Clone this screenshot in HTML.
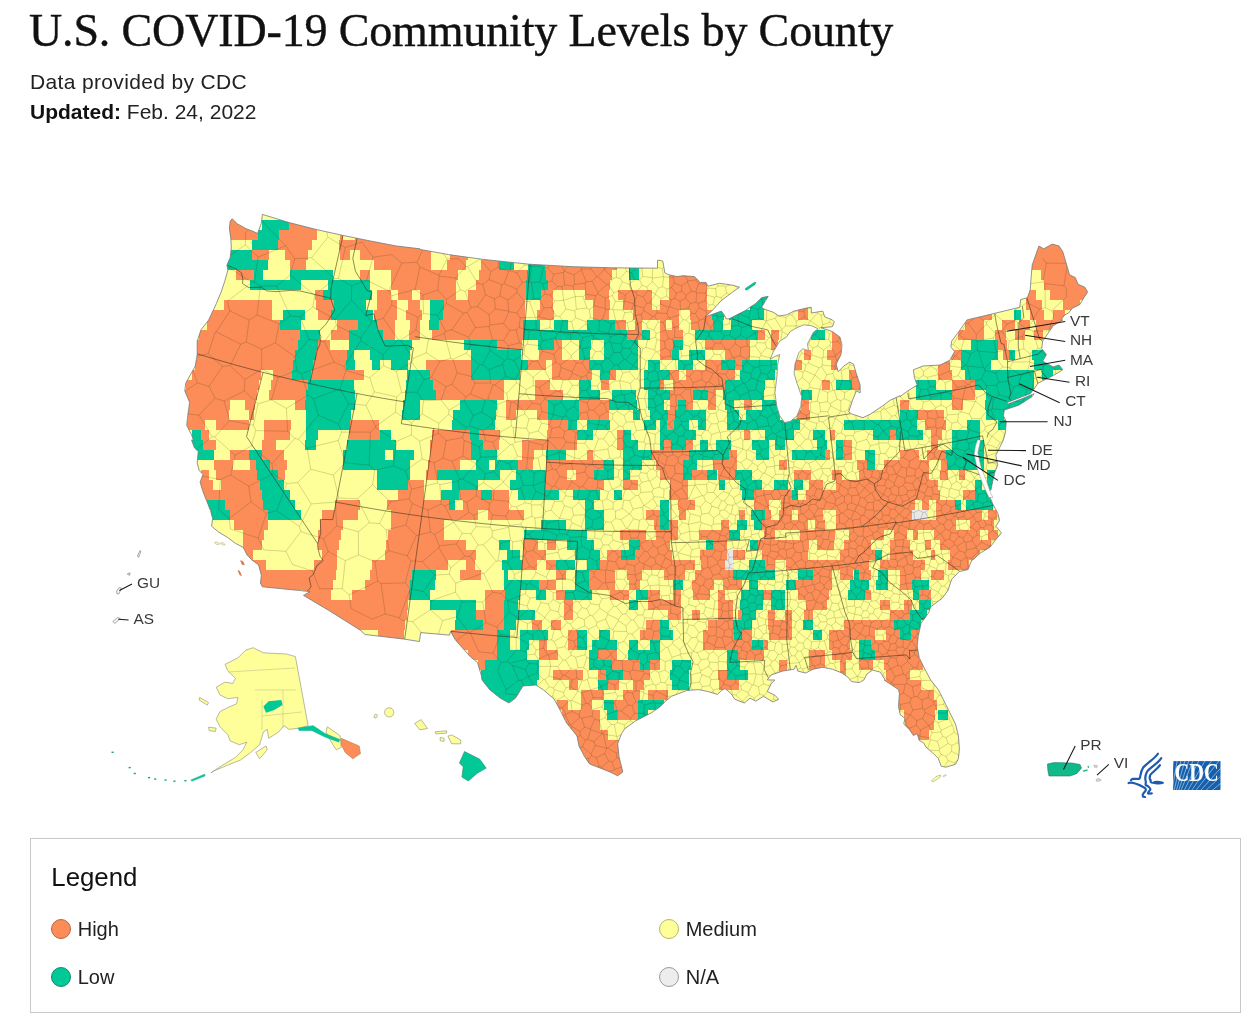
<!DOCTYPE html>
<html><head><meta charset="utf-8">
<style>
html,body{margin:0;padding:0;background:#fff;}
body{width:1253px;height:1022px;position:relative;overflow:hidden;font-family:"Liberation Sans",sans-serif;color:#111;}
#title,#sub1,#sub2,#legend,#map{will-change:transform;}
#title{position:absolute;left:29px;top:4px;font-family:"Liberation Serif",serif;font-size:46px;line-height:54px;white-space:nowrap;color:#111;letter-spacing:-0.15px;-webkit-text-stroke:0.4px #111;}
#sub1{position:absolute;left:30px;top:68px;font-size:21px;letter-spacing:0.35px;line-height:28px;color:#222;white-space:nowrap;}
#sub2{position:absolute;left:30px;top:98px;font-size:21px;line-height:28px;color:#222;white-space:nowrap;}
#sub2 b{color:#111;}
#map{position:absolute;left:0;top:0;width:1253px;height:1022px;}
#legend{position:absolute;left:30px;top:838px;width:1209px;height:173px;border:1px solid #c8c8c8;box-sizing:content-box;}
#legend .t{position:absolute;left:20.3px;top:22.6px;font-size:25.8px;line-height:30px;color:#111;}
.li{position:absolute;font-size:20px;line-height:24px;color:#222;white-space:nowrap;}
.li i{position:absolute;left:0;top:2px;width:18px;height:18px;border-radius:50%;border:1px solid #888;display:block;}
.li span{position:absolute;left:26.7px;top:0;}
</style></head><body>
<div id="title">U.S. COVID-19 Community Levels by County</div>
<div id="sub1">Data provided by CDC</div>
<div id="sub2"><b>Updated:</b> Feb. 24, 2022</div>
<svg id="map" viewBox="0 0 1253 1022">
<!--MAP-->
<defs><clipPath id="us"><polygon points="232.1,218.8 237.5,223.9 246.1,228.7 253.7,231.6 257.6,233.5 261.4,223 262.4,214.4 289.2,222.6 317,229.7 342.8,235.4 371.5,241.2 396.4,246 420,248.8 420,249.4 448.7,254.6 483.2,259.4 529.2,264.2 573.2,266.7 611.5,267.8 657.5,268.2 657.5,260.3 660,260.3 662.9,261.3 664.8,272.8 668.6,274.7 677.2,276.6 683,275.7 694.5,276.6 700.2,282.4 706,282.4 707.9,286.2 719.4,283.3 732.8,285.2 739.5,287.2 732.8,291.9 721.3,300.6 711.7,311.1 705,316.8 707.9,315.9 721.3,311.1 724.2,314.9 726.1,318.8 729,318.8 744.3,311.1 755.8,303.4 761.5,297.7 768.2,296.3 766.3,299.6 761.5,307.3 764.4,309.2 773,312.1 778.8,315.9 786.4,314.9 794.1,311.1 805.6,308.2 811.3,307.3 811.3,313 822.8,311.1 824.7,316.8 832.4,319.9 834.3,321.9 832.4,326.7 820.9,327.7 832.4,331.5 840,337.2 842,344.9 841,354.5 836.2,364.1 838.1,371.7 843.9,366 849.6,362.1 853.5,364.1 856.3,373.6 860.2,385.1 860.2,392.8 856.3,390.9 852.5,400.4 848.7,411.9 851.5,413.9 863,417.7 870.7,413.9 882.2,406.2 889.8,400.4 900,395.7 900,396.6 907.7,390.9 917.2,385.1 914.4,377.5 913.4,369.8 923,366 940.2,365 949.8,360.2 954.6,351.6 950.8,346.8 951.7,341.1 957.5,333.4 967,320 967,319.9 991.9,314 1019.7,307.3 1020.7,299.6 1027.4,297.7 1030.2,290 1031.2,276.6 1032.2,265.1 1038.9,246 1043.7,248.8 1052.3,244.1 1059,246 1062.8,251.7 1069.5,274.7 1075.3,277.6 1078.1,284.3 1084.8,287.2 1087.7,291.9 1083.9,297.7 1080,304.4 1072.4,308.2 1068.6,313 1064.7,314.9 1060.9,319.9 1062.8,320 1053.2,325.7 1042.7,341.1 1041.7,348.7 1046.5,354.5 1042.7,361.2 1053.2,366.9 1059,365 1062.8,369.8 1053.2,375.5 1045.6,379.4 1037.9,383.2 1034.1,389 1030.2,393.7 1022.6,396.6 1007.3,402.4 1007.3,404.3 1022.6,398.5 1034.1,393.7 1032.2,396.6 1018.8,405.2 1004.4,410 1003.4,415.8 1006.3,421.5 1005.3,433 1003.4,439.9 1003.4,440 999.6,447.7 995.8,455.3 997.7,464.9 994.8,472.6 992.9,480.2 991,489.8 988.1,491.7 990,497.5 992.9,504.2 997.7,512.8 999.6,520.4 995.8,526.2 1001.5,532.9 995.8,539.6 990,547.3 980.4,553 972.8,559.9 971.8,560 968,569.6 959.4,571.5 951.7,579.2 947.9,590.6 942.1,598.3 930.6,606.9 928.7,612.7 921.1,623.2 918.2,636.6 917.2,646.2 919.2,657.7 924.9,669.2 930.6,679.9 930.6,680 938.3,689.6 944.1,701.1 949.8,712.6 955.5,724.1 958.4,735.5 959.4,749 958.4,758.5 955.5,764.3 946,767.2 941.2,766.2 938.3,758.5 932.6,752.8 925.9,747 923.9,743.2 919.2,740.3 917.2,733.6 913.4,735.5 909.6,729.8 903.8,724.1 904.8,718.3 900,714.5 900,713.5 898.5,706.8 899.4,693.4 898.5,689.6 889.8,683.8 884.1,680 885.1,679.9 880.3,672.1 872.6,670.1 866.9,674 864,679.9 859.2,682.6 851.5,681.6 848.7,677.8 842,673 832.4,669.2 822.8,667.3 813.2,669.2 805.6,673 797.9,671.1 796,665.3 794.1,669.2 782.6,671.1 771.1,674.9 767.3,679.9 774.9,680 771.1,683.8 767.3,691.5 774.9,695.3 778.8,699.2 773,702 763.4,696.3 755.8,701.1 750,698.2 744.3,703 734.7,699.2 730.9,693.4 725.1,688.6 721.3,690.5 717.5,694.4 707.9,691.5 698.3,689.6 686.8,690.5 679.2,693.4 671.5,696.3 665.7,701.1 660,706.8 651,713 635.6,720.9 625,728.5 621.5,733.6 617.7,743.8 619,756.6 622.8,772 617.7,775.8 610,772 600,768 589.6,764 584.5,756.6 579,746 577,736 566.6,723 559,708 554,699 543.6,690 536,685 523,686 515.6,698 509,703 500,698 490,690 482,680 481.3,675.4 477.5,662.6 469.8,656.2 459.6,644.7 455.1,639.6 450.7,631.3 449.4,635.1 420.7,632.6 419.4,641.5 403.4,639 365.1,634.5 360,630 329.4,610.8 303.5,595.4 310.2,591.6 262.4,586.8 260.4,583 261.4,575.3 258.5,564.8 251.8,560 251.8,559.9 247,554.9 243.2,547.3 235.5,543.4 227.9,537.7 218.3,531.9 211.6,526.2 212.6,518.5 210.6,510.9 206.8,501.3 203,491.7 200.1,482.1 203,474.5 199.2,470.6 197.2,463 198.2,451.5 194.4,447.7 191.5,440 193.4,439.9 191.5,434.9 186.7,425.3 187.7,415.8 189.6,402.4 184.8,390.9 185.7,383.2 195.3,366 197.2,354.5 197.2,341.1 201.1,329.6 208.7,320 208.7,319.9 216.4,303.4 221.2,291.9 225,280.4 227.9,269.9 226.9,265.1 230.2,257.5 231.3,247.9 230.8,238.3 229.4,228.7 230.2,221.1"/></clipPath><clipPath id="cdcb"><rect x="1173.1" y="761.1" width="47.4" height="28.9"/></clipPath></defs>
<g clip-path="url(#us)" shape-rendering="crispEdges">
<polygon points="232.1,218.8 237.5,223.9 246.1,228.7 253.7,231.6 257.6,233.5 261.4,223 262.4,214.4 289.2,222.6 317,229.7 342.8,235.4 371.5,241.2 396.4,246 420,248.8 420,249.4 448.7,254.6 483.2,259.4 529.2,264.2 573.2,266.7 611.5,267.8 657.5,268.2 657.5,260.3 660,260.3 662.9,261.3 664.8,272.8 668.6,274.7 677.2,276.6 683,275.7 694.5,276.6 700.2,282.4 706,282.4 707.9,286.2 719.4,283.3 732.8,285.2 739.5,287.2 732.8,291.9 721.3,300.6 711.7,311.1 705,316.8 707.9,315.9 721.3,311.1 724.2,314.9 726.1,318.8 729,318.8 744.3,311.1 755.8,303.4 761.5,297.7 768.2,296.3 766.3,299.6 761.5,307.3 764.4,309.2 773,312.1 778.8,315.9 786.4,314.9 794.1,311.1 805.6,308.2 811.3,307.3 811.3,313 822.8,311.1 824.7,316.8 832.4,319.9 834.3,321.9 832.4,326.7 820.9,327.7 832.4,331.5 840,337.2 842,344.9 841,354.5 836.2,364.1 838.1,371.7 843.9,366 849.6,362.1 853.5,364.1 856.3,373.6 860.2,385.1 860.2,392.8 856.3,390.9 852.5,400.4 848.7,411.9 851.5,413.9 863,417.7 870.7,413.9 882.2,406.2 889.8,400.4 900,395.7 900,396.6 907.7,390.9 917.2,385.1 914.4,377.5 913.4,369.8 923,366 940.2,365 949.8,360.2 954.6,351.6 950.8,346.8 951.7,341.1 957.5,333.4 967,320 967,319.9 991.9,314 1019.7,307.3 1020.7,299.6 1027.4,297.7 1030.2,290 1031.2,276.6 1032.2,265.1 1038.9,246 1043.7,248.8 1052.3,244.1 1059,246 1062.8,251.7 1069.5,274.7 1075.3,277.6 1078.1,284.3 1084.8,287.2 1087.7,291.9 1083.9,297.7 1080,304.4 1072.4,308.2 1068.6,313 1064.7,314.9 1060.9,319.9 1062.8,320 1053.2,325.7 1042.7,341.1 1041.7,348.7 1046.5,354.5 1042.7,361.2 1053.2,366.9 1059,365 1062.8,369.8 1053.2,375.5 1045.6,379.4 1037.9,383.2 1034.1,389 1030.2,393.7 1022.6,396.6 1007.3,402.4 1007.3,404.3 1022.6,398.5 1034.1,393.7 1032.2,396.6 1018.8,405.2 1004.4,410 1003.4,415.8 1006.3,421.5 1005.3,433 1003.4,439.9 1003.4,440 999.6,447.7 995.8,455.3 997.7,464.9 994.8,472.6 992.9,480.2 991,489.8 988.1,491.7 990,497.5 992.9,504.2 997.7,512.8 999.6,520.4 995.8,526.2 1001.5,532.9 995.8,539.6 990,547.3 980.4,553 972.8,559.9 971.8,560 968,569.6 959.4,571.5 951.7,579.2 947.9,590.6 942.1,598.3 930.6,606.9 928.7,612.7 921.1,623.2 918.2,636.6 917.2,646.2 919.2,657.7 924.9,669.2 930.6,679.9 930.6,680 938.3,689.6 944.1,701.1 949.8,712.6 955.5,724.1 958.4,735.5 959.4,749 958.4,758.5 955.5,764.3 946,767.2 941.2,766.2 938.3,758.5 932.6,752.8 925.9,747 923.9,743.2 919.2,740.3 917.2,733.6 913.4,735.5 909.6,729.8 903.8,724.1 904.8,718.3 900,714.5 900,713.5 898.5,706.8 899.4,693.4 898.5,689.6 889.8,683.8 884.1,680 885.1,679.9 880.3,672.1 872.6,670.1 866.9,674 864,679.9 859.2,682.6 851.5,681.6 848.7,677.8 842,673 832.4,669.2 822.8,667.3 813.2,669.2 805.6,673 797.9,671.1 796,665.3 794.1,669.2 782.6,671.1 771.1,674.9 767.3,679.9 774.9,680 771.1,683.8 767.3,691.5 774.9,695.3 778.8,699.2 773,702 763.4,696.3 755.8,701.1 750,698.2 744.3,703 734.7,699.2 730.9,693.4 725.1,688.6 721.3,690.5 717.5,694.4 707.9,691.5 698.3,689.6 686.8,690.5 679.2,693.4 671.5,696.3 665.7,701.1 660,706.8 651,713 635.6,720.9 625,728.5 621.5,733.6 617.7,743.8 619,756.6 622.8,772 617.7,775.8 610,772 600,768 589.6,764 584.5,756.6 579,746 577,736 566.6,723 559,708 554,699 543.6,690 536,685 523,686 515.6,698 509,703 500,698 490,690 482,680 481.3,675.4 477.5,662.6 469.8,656.2 459.6,644.7 455.1,639.6 450.7,631.3 449.4,635.1 420.7,632.6 419.4,641.5 403.4,639 365.1,634.5 360,630 329.4,610.8 303.5,595.4 310.2,591.6 262.4,586.8 260.4,583 261.4,575.3 258.5,564.8 251.8,560 251.8,559.9 247,554.9 243.2,547.3 235.5,543.4 227.9,537.7 218.3,531.9 211.6,526.2 212.6,518.5 210.6,510.9 206.8,501.3 203,491.7 200.1,482.1 203,474.5 199.2,470.6 197.2,463 198.2,451.5 194.4,447.7 191.5,440 193.4,439.9 191.5,434.9 186.7,425.3 187.7,415.8 189.6,402.4 184.8,390.9 185.7,383.2 195.3,366 197.2,354.5 197.2,341.1 201.1,329.6 208.7,320 208.7,319.9 216.4,303.4 221.2,291.9 225,280.4 227.9,269.9 226.9,265.1 230.2,257.5 231.3,247.9 230.8,238.3 229.4,228.7 230.2,221.1" fill="#ffff99"/>
<path fill="#fc8d59" d="M230.2 210h26.4v10h-26.4zM290.1 210h129.9v10h-129.9zM228.8 220h28.7v10h-28.7zM289.2 220h27.8v10h-27.8zM353.3 220h66.7v10h-66.7zM229.4 230h28.2v10h-28.2zM278.6 230h38.3v10h-38.3zM339.9 230h2.9v10h-2.9zM355.3 230h64.7v10h-64.7zM277.7 240h34.5v10h-34.5zM339 240h81v10h-81zM251.8 250h17.2v10h-17.2zM285.3 250h23v10h-23zM339.9 250h10.5v10h-10.5zM360 250h60v10h-60zM290.1 260h16.3v10h-16.3zM373.5 260h46.5v10h-46.5zM235.5 270h18.2v10h-18.2zM360 270h9.6v10h-9.6zM390.7 270h29.3v10h-29.3zM390.7 280h29.3v10h-29.3zM315 290h7.7v10h-7.7zM377.3 290h13.4v10h-13.4zM398.4 290h13.4v10h-13.4zM224.1 300h47.9v10h-47.9zM316 300h18.2v10h-18.2zM377.3 300h19.2v10h-19.2zM407.9 300h12.1v10h-12.1zM208.7 310h63.2v10h-63.2zM317.9 310h13.4v10h-13.4zM373.5 310h23v10h-23zM406 310h14v10h-14zM206.8 320h72.8v10h-72.8zM337.1 320h21.1v10h-21.1zM377.3 320h17.2v10h-17.2zM409.8 320h10.2v10h-10.2zM199.2 330h100.6v10h-100.6zM331.3 330h17.2v10h-17.2zM383 330h11.5v10h-11.5zM408.9 330h11.1v10h-11.1zM197.2 340h100.6v10h-100.6zM317.9 340h12.5v10h-12.5zM197.2 350h97.7v10h-97.7zM316 350h30.6v10h-30.6zM195.3 360h97.7v10h-97.7zM313.1 360h32.6v10h-32.6zM191.5 370h69.9v10h-69.9zM272.9 370h19.2v10h-19.2zM311.2 370h52.7v10h-52.7zM185.7 380h73.7v10h-73.7zM271 380h37.4v10h-37.4zM184.8 390h71.8v10h-71.8zM269.1 390h37.4v10h-37.4zM188.6 400h41.2v10h-41.2zM245.1 400h9.6v10h-9.6zM294.9 400h9.6v10h-9.6zM187.7 410h41.2v10h-41.2zM249 410h4.8v10h-4.8zM186.7 420h18.2v10h-18.2zM216.4 420h32.6v10h-32.6zM264.3 420h26.8v10h-26.8zM349.5 420h29.7v10h-29.7zM201.1 430h7.7v10h-7.7zM264.3 430h25.9v10h-25.9zM348.6 430h31.6v10h-31.6zM203 440h12.5v10h-12.5zM262.4 440h13.4v10h-13.4zM229.8 450h19.2v10h-19.2zM262.4 450h22v10h-22zM213.5 460h19.2v10h-19.2zM249.9 460h5.7v10h-5.7zM270 460h17.2v10h-17.2zM201.1 470h7.7v10h-7.7zM216.4 470h40.2v10h-40.2zM277.7 470h7.7v10h-7.7zM200.1 480h12.5v10h-12.5zM221.2 480h39.3v10h-39.3zM407.9 480h12.1v10h-12.1zM203 490h59.4v10h-59.4zM398.4 490h21.6v10h-21.6zM225 500h38.3v10h-38.3zM335.1 500h24.9v10h-24.9zM386.9 500h33.1v10h-33.1zM229.8 510h38.3v10h-38.3zM321.7 510h36.4v10h-36.4zM390.7 510h29.3v10h-29.3zM233.6 520h34.5v10h-34.5zM319.8 520h23v10h-23zM390.7 520h29.3v10h-29.3zM243.2 530h21.1v10h-21.1zM317.9 530h23v10h-23zM387.8 530h32.2v10h-32.2zM243.2 540h19.2v10h-19.2zM317.9 540h21.1v10h-21.1zM385.9 540h34.1v10h-34.1zM245.1 550h7.7v10h-7.7zM321.7 550h15.3v10h-15.3zM384.9 550h35.1v10h-35.1zM251.8 560h14.4v10h-14.4zM314.1 560h23v10h-23zM371.5 560h48.5v10h-48.5zM259.5 570h76.6v10h-76.6zM369.6 570h42.1v10h-42.1zM260.4 580h72.8v10h-72.8zM364.8 580h45v10h-45zM302.6 590h28.7v10h-28.7zM352.4 590h56.5v10h-56.5zM312.2 600h95.8v10h-95.8zM329.4 610h77.6v10h-77.6zM344.7 620h60.3v10h-60.3zM378.2 630h25.9v10h-25.9zM420 250h10.5v10h-10.5zM449.7 250h18.2v10h-18.2zM483.2 250h176.8v10h-176.8zM420 260h10.5v10h-10.5zM446.8 260h19.2v10h-19.2zM481.3 260h17.2v10h-17.2zM544.5 260h72.8v10h-72.8zM420 270h38.3v10h-38.3zM479.4 270h47.9v10h-47.9zM545.5 270h66.1v10h-66.1zM420 280h36.4v10h-36.4zM475.5 280h50.8v10h-50.8zM548.3 280h61.3v10h-61.3zM420 290h36.4v10h-36.4zM467.9 290h58.4v10h-58.4zM540.7 290h12.5v10h-12.5zM584.7 290h23.9v10h-23.9zM618.2 290h33.5v10h-33.5zM443.9 300h81.4v10h-81.4zM539.7 300h13.4v10h-13.4zM593.3 300h16.3v10h-16.3zM623 300h28.7v10h-28.7zM420 310h1.9v10h-1.9zM443 310h82.4v10h-82.4zM536.8 310h17.2v10h-17.2zM593.3 310h15.3v10h-15.3zM632.6 310h27.4v10h-27.4zM439.2 320h84.3v10h-84.3zM615.4 320h10.5v10h-10.5zM634.5 320h7.7v10h-7.7zM431.5 330h91.9v10h-91.9zM626.9 330h15.3v10h-15.3zM496.6 340h24.9v10h-24.9zM554.1 340h7.7v10h-7.7zM538.8 350h23v10h-23zM425.7 360h45v10h-45zM528.2 360h18.2v10h-18.2zM552.2 360h36.4v10h-36.4zM429.6 370h41.2v10h-41.2zM552.2 370h40.2v10h-40.2zM609.6 370h6.7v10h-6.7zM433.4 380h70.9v10h-70.9zM534.9 380h15.3v10h-15.3zM601 380h7.7v10h-7.7zM436.3 390h68v10h-68zM534.9 390h27.8v10h-27.8zM506.2 400h42.1v10h-42.1zM579 400h29.7v10h-29.7zM506.2 410h9.6v10h-9.6zM536.8 410h11.5v10h-11.5zM579 410h29.7v10h-29.7zM548.3 420h20.1v10h-20.1zM431.5 430h38.3v10h-38.3zM479.4 430h20.1v10h-20.1zM547.4 430h29.7v10h-29.7zM617.3 430h5.7v10h-5.7zM429.6 440h41.2v10h-41.2zM483.2 440h15.3v10h-15.3zM521.5 440h55.5v10h-55.5zM617.3 440h5.7v10h-5.7zM429.6 450h41.2v10h-41.2zM521.5 450h12.5v10h-12.5zM586.6 450h6.7v10h-6.7zM651.8 450h8.2v10h-8.2zM427.7 460h32.6v10h-32.6zM517.7 460h15.3v10h-15.3zM545.5 460h58.4v10h-58.4zM655.6 460h4.4v10h-4.4zM425.7 470h11.5v10h-11.5zM544.5 470h22v10h-22zM576.1 470h18.2v10h-18.2zM420 480h3.8v10h-3.8zM544.5 480h59.4v10h-59.4zM623 480h15.3v10h-15.3zM420 490h3.8v10h-3.8zM459.3 490h22v10h-22zM491.8 490h17.2v10h-17.2zM420 500h28.7v10h-28.7zM463.1 500h46v10h-46zM420 510h57.5v10h-57.5zM488 510h36.4v10h-36.4zM646 510h14v10h-14zM420 520h23.9v10h-23.9zM653.7 520h6.3v10h-6.3zM420 530h23.9v10h-23.9zM620.2 530h25.9v10h-25.9zM655.6 530h4.4v10h-4.4zM420 540h46v10h-46zM523.4 540h14.4v10h-14.4zM547.4 540h8.6v10h-8.6zM640.3 540h19.7v10h-19.7zM420 550h55.5v10h-55.5zM523.4 550h23v10h-23zM606.8 550h14.4v10h-14.4zM634.5 550h25.5v10h-25.5zM420 560h27.8v10h-27.8zM466 560h8.6v10h-8.6zM521.5 560h15.3v10h-15.3zM546.4 560h9.6v10h-9.6zM600 560h60v10h-60zM460.2 570h21.1v10h-21.1zM556 570h9.6v10h-9.6zM588.6 570h26.8v10h-26.8zM626.9 570h15.3v10h-15.3zM538.8 580h17.2v10h-17.2zM588.6 580h26.8v10h-26.8zM628.8 580h11.5v10h-11.5zM485.1 590h20.1v10h-20.1zM556 590h8.6v10h-8.6zM609.6 590h19.2v10h-19.2zM647.9 590h12.1v10h-12.1zM485.1 600h19.2v10h-19.2zM563.7 600h9.6v10h-9.6zM647.9 600h12.1v10h-12.1zM475.5 610h28.7v10h-28.7zM563.7 610h9.6v10h-9.6zM483.2 620h21.1v10h-21.1zM532.1 620h9.6v10h-9.6zM551.2 620h9.6v10h-9.6zM646 620h14v10h-14zM450.6 630h46v10h-46zM567.5 630h9.6v10h-9.6zM640.3 630h19.7v10h-19.7zM456.4 640h40.2v10h-40.2zM538.8 640h8.6v10h-8.6zM567.5 640h9.6v10h-9.6zM467.9 650h28.7v10h-28.7zM538.8 650h19.2v10h-19.2zM598.1 650h19.2v10h-19.2zM477.5 660h7.7v10h-7.7zM611.5 660h28.7v10h-28.7zM649.8 660h10.2v10h-10.2zM553.1 670h29.7v10h-29.7zM598.1 670h7.7v10h-7.7zM623 670h26.8v10h-26.8zM569.4 680h8.6v10h-8.6zM607.7 680h11.5v10h-11.5zM632.6 680h11.5v10h-11.5zM580.9 690h23v10h-23zM623 690h17.2v10h-17.2zM647.9 690h12.1v10h-12.1zM557 700h10.5v10h-10.5zM580.9 700h11.5v10h-11.5zM613.5 700h24.9v10h-24.9zM561.7 710h38.3v10h-38.3zM617.3 710h21.1v10h-21.1zM565.6 720h34.5v10h-34.5zM573.2 730h34.5v10h-34.5zM573.2 740h53.6v10h-53.6zM577.1 750h49.8v10h-49.8zM582.8 760h44.1v10h-44.1zM592.4 770h34.5v10h-34.5zM602 780h24.9v10h-24.9zM668.6 270h39.3v10h-39.3zM668.6 280h38.3v10h-38.3zM668.6 290h38.3v10h-38.3zM660 300h46.9v10h-46.9zM797.9 300h9.6v10h-9.6zM660 310h19.2v10h-19.2zM689.7 310h22v10h-22zM797.9 310h9.6v10h-9.6zM660 320h5.7v10h-5.7zM671.5 320h7.7v10h-7.7zM690.6 320h22v10h-22zM660 330h23v10h-23zM757.7 330h7.7v10h-7.7zM771.1 330h7.7v10h-7.7zM832.4 330h8.6v10h-8.6zM660 340h12.5v10h-12.5zM705 340h45v10h-45zM771.1 340h6.7v10h-6.7zM832.4 340h8.6v10h-8.6zM660 350h11.5v10h-11.5zM725.1 350h24.9v10h-24.9zM803.7 350h7.7v10h-7.7zM826.6 350h15.3v10h-15.3zM705 360h16.3v10h-16.3zM734.7 360h7.7v10h-7.7zM794.1 360h7.7v10h-7.7zM830.5 360h7.7v10h-7.7zM669.6 370h9.6v10h-9.6zM685.9 370h48.8v10h-48.8zM848.7 370h9.6v10h-9.6zM660 380h3.8v10h-3.8zM673.4 380h51.7v10h-51.7zM821.9 380h7.7v10h-7.7zM851.5 380h8.6v10h-8.6zM669.6 390h23v10h-23zM707.9 390h7.7v10h-7.7zM669.6 400h8.6v10h-8.6zM685.9 400h6.7v10h-6.7zM707.9 400h7.7v10h-7.7zM744.3 400h7.7v10h-7.7zM800.8 400h8.6v10h-8.6zM667.7 410h7.7v10h-7.7zM797 410h12.5v10h-12.5zM666.7 420h7.7v10h-7.7zM744.3 430h5.7v10h-5.7zM829.5 430h5.7v10h-5.7zM889.8 430h5.7v10h-5.7zM663.8 440h6.7v10h-6.7zM685.9 440h6.7v10h-6.7zM842.9 440h8.6v10h-8.6zM660 450h28.7v10h-28.7zM729 450h7.7v10h-7.7zM824.7 450h5.7v10h-5.7zM842.9 450h8.6v10h-8.6zM660 460h23v10h-23zM712.7 460h23.9v10h-23.9zM778.8 460h7.7v10h-7.7zM857.3 460h9.6v10h-9.6zM884.1 460h15.9v10h-15.9zM660 470h23v10h-23zM691.6 470h15.3v10h-15.3zM717.5 470h17.2v10h-17.2zM794.1 470h17.2v10h-17.2zM832.4 470h9.6v10h-9.6zM859.2 470h40.8v10h-40.8zM669.6 480h18.2v10h-18.2zM809.4 480h13.4v10h-13.4zM836.2 480h63.8v10h-63.8zM668.6 490h19.2v10h-19.2zM753.9 490h38.3v10h-38.3zM805.6 490h94.4v10h-94.4zM678.2 500h16.3v10h-16.3zM753.9 500h15.3v10h-15.3zM780.7 500h119.3v10h-119.3zM679.2 510h6.7v10h-6.7zM738.5 510h6.7v10h-6.7zM765.3 510h5.7v10h-5.7zM778.8 510h13.4v10h-13.4zM797.9 510h24.9v10h-24.9zM836.2 510h63.8v10h-63.8zM668.6 520h9.6v10h-9.6zM721.3 520h7.7v10h-7.7zM761.5 520h46v10h-46zM815.1 520h9.6v10h-9.6zM836.2 520h63.8v10h-63.8zM660 530h18.2v10h-18.2zM699.3 530h29.7v10h-29.7zM764.4 530h10.5v10h-10.5zM799.8 530h35.4v10h-35.4zM848.7 530h35.4v10h-35.4zM893.7 530h6.3v10h-6.3zM660 540h9.6v10h-9.6zM712.7 540h14.4v10h-14.4zM757.7 540h51.7v10h-51.7zM817.1 540h17.2v10h-17.2zM843.9 540h26.8v10h-26.8zM889.8 540h10.2v10h-10.2zM660 550h11.5v10h-11.5zM700.2 550h26.8v10h-26.8zM732.8 550h12.5v10h-12.5zM761.5 550h46v10h-46zM840 550h34.5v10h-34.5zM889.8 550h10.2v10h-10.2zM660 560h35.4v10h-35.4zM701.2 560h23.9v10h-23.9zM765.3 560h9.6v10h-9.6zM786.4 560h82.4v10h-82.4zM880.3 560h19.7v10h-19.7zM663.8 570h21.1v10h-21.1zM694.5 570h38.3v10h-38.3zM813.2 570h19.2v10h-19.2zM840 570h13.4v10h-13.4zM859.2 570h11.5v10h-11.5zM691.6 580h22v10h-22zM723.2 580h19.2v10h-19.2zM796 580h36.4v10h-36.4zM673.4 590h7.7v10h-7.7zM692.6 590h17.2v10h-17.2zM717.5 590h7.7v10h-7.7zM764.4 590h6.7v10h-6.7zM797.9 590h30.6v10h-30.6zM864.9 590h5.7v10h-5.7zM660 600h21.1v10h-21.1zM717.5 600h15.3v10h-15.3zM805.6 600h21.1v10h-21.1zM880.3 600h9.6v10h-9.6zM667.7 610h13.4v10h-13.4zM691.6 610h8.6v10h-8.6zM717.5 610h15.3v10h-15.3zM737.6 610h4.8v10h-4.8zM768.2 610h6.7v10h-6.7zM784.5 610h7.7v10h-7.7zM803.7 610h9.6v10h-9.6zM889.8 610h10.2v10h-10.2zM707.9 620h24.9v10h-24.9zM768.2 620h23.9v10h-23.9zM843.9 620h49.8v10h-49.8zM703.1 630h30.6v10h-30.6zM742.4 630h9.6v10h-9.6zM769.2 630h23v10h-23zM828.6 630h46v10h-46zM886 630h14v10h-14zM703.1 640h48.8v10h-48.8zM763.4 640h4.8v10h-4.8zM828.6 640h21.1v10h-21.1zM870.7 640h29.3v10h-29.3zM737.6 650h25.9v10h-25.9zM809.4 650h15.3v10h-15.3zM832.4 650h19.2v10h-19.2zM874.5 650h25.5v10h-25.5zM778.8 660h8.6v10h-8.6zM809.4 660h15.3v10h-15.3zM840 660h5.7v10h-5.7zM859.2 660h13.4v10h-13.4zM884.1 660h15.9v10h-15.9zM717.5 670h9.6v10h-9.6zM778.8 670h8.6v10h-8.6zM840 670h5.7v10h-5.7zM886 670h14v10h-14zM719.4 680h19.2v10h-19.2zM884.1 680h15.9v10h-15.9zM660 690h7.7v10h-7.7zM895.6 690h4.4v10h-4.4zM897.5 700h2.5v10h-2.5zM898.5 710h1.5v10h-1.5zM1034.1 240h30.6v10h-30.6zM1032.2 250h34.5v10h-34.5zM1031.2 260h37.4v10h-37.4zM1040.8 270h35.4v10h-35.4zM1043.7 280h43.1v10h-43.1zM1025.5 290h10.5v10h-10.5zM1050.4 290h36.4v10h-36.4zM1025.5 300h16.3v10h-16.3zM1062.8 300h17.2v10h-17.2zM969 310h23v10h-23zM1030.2 310h13.4v10h-13.4zM1053.2 310h11.5v10h-11.5zM965.1 320h19.2v10h-19.2zM1001.5 320h13.4v10h-13.4zM1018.8 320h11.5v10h-11.5zM1036 320h26.8v10h-26.8zM957.5 330h26.8v10h-26.8zM994.8 330h11.5v10h-11.5zM1014.9 330h9.6v10h-9.6zM1034.1 330h8.6v10h-8.6zM997.7 340h9.6v10h-9.6zM950.8 350h10.5v10h-10.5zM1003.4 350h5.7v10h-5.7zM938.3 360h11.5v10h-11.5zM938.3 370h13.4v10h-13.4zM951.7 380h23v10h-23zM951.7 390h23v10h-23zM900 400h8.6v10h-8.6zM951.7 400h11.5v10h-11.5zM918.2 410h25.9v10h-25.9zM924.9 420h21.1v10h-21.1zM930.6 430h11.5v10h-11.5zM930.6 440h7.7v10h-7.7zM900 450h19.2v10h-19.2zM926.8 450h19.2v10h-19.2zM900 460h28.7v10h-28.7zM941.2 460h5.7v10h-5.7zM900 470h28.7v10h-28.7zM940.2 470h7.7v10h-7.7zM959.4 470h5.7v10h-5.7zM900 480h38.3v10h-38.3zM900 490h40.2v10h-40.2zM963.2 490h11.5v10h-11.5zM900 500h15.3v10h-15.3zM922 500h6.7v10h-6.7zM936.4 500h18.2v10h-18.2zM900 510h11.5v10h-11.5zM936.4 510h46v10h-46zM988.1 510h8.6v10h-8.6zM900 520h55.5v10h-55.5zM969.9 520h23.9v10h-23.9zM900 530h6.7v10h-6.7zM912.5 530h5.7v10h-5.7zM933.5 530h46.9v10h-46.9zM988.1 530h9.6v10h-9.6zM900 540h9.6v10h-9.6zM924.9 540h5.7v10h-5.7zM940.2 540h50.8v10h-50.8zM900 550h13.4v10h-13.4zM930.6 550h4.8v10h-4.8zM949.8 550h30.6v10h-30.6zM900 560h24.9v10h-24.9zM947.9 560h21.1v10h-21.1zM900 570h21.1v10h-21.1zM930.6 570h13.4v10h-13.4zM900 580h11.5v10h-11.5zM919.2 590h11.5v10h-11.5zM903.8 600h7.7v10h-7.7zM900 610h9.6v10h-9.6zM910.5 630h8.6v10h-8.6zM900 640h18.2v10h-18.2zM900 650h19.2v10h-19.2zM900 660h23v10h-23zM900 670h9.6v10h-9.6zM900 680h21.1v10h-21.1zM900 690h33.5v10h-33.5zM900 700h37.4v10h-37.4zM903.8 710h31.6v10h-31.6zM904.8 720h28.7v10h-28.7zM909.6 730h19.2v10h-19.2z"/>
<path fill="#00c896" d="M262.4 220h26.8v10h-26.8zM257.6 230h4.8v10h-4.8zM262.4 230h16.3v10h-16.3zM251.8 240h25.9v10h-25.9zM229.4 250h22.4v10h-22.4zM226.9 260h41.2v10h-41.2zM253.7 270h9.6v10h-9.6zM290.1 270h43.1v10h-43.1zM249.9 280h50.8v10h-50.8zM327.5 280h42.1v10h-42.1zM322.7 290h48.8v10h-48.8zM334.2 300h31.6v10h-31.6zM283.4 310h21.1v10h-21.1zM331.3 310h42.1v10h-42.1zM279.6 320h21.1v10h-21.1zM358.1 320h19.2v10h-19.2zM299.7 330h20.1v10h-20.1zM348.6 330h34.5v10h-34.5zM297.8 340h20.1v10h-20.1zM348.6 340h63.2v10h-63.2zM294.9 350h21.1v10h-21.1zM346.6 350h7.7v10h-7.7zM369.6 350h40.2v10h-40.2zM293 360h20.1v10h-20.1zM345.7 360h9.6v10h-9.6zM371.5 360h8.6v10h-8.6zM390.7 360h17.2v10h-17.2zM292.1 370h19.2v10h-19.2zM407 370h13v10h-13zM308.3 380h46v10h-46zM406 380h14v10h-14zM306.4 390h48.8v10h-48.8zM405.1 390h14.9v10h-14.9zM304.5 400h50.8v10h-50.8zM403.1 400h16.9v10h-16.9zM306.4 410h44.1v10h-44.1zM402.2 410h17.8v10h-17.8zM306.4 420h43.1v10h-43.1zM191.5 430h9.6v10h-9.6zM305.5 430h12.5v10h-12.5zM380.2 430h10.5v10h-10.5zM191.5 440h11.5v10h-11.5zM304.5 440h11.5v10h-11.5zM346.6 440h49.8v10h-49.8zM196.3 450h17.2v10h-17.2zM249 450h13.4v10h-13.4zM342.8 450h42.1v10h-42.1zM392.6 450h21.1v10h-21.1zM255.7 460h14.4v10h-14.4zM342.8 460h67v10h-67zM256.6 470h21.1v10h-21.1zM377.3 470h32.6v10h-32.6zM260.4 480h23.9v10h-23.9zM377.3 480h30.6v10h-30.6zM262.4 490h27.8v10h-27.8zM206.8 500h18.2v10h-18.2zM263.3 500h31.6v10h-31.6zM210.6 510h19.2v10h-19.2zM268.1 510h32.6v10h-32.6zM411.8 570h8.2v10h-8.2zM409.8 580h10.2v10h-10.2zM408.9 590h11.1v10h-11.1zM498.5 260h15.3v10h-15.3zM528.2 260h16.3v10h-16.3zM628.8 260h10.5v10h-10.5zM527.3 270h18.2v10h-18.2zM628.8 270h10.5v10h-10.5zM526.3 280h22v10h-22zM526.3 290h14.4v10h-14.4zM429.6 300h14.4v10h-14.4zM429.6 310h13.4v10h-13.4zM428.6 320h10.5v10h-10.5zM523.4 320h16.3v10h-16.3zM554.1 320h13.4v10h-13.4zM586.6 320h28.7v10h-28.7zM523.4 330h103.4v10h-103.4zM642.2 330h7.7v10h-7.7zM464.1 340h32.6v10h-32.6zM537.8 340h16.3v10h-16.3zM579 340h11.5v10h-11.5zM603.9 340h34.5v10h-34.5zM470.8 350h49.8v10h-49.8zM579 350h10.5v10h-10.5zM603.9 350h34.5v10h-34.5zM470.8 360h57.5v10h-57.5zM588.6 360h49.8v10h-49.8zM647.9 360h12.1v10h-12.1zM420 370h9.6v10h-9.6zM470.8 370h48.8v10h-48.8zM600 370h9.6v10h-9.6zM644.1 370h15.9v10h-15.9zM420 380h13.4v10h-13.4zM579 380h11.5v10h-11.5zM644.1 380h15.9v10h-15.9zM420 390h16.3v10h-16.3zM579 390h21.1v10h-21.1zM611.5 390h24.9v10h-24.9zM647.9 390h12.1v10h-12.1zM460.2 400h36.4v10h-36.4zM548.3 400h30.6v10h-30.6zM608.7 400h27.8v10h-27.8zM647.9 400h12.1v10h-12.1zM452.6 410h43.1v10h-43.1zM548.3 410h30.6v10h-30.6zM632.6 410h7.7v10h-7.7zM649.8 410h10.2v10h-10.2zM451.6 420h43.1v10h-43.1zM568.4 420h8.6v10h-8.6zM586.6 420h23v10h-23zM644.1 420h11.5v10h-11.5zM469.8 430h9.6v10h-9.6zM577.1 430h16.3v10h-16.3zM623 430h7.7v10h-7.7zM470.8 440h12.5v10h-12.5zM623 440h15.3v10h-15.3zM470.8 450h25.9v10h-25.9zM545.5 450h20.1v10h-20.1zM623 450h28.7v10h-28.7zM475.5 460h13.4v10h-13.4zM494.7 460h23v10h-23zM603.9 460h9.6v10h-9.6zM623 460h19.2v10h-19.2zM437.2 470h63.2v10h-63.2zM515.8 470h28.7v10h-28.7zM594.3 470h19.2v10h-19.2zM623 470h6.7v10h-6.7zM451.6 480h25.9v10h-25.9zM510 480h34.5v10h-34.5zM441.1 490h18.2v10h-18.2zM481.3 490h10.5v10h-10.5zM517.7 490h41.2v10h-41.2zM573.2 490h26.8v10h-26.8zM613.5 490h8.6v10h-8.6zM448.7 500h6.7v10h-6.7zM584.7 500h9.6v10h-9.6zM584.7 510h19.2v10h-19.2zM540.7 520h24.9v10h-24.9zM584.7 520h19.2v10h-19.2zM524.4 530h62.3v10h-62.3zM498.5 540h11.5v10h-11.5zM566.5 540h27.8v10h-27.8zM628.8 540h11.5v10h-11.5zM507.2 550h12.5v10h-12.5zM575.1 550h24.9v10h-24.9zM621.1 550h13.4v10h-13.4zM502.4 560h19.2v10h-19.2zM556 560h19.2v10h-19.2zM586.6 560h13.4v10h-13.4zM420 570h16.3v10h-16.3zM504.3 570h3.8v10h-3.8zM575.1 570h13.4v10h-13.4zM420 580h15.3v10h-15.3zM504.3 580h15.3v10h-15.3zM519.6 580h19.2v10h-19.2zM575.1 580h13.4v10h-13.4zM420 590h9.6v10h-9.6zM505.2 590h14.4v10h-14.4zM535.9 590h9.6v10h-9.6zM564.6 590h27.8v10h-27.8zM636.4 590h11.5v10h-11.5zM429.6 600h46v10h-46zM504.3 600h13.4v10h-13.4zM628.8 600h9.6v10h-9.6zM456.4 610h19.2v10h-19.2zM504.3 610h12.5v10h-12.5zM516.7 610h18.2v10h-18.2zM455.4 620h27.8v10h-27.8zM504.3 620h11.5v10h-11.5zM496.6 630h13.4v10h-13.4zM519.6 630h28.7v10h-28.7zM577.1 630h9.6v10h-9.6zM599.1 630h10.5v10h-10.5zM496.6 640h13.4v10h-13.4zM519.6 640h9.6v10h-9.6zM577.1 640h9.6v10h-9.6zM592.4 640h24.9v10h-24.9zM628.8 640h9.6v10h-9.6zM649.8 640h10.2v10h-10.2zM496.6 650h30.6v10h-30.6zM588.6 650h9.6v10h-9.6zM627.8 650h32.2v10h-32.2zM485.1 660h53.6v10h-53.6zM588.6 660h23v10h-23zM640.3 660h9.6v10h-9.6zM481.3 670h57.5v10h-57.5zM605.8 670h17.2v10h-17.2zM420 680h116.8v10h-116.8zM598.1 680h9.6v10h-9.6zM420 690h99.6v10h-99.6zM496.6 700h23v10h-23zM603.9 700h9.6v10h-9.6zM638.4 700h21.6v10h-21.6zM606.8 710h10.5v10h-10.5zM638.4 710h9.6v10h-9.6zM745.2 280h10.5v10h-10.5zM759.6 290h8.6v10h-8.6zM750 300h15.3v10h-15.3zM711.7 310h12.5v10h-12.5zM729 310h35.4v10h-35.4zM712.7 320h10.5v10h-10.5zM730.9 320h21.1v10h-21.1zM694.5 330h63.2v10h-63.2zM811.3 330h13.4v10h-13.4zM672.5 340h10.5v10h-10.5zM671.5 350h7.7v10h-7.7zM688.7 350h16.3v10h-16.3zM678.2 360h14.4v10h-14.4zM721.3 360h13.4v10h-13.4zM742.4 360h34.5v10h-34.5zM660 370h9.6v10h-9.6zM740.4 370h34.5v10h-34.5zM725.1 380h40.2v10h-40.2zM836.2 380h15.3v10h-15.3zM660 390h9.6v10h-9.6zM692.6 390h15.3v10h-15.3zM723.2 390h41.2v10h-41.2zM800.8 390h11.5v10h-11.5zM660 400h3.8v10h-3.8zM678.2 400h7.7v10h-7.7zM725.1 400h8.6v10h-8.6zM761.5 400h15.3v10h-15.3zM660 410h7.7v10h-7.7zM675.3 410h30.6v10h-30.6zM727 410h11.5v10h-11.5zM746.2 410h33.5v10h-33.5zM660 420h6.7v10h-6.7zM674.4 420h14.4v10h-14.4zM698.3 420h7.7v10h-7.7zM727 420h72.8v10h-72.8zM843.9 420h46v10h-46zM889.8 420h10.2v10h-10.2zM660 430h36.4v10h-36.4zM765.3 430h28.7v10h-28.7zM813.2 430h11.5v10h-11.5zM872.6 430h17.2v10h-17.2zM895.6 430h4.4v10h-4.4zM660 440h3.8v10h-3.8zM670.5 440h15.3v10h-15.3zM700.2 440h7.7v10h-7.7zM715.5 440h15.3v10h-15.3zM751.9 440h17.2v10h-17.2zM774.9 440h9.6v10h-9.6zM817.1 440h9.6v10h-9.6zM836.2 440h6.7v10h-6.7zM688.7 450h40.2v10h-40.2zM755.8 450h13.4v10h-13.4zM792.2 450h32.6v10h-32.6zM836.2 450h6.7v10h-6.7zM864.9 450h9.6v10h-9.6zM683 460h14.4v10h-14.4zM866.9 460h7.7v10h-7.7zM683 470h8.6v10h-8.6zM706.9 470h10.5v10h-10.5zM734.7 470h17.2v10h-17.2zM719.4 480h5.7v10h-5.7zM740.4 480h21.1v10h-21.1zM774 480h14.4v10h-14.4zM794.1 480h8.6v10h-8.6zM742.4 490h11.5v10h-11.5zM792.2 490h5.7v10h-5.7zM660 500h8.6v10h-8.6zM660 510h8.6v10h-8.6zM751 510h14.4v10h-14.4zM660 520h8.6v10h-8.6zM736.6 520h10.5v10h-10.5zM753.9 520h7.7v10h-7.7zM729 530h10.5v10h-10.5zM706 540h6.7v10h-6.7zM750 540h7.7v10h-7.7zM874.5 550h7.7v10h-7.7zM749.1 560h16.3v10h-16.3zM732.8 570h11.5v10h-11.5zM744.3 570h30.6v10h-30.6zM797.9 570h15.3v10h-15.3zM853.5 570h5.7v10h-5.7zM878.4 570h9.6v10h-9.6zM673.4 580h9.6v10h-9.6zM749.1 580h8.6v10h-8.6zM786.4 580h9.6v10h-9.6zM849.6 580h19.2v10h-19.2zM876.4 580h11.5v10h-11.5zM741.4 590h23v10h-23zM771.1 590h13.4v10h-13.4zM847.7 590h17.2v10h-17.2zM740.4 600h23v10h-23zM771.1 600h13.4v10h-13.4zM742.4 610h13.4v10h-13.4zM660 620h8.6v10h-8.6zM732.8 620h19.2v10h-19.2zM802.7 620h10.5v10h-10.5zM893.7 620h6.3v10h-6.3zM660 630h12.5v10h-12.5zM733.7 630h8.6v10h-8.6zM813.2 630h8.6v10h-8.6zM751.9 640h11.5v10h-11.5zM859.2 640h11.5v10h-11.5zM727 650h10.5v10h-10.5zM859.2 650h15.3v10h-15.3zM671.5 660h19.2v10h-19.2zM727 660h13.4v10h-13.4zM669.6 670h19.2v10h-19.2zM727 670h21.1v10h-21.1zM671.5 680h17.2v10h-17.2zM660 700h3.8v10h-3.8zM1014 310h6.7v10h-6.7zM970.9 340h26.8v10h-26.8zM961.3 350h36.4v10h-36.4zM1009.2 350h5.7v10h-5.7zM1032.2 350h13.4v10h-13.4zM961.3 360h29.7v10h-29.7zM1034.1 360h28.7v10h-28.7zM965.1 370h69v10h-69zM1041.7 370h11.5v10h-11.5zM916.3 380h20.1v10h-20.1zM974.7 380h59.4v10h-59.4zM916.3 390h35.4v10h-35.4zM986.2 390h46v10h-46zM985.2 400h19.2v10h-19.2zM1004.4 400h22v10h-22zM900 410h18.2v10h-18.2zM986.2 410h18.2v10h-18.2zM900 420h17.2v10h-17.2zM967 420h12.5v10h-12.5zM997.7 420h8.6v10h-8.6zM900 430h23v10h-23zM951.7 430h28.7v10h-28.7zM951.7 440h32.6v10h-32.6zM946 450h38.3v10h-38.3zM946.9 460h37.4v10h-37.4zM987.2 470h7.7v10h-7.7zM974.7 480h7.7v10h-7.7zM987.2 480h5.7v10h-5.7zM974.7 490h17.2v10h-17.2zM954.6 500h6.7v10h-6.7zM966.1 500h26.8v10h-26.8zM911.5 580h17.2v10h-17.2zM913.4 590h5.7v10h-5.7zM919.2 600h11.5v10h-11.5zM909.6 610h17.2v10h-17.2zM900 620h21.1v10h-21.1zM900 630h10.5v10h-10.5zM938.3 710h9.6v10h-9.6z"/>
<path fill="#e8e8e8" d="M727 550h5.7v10h-5.7zM725.1 560h8.6v10h-8.6zM911.5 510h16.3v10h-16.3z"/>
</g>
<g clip-path="url(#us)"><path d="M156.2 410.4l41.2-27.5l-9.3-24.5l20.1-4.7l14.3 12.7l-13.5 20l-11.6-3.5M156.2 410.4l42.9 4.8l15.9-17.1l-6-11.7M171.4 469.6l40.7-32.7l2.6 0.1l15-16.5l-5.6-19.4l-9.1-3M171.4 469.6l48.9 10l-1.7 29.9l10.5 9l21.9-16.6l15.4 11.4l-8.2 24.8l-27.7-9.1l-1.4-10.5M199.1 415.2l13 21.7M208.2 353.7l7-21.6l1-0.3l13.7-20.9l-2.8-9.4l25.1-19.2l-31.6-20l24.7-17.4l12.9 12.2l27.5-11.4l-25.7-27l-14.3 13.8l-0.4 12.4M214.7 437l20.4 18.3l-4.4 19.7l-10.4 4.6M216.2 331.8l24.5 12.4l-10.5 21.5l14.6 13.9l16.8-10.6l0-19.9l-15.4-7.1l-5.5 2.2M222.5 366.4l7.7-0.7M224.1 401.1l20.3-10.1l0.4-11.4M229.7 420.5l23.7 4.8l4.7-21.5l-13.7-12.8M229.9 310.9l19.2 9.1l-2.9 22M230.7 475l18 11.2l2.3 15.7M235.1 455.3l16.3-9.5l4.4-15.2l-2.4-5.3M248.7 486.2l24.4-12.5l13.8 9.8l-10.1 27.2l-10.4 2.6M249.1 320l8-5l3.2-28.9l16.3-0.1l13.5 30l-10.9 7.9l-22.1-8.9M251.4 445.8l20.6 17.8l1.1 10.1M252.2 282.3l2.2-0.1l5.9 3.9M254.4 282.2l3.8-25.1M255.8 430.6l31.9 0.7l7.1 7.2l-22.8 25.1M258.1 403.8l13.4-3.9l14.9 8.5l1.3 22.9M258.2 538.1l5.6 11.9l22.1 1.3l14.9-19.7l22.9 7.2l12.9-12.9l21.8 5.8l0.1 23.2l-13.2 5.8l-17.1-9.2l-4.5-12.7M261.6 349.1l13.8-6.3l3.8-18.9M261.6 369l16.3 8.7l-6.4 22.2M275.4 342.8l19.3 13.8l14.2-17.4l15.5 2.6l9.8 20.4l-32.8 11.5l-4.3-3.1l-2.4-14M276.6 286l13.5-11l4.6-16.3l16.9-0.9l16.3-20.6l-9.3-39.5M276.8 510.7l22.6 15.8l1.4 5.1M277.9 377.7l19.2-7.1M285.7 245.7l0.1 0l8.9 13M285.9 551.3l6.6 13.2l19.8 6.4l15.9-19.4M286.4 408.4l21.6-13.2l5.5 3.5l4.9 16.4l-20 24.2l-3.6-0.8M286.9 483.5l10.8-0.9l13.5 21.3l-11.8 22.6M290.1 275l24.6 20.3l20-16.7l-23.1-20.8M290.1 316l9.9 0.7l12.8-9.7l1.9-11.7M297.7 482.6l13-13.4l-3.5-21l-8.8-8.9M300 316.7l8.9 22.5M301.4 373.7l6.6 21.5M307.2 448.2l31-7.7l3.5-8.4l-3.4-8l-19.9-9M310.7 469.2l22.7 5.9l5.4 22.9l-3.4 4.1l1.2 23.8M311.2 503.9l24.2-1.8M312.3 570.9l7.3 17.8l22.6 0l6.9 6.2l28.6-13.7l3.4 2.4l4.2 30.3l-13 5.2l-21.1-10.4l-2.1-13.8M312.8 307l22.2 12.1l16.5-18.8l0.1-14.5l-13.1-7.4l6.8-30.9l-17.4-10.3M313.5 398.7l26.6-9.8l8.4 14.7l17.5 1.7l8.3-13.5l-4.5-14.2l-23.9-7.2l-5.8 18.5M324.4 341.8l11.9-16.6l-1.3-6.1M333.4 475.1l11.9-12.3l-7.1-22.3M334.2 362.2l9.9 4.3l16.8-25.7l-0.2-2.9l-24.4-12.7M334.7 278.6l3.8-0.2M338.3 424.1l10.2-20.5M338.8 498l18.8 0.6l11.8 24.2l-11 8.9M341.7 432.1l28.7 0l-1.2 33l-23.9-2.3M342.2 588.7l3.1-28M344.1 366.5l1.8 3.9M345.3 247.5l16.6-5.5l11.1 15.2l18.8-2.6l10 8.4l-12.9 28l2.9 4.7l23.3-6.1l4.8-22.6l-3-4.7l-15.1 0.7M351.5 300.3l20.4 21.3l-11.2 16.3M351.6 285.8l15.1-5.5l6.3-23.1M357.6 498.6l15-14l17.6 17.1l19-2.9l3 4.7l-6.4 21.6l10.6 10.3l14.1-3.2l-2.6-22.1l-15.7-6.6M358.5 554.9l16.5 6.8l2.7 19.5M360.9 340.8l21.8 13.7l15.7-14.9l-15.1-21.3l8.4-13.3l0.1-9.3M366 405.3l9.6 21.2l19.9-14.4l15.9 10.7l10.8-8.8l1.2-13.2l-6.2-8.6l7-12.6l7-2.2l8.6-16l-13.7-8.6l2.4-13.6l15.8-5.6l6.6 24.9l-11.1 2.9M366.7 280.3l22.2 10.7M369.2 465.1l5.5 5.2l-2.1 14.3M369.4 522.8l10.2 0.8l6.5 6.3l2.8 20.8l-13.9 11M369.8 377.6l13.9-11.8l12.7 5.5l15.5-9.1l12.3 17.4M370.4 432.1l5-4.6l0.2-1M371.9 321.6l11.4-3.3M374.3 391.8l22.3 5.1l-1.1 15.2M374.7 470.3l18.8-4.4l3-24.5l15-6.5l8.1 6.3l2.6 17.8l-16.9 11.7l-11.8-4.8M375.4 427.5l21.1 13.9M379.6 523.6l10.6-21.9M381.1 583.6l24.2-0.8l4.8 6.1l-10.6 29l-14.2-4M382.7 354.5l1 11.3M386.1 529.9l19.7-4.8M388.9 550.7l18.4 5.2l3.6 5l-5.6 21.9M391.7 305l26.2 12.3l5.7-3.8l-0.8-18.4l-7.7-5.5M396.4 371.3l5.2 21.1l15.6-0.2M396.6 396.9l5-4.5M398.4 339.6l2.4 0.4l15.1-9.9l2-12.8M399.5 617.9l2.1 2.4l10.8 1.3l21.8 26.2l8.5-27.2l-12.2-10.8l-18.1 11.8M400.8 340l12.2 18.5l13.1-5.7M405.3 470.7l6.2 18.4l26.2-6.1l-3.6-20.2l9-4.8l8.9 3.4l7.7 18l-1.5 1.6l-18.3 3.7l1.3 19.5l3.5 1.6l16-6.3l-2.5-18.5M407.3 555.9l9.1-20.5M409.2 498.8l2.3-9.7M410.1 588.9l13.5 2.6l7.4 9.3l24.5-8.6l0.2-8.9l-6.3-9l-14.6 0.8l-11.2 16.4M410.9 560.9l11.4 0.7l12.5 13.5M411.4 422.8l0.1 12.1M411.9 362.2l1.1-3.7M415.9 330.1l12.6 9.1M416.9 262.3l12.6-27l17.7 23.5l-8.3 16.5l0.4 0.7l16.4 2.1l10-11.7l-6.7-7.6l-11.8 0M419.6 441.2l18.8-7.9l7.7 7.3l16.3-2.9l3.8-10.4l-17.7-12.7l-9.7 8.7l-0.4 10M419.9 267l19 8.3M422.2 414l16.6 9.3M422.2 459l11.9 3.8M422.3 561.6l16.6-14l0.4-1.8l17.3-1.8l8.1 12.1l-14 11.9l-11.8-20.4M422.8 295.1l14.8-5.1l8.8 9.4l0.1 4.1l-9.2 11.7l-13.7-1.7M423.4 400.8l17.8-0.8l4.8-13.4l6-2.2l13.7 12.3l-1.4 4.2l-15.3 9.3l-7.8-10.2M427.9 510.1l13.3-5.9M430.5 532.2l4.1 2.4l18.5-12.2l0.8 0.2l8.3 10.7l-5.6 10.7M430.5 609.8l0.5-9M431.2 377.4l14.8 9.2M434.6 534.6l4.7 11.2M435.6 655.9l32.7-24l-11.2-15.1l-14.4 3.8M437.3 315.2l8.2 16.2l6.2-1.5l11.7-16.7l-16.9-9.7M437.6 290l1.7-14M437.7 483l2.2 1.7M443.1 458l3-17.4M444.3 333.6l1.2-2.2M444.7 505.8l8.4 16.6M446.4 299.4l13.9-9.4l-4.6-11.9M448.5 414.6l0.5-4.4M449.4 574.3l1.3-6.3M450.9 358.5l2 0.8l13.4-6.1l4.1-8.2l-1.8-7.8l-16.9-7.3M452 384.4l5.2-11.5l-4.3-13.6M452 461.4l11-5.4l12.8 7.7l4.7-6.5l-1.1-10.5l-15.3-6.3l-1.1 15.6M453.9 522.6l14.9-10.3l-2.2-9.8l9.7-6.6l13.3 7.5l-0.7 5.9l-15.2 5.7l-4.9-2.7M455.5 592.2l6.5 9.7l-4.9 14.9M455.7 583.3l26.9-10l-12.5-16.9l8-11.3l5.2-0.3l12.9 16.5l-12.2 12.4l-1.4-0.4M457.2 372.9l14.4 3.6l7.9-11.7l-13.2-11.6M459.7 479.4l2.9-0.5l13.2-14.7l9.6 9.5l-1.8 9l-7 4.3l-14-8.1M460.3 290l4.8 1.4l12.6-8.1l-10.2-16.6l12.6-7.6l10.7 12.6l-1.7 7.9l-6.4 4.7l-5-1M460.7 499.5l5.9 3M462 601.9l20.7 0l3.3 20.9l10.7 4.3l12.5-14.6l-1.6-11.9l-0.1-0.3l-6.5-6.8l-8.4-1.3l-9.9 9.7M462.2 533.3l8.6 0.4l7.3 11.4M462.4 437.7l1.7 2.7M463.4 313.2l3.6-0.8l8.4 15.1l13.5-1l1-1.5l-0.8-10.4l-11.7-8.1l-6.4 1.2l-4 4.7M464.3 400.9l9 14.5l-4.3 10.3l-2.8 1.6M464.7 556.1l5.4 0.3M465.1 291.4l5.9 16.3M465.7 266.4l1.8 0.3M465.7 396.7l4.8-2.7l4.3-10.8l-3.2-6.7M468.3 631.9l1.8 0.5l8.7 19.4l14.4 1.4l7.5 9.1l-3 8.6l8.4 18.8l-0.5 4.1l22.4 1.7l-6.7-15.1l-2.6-0.1l-12.6 9.4M468.6 337.2l6.8-9.7M469 425.7l14.1 5.1l2.5 10l7.2 1.5l7-5.8l0.5-4.5l-8.1-8.1l-9.1 6.9M470.1 632.4l15.9-9.6M470.4 345l18.6 0.6l3.5-5.5l-3.6-13.6M470.5 394l14.8 6.1l-3.5 12.1l-8.5 3.2M470.8 533.7l5.4-7.1l13.9 0.7l2.2 3.6l-0.2 5.9l8.8 6.3l9.6-2.7l-1.8-13.1l-16.4 3.6M473.7 515l2.5 11.6M474.8 383.2l15.9-0.3l-1.5-13.3l13.3-5.4l3.1 12.1l-10.6 8.6l-2.2 0l-2.1-2M475.8 463.7l0 0.5M476.3 495.9l0.3-8.9M477.4 306.5l8.1-11.7l-2.8-10.5M479.4 446.7l6.2-5.9M479.5 364.8l2.9-0.2l7.7-14.1l-1.1-4.9M480.5 457.2l17.2-0.5l1.8 3.5l-5.7 11.5l-8.4 2M481.8 412.2l10.8 6.7l3.9-2.9l1.3-11.6l-9.8-5.6l-2.7 1.3M482.4 364.6l6.8 5M483.3 544.8l8.8-8M483.6 482.7l10.4 7l-0.6 10.1l-3.8 3.6M484 573.7l8.6 18.5M485.5 294.8l9 4l5.3-2.8l8.2 3.8l0.6 11.4l-13.3-2.3l-0.8-10.1M488 398.8l4.8-13.9M488.9 509.3l3.5 5.7l13.4 1.1l4 9.3l-1.1 1.9M489.1 279.6l12.7 5l2.4-0.9l4.4-12.5l-10.7-3.8l5.7-55.8M489.1 314.6l6.2-5.7M489.9 325l13.6-1.7l6.1 7l-6 10.2l-11.1-0.4M490.1 350.5l14.3 10l3.2-1.7l6 1.4l10.2-6.1l8.2 7.3l5.2-0.2l5.4 7.7l1.9 0.7l11.4-7.5l-2-8l-11.4-2.8l-5.3 9.9M490.1 527.3l2.3-12.3M490.8 271.7l7.1-4.3M492.2 423.9l0.4-5M492.8 442.3l5.1 13.5l-0.2 0.9M493.2 653.2l7.1-18.9l13.4 1.8l2.4 1.8l0.2 11.6l-9.3 12.2l-6.3 0.6M493.4 499.8l15.2 1.6l3.4-11.3l9-2.2l4.3 14.9l-9.1 4.1l-4.7-0.8l-2.9-4.7M493.8 471.7l9.6 10.2l0 0.3l-9.4 7.5M495 384.9l11.7 8.7l9.8-11l9.8 6.9l7-3.9l-0.1-8.2l9.4-8.5M496.2 561.3l1.7-0.6l3-17.6M496.5 416l12.3 1.7l2.2-15.4l-3.1-2.1l-1.2-6.6M496.7 627.1l3.6 7.2M497.8 404.4l10.1-4.2M497.9 455.8l12.6-11.2l-10.7-8.1M497.9 560.7l9.7 1.7l6.8 12.1l-0.1 3.7l-13.3 15.3M499.5 460.2l9.8 3.6l2.9 7.4l-8.8 10.7M499.8 296l2-11.4M500.3 432l11.1-6l-0.4-5.7l13.8-6.6l4.1 5.2l9.6-0.7l3.5-6.7l-1.7-7.4l4.5-5.1l0.1-0.4l-5.5-11.2l9.6-6.7l7.2 10.5l-11.3 7.4M502.5 364.2l1.9-3.7M503.4 482.2l8.6 7.9M503.5 323.3l5.5-11.6l-0.4-0.5M503.6 340.5l4.7 5.2l-0.7 13.1M504.2 283.7l12.7 5.6l5.5-6.8l-5.5-9.7l-7-2.2l3.1-19.3l11.2 13.9l-7.3 7.6M505.6 376.3l9.9 3.2l1 3.1M505.8 516.1l5.7-10M507 661.7l3 1.5l2.4 2.3l6.3 14.8M507.5 600.3l17.9-6.4l1.3-9.5l-12.4-6.2M507.6 562.4l4.8-4.8l12.1-1.7l2.2-3.9l-5.4-11.2l-8.7 0.9l-0.2 15.9M507.6 600.6l19.6 5.4l2.7-8l-4.5-4.1M508 299.8l9-7.3l7.8 8.9l4.7 0.1l4.2-2.8l-2.1-15.9l-2.1-1.1l2.2-15.3l8.6-0.3l3 2l-3.4 13.8l-8.3 0.9M508.3 345.7l11.4-2.9l5.4 2.8l-1.3 8.5M508.6 271.2l1.3-0.6M508.8 417.7l2.2 2.6M509 311.7l7.8 1.3l8-11.6M509.2 612.5l9.2 5.5l0.9 1.7l8.3 3.8l3.2-1.1l3.8-10.5l-6.2-2.8l-10 8.9M509.3 463.8l8.2-7.7l10.2 1.9l1.3-16.5l-1-1.4l-13.1 2.2l-2.1 2.2l4.7 11.6M509.6 330.3l6.5-0.4l3.6 12.9M509.8 525.4l10.9-1.3l6.2 10.3l-5.6 6.4M510 663.2l16.1-3.8l2.7 3.8l8.3 1l1.1-5l-3.3-5.1l-7.6 0.8l-1.2 4.5M510.5 444.6l2.3-0.1M510.5 540.4l2.1 1.3M511 402.3l3.1 0l11.7-9.5l0.5-3.3M511.4 426l1.6 1.4l13.6 1l2.3-9.5M512.2 471.2l7.4 2.4l3.7 11.9l9.8-0.2l1.1-12.1l-7.7-5.1l-6.9 5.5M512.4 665.5l13.1 4.1l2.9 6.8l8.4-3.6l7 6.7l-8.8 8.6l-6.7-11.6l0.1-0.1M513 427.4l1.9 14.9M513.6 360.2l6.5 11.2l5.2-0.7l7.9 6.7M513.7 636.1l5.6-16.4M514.1 402.3l10.7 9.4l7.3-8.3l8.2 0.7M514.4 574.5l15.5-8l4 1.4l8.5-9.1l9.2 7.1l-5.4 11.3l-10.2-4.6l-6.2 10.7l11.1 7.3l5.7-3.1l1.5-7.1l-1.9-3.2M515.5 379.5l4.6-8.1M516.1 329.9l3-2.5l1.2-9.6l15-0.5l0.6 0.4l0.2 10.2l-6.6 3.3l-10.4-3.8M516.1 637.9l1.7-0.1l11.8 6.7l-4.2 7.2l-9.1-2.2M516.2 506.9l6.8 13.2l-2.3 4M516.8 313l3.5 4.8M516.9 289.3l0.1 3.2M517.8 637.8l9.3-5.4l5.2 2.5l1.4 6l11.1-0.3l-1.3 7.5l-7.3 1.9l-4.4-6.1l-2.2 0.6M521 487.9l2.3-2.4M521.3 680.4l7-3.9M522.4 282.5l7.1-0.8M523 520.1l8.9-3.8l2.9 1.7l1.2 10.9l8.1 1.8l-1.9 11l-5.6 0.8l-8.3-8.1l7.7-5.5M524.2 265.2l5.9 0l1.6 1.2M524.5 555.9l5.4 10.6M524.8 411.7l0 2M525.1 345.6l2.2-1.2l12.8 1.2l2.4 5.7M525.3 370.7l6.7-9.3M525.3 502.8l5.3 1.1l5.3-12.7l-2.6-5.8l11.3-4l7.6 5.4l2.2-1l10.6 7.2l6.8-11.2l-1.2-3l-10.8-2.2l-5.4 9.2M525.4 651.7l1.9 3.2M525.5 669.6l3.3-6.4M525.8 392.8l6.3 10.6M526.5 468.1l1.2-10.1l10.3 0.1l4.6-3.2l4.3 1.8l12.1-4.3l0.9 12.7l-3.7 4.7l3.6 6.8M526.6 428.4l2.6 4.9l9-2.3l3.4-7.9l-3.1-4.9M526.7 552l6.2-1.7l9.6 7.6l-0.1 0.9M526.7 584.4l3.1-1.1M526.9 534.4l1.4 0M527.1 632.4l0.5-8.9M527.2 606l1.2 3.1M527.3 344.4l2.2-13.2M528 440.1l1.2-6.8M529 441.5l13.7 3.7l5.3-5.3l11.4 11.9l-0.4 0.6M529.5 301.5l5.8 15.8M529.9 598l8.4-0.8l2.6-6.6M530.6 503.9l0.9 1.1l9.4-0.2l6.2-8.8l-11.2-4.8M530.8 622.4l6.7 3.2l7.3-7.8l6.5 5.3l0.1 2.2l-8.7 6.7l2.6 8.1l6.4-0.1l2.7-11l-3-3.7M531.5 505l0.4 11.3M531.8 643.9l1.9-3M532 732.3l37.8-8.1l-4.5-9.1l-31.3 12.6M532.3 634.9l6.7-4.9l3.7 2M532.9 550.3l3.7-7.8M533.1 485.3l0.2 0.1M533.3 385.6l6.1 1.8M533.7 298.7l5.2 0.1l6.3-4.8l5.3 1.2l4.1 5.7l-3.2 6.6l-7.3 0.4l-5.2-9.1M533.9 567.9l2.1 4.7M534.2 473.2l6.5-3.1l-2.7-12M534.6 611.9l2.2-0.6l7.9 6l0.1 0.5M534.8 518l7.8-1.1l4.7 6.1l-2.2 7.1l12.2 5.1l-2.3 6.8l3.7 7.8l-0.7 2.5l2.3 6.8l4.7 1.3l3.9 7.5l-6.3 8.1l-7-10.9l4.7-6M534.9 654.1l1.3-4.1M535.5 702.1l13.6-15.4l-4.3-7.1l-1-0.1M535.6 702.3l17.1-6l4.2 3.8l-0.9 6.6l6.3 1l7.2-7.2l-5.2-4.5l-7.4 4.1M535.9 317.7l2.6-1.1l5.6-8.7M536.1 327.9l3.4 2.7l2.8 10.4l-2.2 4.6M536.8 611.3l4.1-8.7l-2.6-5.4M536.8 672.8l1.5-6.3l12.3-0.2l-1.8 9.8l-4 3.5M537.1 664.2l1.2 2.3M537.5 625.6l1.5 4.4M538.2 431l10 8.2l-0.2 0.7M538.2 659.2l9.5-4.5l-4.2-6.6M538.5 316.6l11.8 3.3l5.5-4.1l-4.4-8.3M539.5 330.6l10.4-3.1l7.1 6.4l-1.5 3.8l3.8 10.2l4.6 0.3l6.9-7l-0.2-6.6l-10.4-2.6l-3.2 1.9M539.9 281.9l2.9 1.9l2.4 10.2M540.7 470.1l4.7 1.8l7.3-2.9l3.5 0.8M540.9 504.8l4.6 6.7l-2.9 5.4M540.9 602.6l7.5 1.3l2 5.8l7.7 2.2l2.1-8.5l-7-3.8l-4.8 4.3M541.6 423.1l7.8 1.5l3.9-10.1l1.5-9.3l-10-6.2M542 411.5l11.3 3l9.4 2.6l-3.1 9.7l-7.7 1.5l-2.5-3.7M542.2 541.7l2.5 1.8l10.3-1.5M542.3 341l13.2-3.3M542.5 557.9l2.7-3.4l12.8-2.2M542.6 454.9l0.1-9.7M542.8 283.8l9.1-2.8l5.4 5.5l-6.8 8.7M543.3 268.1l4.4-0.1l5.8 6.3l-1.6 6.7M544.1 530.7l1-0.6M544.5 369.6l5 9.4l-0.5 1.7M544.6 481.4l0.8-9.5M544.7 543.5l0.5 11M544.7 617.3l5.7-7.6M544.8 640.6l0.5-0.5M545.5 511.5l5.6-1.2l3.4-8.9l-6.1-5.7l3.8-8.9M546.6 587.5l6.6 5.5l9.3-2.6l3.3 2.6l7.4-0.7l2-2.2l13.2 3.2l2.4-2.4l-3.2-8.7l-2.5-1.2l-2.8-8.4l-4.8-1l-4.8 8.7l3 4.2l9.4-3.5M546.9 456.7l5.8 12.3M547.1 496l1.3-0.3M547.3 523l10.9-2.7l1.5 13.2l-2.4 1.7M547.7 268l8.5-10.5l8.2 13l13.1-13.4l4 12l-0.2 0.6l-7.2 5.2l-9.8-3.7l0.1-0.7M547.7 654.7l1.1 0.4l1.9 11.1l-0.1 0.1M548.1 580.4l14.3-2l0.1-0.2l0.1-2.2M548.2 439.2l1.5-1.6l13.8 0.4l2.7 4l-6.5 9.7l15 6.2l0.1 0.1l-3.3 5.4l2.1 10.9l11.2-2.3l3.8 5.6l-6.1 8.8l-3 0.7l-7.7-5.3M548.8 655.1l7-3.3l7.4 8.4l-5.4 6.3l-7.1-0.3M548.8 676.1l11.3 2.9l2.5-3.6l-4.8-8.9M549.1 686.7l4.3 1.4l6.7-8.9l5.9 8.6l-2.4 4.7l-9.3-2.9l-0.9-1.5M549.5 379l9.4-2.7l2.3-8.8l-1-2.6l11-7.4l5.4 5.4l-4.5 8.7l-10.9-4.1M549.7 437.6l2.2-9.3M549.9 327.5l0.4-7.6M551.1 510.3l8.2 8.2l-1.1 1.8M551.3 623.1l9.3-6.8l2.6 0.7l6.9-7.7l-0.1-3.1l6-5l-2.8-8.9M551.6 565.9l4-0.8M551.7 640l2.4 1.5l8.9-5.3l-2.7-6.1l-5.9-1.1M552.7 696.3l1.6-6.7M553.2 593l0 6.6M553.5 274.3l9.9-2l1.2 12.6l-2.6 1.8l-4.7-0.2M553.9 354.1l5.4-6.2M554.1 641.5l3 6.7l-1.3 3.6M554.5 501.4l7.6 0l3.4-5.6l-0.5-2.8M554.6 300.9l8.9-0.5l2.3 8.6l-6 7.5l-4-0.7M554.8 405.2l6.4-2.7l5.8 7.8l7.2-3.7l2.1-7l-0.1-0.5l5.5-8.6l5 0l4.2 6.7l-3.7 5.8l-10.9-3.4M555.9 362.1l4.3 2.8M556.2 391.2l3.8 0.6l3-11.6l5.5-0.3l4 5.5l-5.3 8.7l-4 0.5l-3.2-2.8M557.1 648.2l7.6-1.4l6.2 6.1l4.6-6.4l10.8 1.5l-1.3 6.7l-9.4 2.6l-4.5-2.1l-0.2-2.3M558.1 611.9l2.5 4.4M558.7 549.8l10.3-3.2l5.4 5.4l0.3 3l-9.7 5.4M558.9 376.3l4.1 3.9M559.3 518.5l0.2-0.1l4.9-12.7l7.8 2.6l1.4 6.9l-2.9 4.7l-11.2-1.5M559.4 451.8l0.3-0.1M559.6 426.8l4.9 4.7l-1 6.5M559.7 533.5l7.3 1l3.4 3l10.6-0.9l0.7 9.3l-7.3 6.1M559.8 316.5l2.8 4.1l9.1 1l2.3 10.4l2.1 0.1l9.9-8.5l0.2-1.9l-10.6-3.9l-3.9 3.8M559.9 465.1l11.6-1.7M560.1 679l0 0.2M560.2 332l2.4-11.4M560.2 603.4l3.6-1.4l2-9M560.3 630.1l6.9-7.5l-4-5.6M561.2 402.5l2-7.9M562 286.7l1.6 13.6l-0.1 0.1M562.1 501.4l2.3 4.3M562.3 707.7l3.4 6.5l-0.4 0.9M562.4 578.4l0.1 12M562.5 578.2l10.2 2.1M562.6 675.4l2-0.3l6.3-6.1l5.2 0.3l0.7 8.9l-4.6 1.8l-7.6-4.9M562.7 417.1l2.8-1.2l1.5-5.6M563 636.2l3.7 1.4l0.9 1.7l6.4 2l5.2-4.5l-3.1-7.2l-3.2-1.4l-6.2 9.4M563.2 660.2l2.3-0.3l5.4 9.1M563.4 272.3l0.9-1.1M563.6 300.3l11.7-3.7l1 12.6l10.5-1.1l-3.8-11.5l-7.7-0.1l0 0.1M563.6 692.5l0.7 3.5M563.8 602l6.2 4.2M563.9 348.2l7.3 7.4l0 1.9M564.5 431.5l5.5-2.7l1.5-8.2l-6-4.7M564.6 284.9l8.3 1.1l1.5-1.5l-0.3-9.6M564.7 646.8l2.9-7.5M565.5 495.8l11.9 1.6l2.1-10.3M565.5 659.9l5.6-4.7M565.7 714.2l6.4-2.7l-1.3-10.8l0.9-0.3l10.7 4.8l-3.5 9.8l-6.8-3.5M565.8 309l8.9 1.9l0.9 6.9M566 687.8l4.5-1.2l1.7-6.6M566.2 442l8.2 1l0.2 0.2l0.1 14.7M567 534.5l5.1-11.6l9.1 3.9l1.6 2.8l8.9-2.3l1.4-7.1l7.9-3.5l4.8 5.2l-3.4 6.2l-7.4 1.8l-3.3-2.6M567.2 394.1l9 5M567.2 622.6l3.3 1.3l7.5-6.8l-0.8-3.5l-7.1-4.3M567.2 740.5l4.5-14.1l8.3 5.1l0.3 4.2l5 4.4l2.3-0.7l6.3 2.2l1.5 3.8l-4.3 8.5l0.4 1.8l-2.7 2.5l-0.8 16.1l11.2-8.1l-2.9-8.5l-4.8-2M567.6 740.5l12.7-4.8M567.6 740.5l13.2 7l1.6-0.7l8.7 7.1M568.5 379.9l4.1-6.7l-0.5-1.6M568.9 567.9l6.3 0.5l3.6-9.3l-4.1-4.1M569 546.6l1.4-9.1M569.5 700.5l1.3 0.2M569.8 724.2l1.5 0.7l0.4 1.5M570 428.8l6.1 4.1l-1.7 10.1M570.5 623.9l2.4 4.3M570.5 686.6l7.3 4.7l0.1-0.1l3.9-10.2l-5-2.8M570.6 334.6l3.4-2.6M570.6 478.8l3-4.5M570.7 519.9l1.4 3M570.8 341.2l9.3 6l0.1 0.3l2.1 1.2l9.2-1.4l2-10.5l-0.4-1l5.7-4.8l0.9-10.6l2.6-1.1l3.6-9.9l6.6-0.2l2.9-7.8l-3.1-5.8l-7.2 2.4l0.1 10.5l0.7 0.9M571.2 355.6l9-8.1M571.3 724.9l8.5-7.6l1.8 0.9l3 9l5.8 1.7l0.4 0.8l11.3 3.8l0.2-0.1l-3-13.1l-4.5-1l-4.4 9.6M571.5 420.6l5.4-0.6l4-6.9l-6.7-6.5M571.7 700.4l6.1-9.1M572.2 508.3l6.7-6l6.9 9.1l6.1-3.6l9 6l0.1 2.9M572.5 385.4l5.4-0.2l3.8 5.3M572.6 373.2l9.1 4l-3.8 8M572.9 286l2.4 10.5M573.6 515.2l11.3-0.4l0.2 0.6l8 4.8M573.7 759.9l7.1-12.4M573.7 759.9l15.1-1.7M574 641.3l1.5 5.2M574.4 284.5l10.8-1.5l1.1-1.1l-5-12.2M574.6 443.2l10.3 0.2l5.6 7.2l3.1 0.8l1 3.1l-2.5 10.1l-6 2.7l-7-8.7l11.4-8M574.7 310.9l1.6-1.7M574.8 458l4.3 0.6M575.2 568.4l2.3 3.2M575.2 590.1l0.5-5.6M575.6 657.3l2.5 10.4l5.4 0l3.3-10.2l6.9 2.3l0.4 6.6l-6.5 4.6l-4.1-3.3M576 601.2l3.2 1.1l8.5-6.2l0.7-2.8M576.1 332.1l6.8 5.5l9-2.3l1.2 0.5M576.1 432.9l6.7-3.8l5.1 7l-3 7.3M576.1 629.6l8.6-3.7l-0.5-6.4l5.7-4.2l2.6 0.5l4.4 6.6l-0.6 3l-7.6 3.8l-4-3.3M576.1 669.3l2-1.6M576.6 362.9l5.5 0.1l2.7-4l-2.5-10.3M576.9 420l6.4 6.9l-0.5 2.2M577.2 613.6l4.8-6l-2.8-5.3M577.4 497.4l1.7 3l8.6-1.9l2.4-7.1l5.8-1.4l3 9.7l3.6 1.2l4.3-2.3l1.7-6.8l-10.9-4.2l-1.7 2.4M577.9 691.2l4.2 1.8l8.4-3.1l0.1-0.2l10.5-2.9l-4.7-8.6l-7.7-0.4l-1.3 1.7l3.2 10.2M578 617.1l6.2 2.4M578.8 559.1l7.8 0.3l0.5 9.8l-4.8 3.4M578.9 502.3l0.2-1.9M578.9 715l0.9 2.3M579.2 636.8l3.4 1l4.4 9.4l7.5-2.1l1.4-5.6l4.1-3.3l9 4.2l4-1.9l5.7 4.6l-0.9 5.3l-6.9 5l-5.4-5.1l3.5-7.9M580 731.5l4.6-4.3M580.1 347.2l2.8-9.6M580.9 413.1l6.2-1.2l1.8-2.1l-1.7-6.8M581 536.6l0.4-0.4l1.4-6.6M581.2 526.8l3.9-11.4M581.4 536.2l10.8 3.1l-0.6 10.1l9-0.5l2.6-4l-2.5-5.3l-6-1.8l-2.5 1.5M581.5 269.1l9.5-0.2l6.4-11.6l6.8 11.9l11.7-6.2l0.7 14.4l-3.2 0.9l-5 6.1l5.1 8.2l4.6-1.3l4.3-9.6l-2.4-3.2l-3.4-1.1M581.6 718.2l10.5-2.1l2.7 3.2M581.7 377.2l4.4-1.7l4 10.3l7.2 0.1l3.5-4.6l-1.1-4.9l-11.2-4l-0.2 0l-2.2 3.1M581.7 545.9l8.3 4.9l-1 6.9l-2.4 1.7M581.8 681l5.6-1.5M582 607.6l4.8 1.1l3.9-5.1l8.4 1.5l2.8-6.3l-6-7.8l-5.1-0.1M582.1 363l6.2 9.4M582.1 693l3.9 10.4l2.4 0.2l4.9-6l8.6 0.2l1.5-3.6l-2.1-7.3l-0.2-0.1M582.4 705.2l3.6-1.8M582.4 746.8l2.9-6.7M582.5 486.4l7.6 5M582.6 637.8l6-5.4l7.3 7.1M583 296.6l2.8-2.2l-0.6-11.4M583.3 426.9l6.3-4l-2.5-11M584.8 359l7.5-1.4l3.2-6l-4-4.3M584.8 472l1.3-4.7M584.9 514.8l0.9-3.4M585 654.7l1.8 2.8M585.8 294.4l9.8 1.2l2.2-1.6l7.3 4M586 323.6l5.9 11.7M586.2 321.7l4.2-4.1l9.3 2.8M586.3 281.9l5.8-0.6l4.6-4.7l0.6-0.1l6.8-7l0.1-0.3M586.3 648l0.7-0.8M586.7 390.5l3.4-4.7M586.8 308.1l2.7 1.5l0.9 8M586.8 608.7l3.1 6.6M587.1 569.2l6.9 3.1l0 4.1l-6.4 5.8M587.6 671l1.1 6.8M587.6 739.4l3.2-9.7M587.7 498.5l5.1 4.5l-0.9 4.8M587.7 596.1l3 7.5M587.9 436.1l7.5-1.4l3.2 4.1l-4.9 12.5l14.2-2.4l1.8 9.1l-5.3 3.1l-1.4 5.9l-4.7 1.6l-2.7 10.3l2.2 2.2l-0.2 6.5M588.4 703.6l4.7 5.9l9-2.8l4.2 7.7l-1.2 3.2l6.1 6.8l-8.6 9.1l0.8 0.7l13.2 2.1l0.5 0.5l7.8-4.2l-0.7-7.8l-6.7-2.2l-3.1 2l2.2 11.7M588.5 372.4l7.2-8.5l5.2 0.1l2.5 8.2l6.2-0.3l4.9-7l3.5 0.2l6-5.7l-3.4-7l-6.9 0.1l-4.9 6l5.7 6.4M588.6 477.6l7 1.3M588.6 632.4l0.1-3.2M588.9 409.8l4.6 0.3l6.1 6.2l-0.8 8.2l-0.5 0.3l-2.9 9.9M589 557.7l7.5 3.1l7-3.7l2.9 1l1.8 2.7l-1.9 9.2l-0.8 0.6l-7.6-1.5l-1.4-8.3M589.5 309.6l4.7-3.8l11 2.7M589.6 422.9l8.7 1.9M590 550.8l1.6-1.4M590.5 689.9l2.8 7.7M590.9 397.2l7.4-0.4l1.3-2.7l-2.3-8.2M591 268.9l5.7 7.7M592.1 281.3l5.9 11.3l8.9-8.2l1.5 0M592.1 464.6l6.2 4M592.1 716.1l1-6.6M592.3 357.6l3.4 6.3M592.5 615.8l7.5-7.3l-0.9-3.4M592.8 503l6.1-3.3M593.5 336.8l11.7 6.8l4.3-2l0.8-4.7l10.2-3.5l-3.1-10.9l-1.2-0.3l-3-12.5l9.5 0.4l2 2.5l6.2-0.7l2.9-6.9l-0.6-1.2l4.1-8.8l-1.2-2.1l6-7.7l-2.5-5.3l-5.2-0.1l-5.1 4.6l1.4 6l5.4 2.5M593.5 410.1l7.9-7.5l-3.1-5.8M593.6 451.4l0.1-0.1M593.7 659.8l4.3-2.6l5.3 3.1l7.6-5.4l0-1.5M593.9 741.6l8.2-8.1M594 572.3l3.9-3.2M594 576.4l9 6.9l-7.1 7.7M594.1 666.4l6.1 2.9l3.9-4.5l6.9 2.1l1.7 4l-5.3 4.9l-6.4-2.3l-0.8-4.2M594.2 305.8l1.4-10.2M594.5 645.1l4.1 3.7l6.9-0.5M594.6 454.5l9.8 6.6M594.7 537.8l0.3-7.9M595.4 745.4l11.3 2.8l0 0.1l-2 5.2l-8.4 4.2M595.5 351.6l5.5 0l4.2-8M596.3 625.4l4.7 6l-1 4.8M596.4 678.2l4.6-4.7M596.9 622.4l8.7-3.2l4 9.1l-8.6 3.1M597.3 276.5l9.6 7.9M597.8 294l0.2-1.4M597.8 481.1l10-2.5l0.4 0.3l4.1 10.1l0.9 0.1l6.4 9.4l3 0.4l1.2 1.1l-1.4 8.4l-7 2.9l0.2 7.2l-4.4 3.7l-5.4-0.3M598 657.2l0.6-8.4M598.6 438.8l5 0.2l5.9 7.2l-1.6 2.7M598.8 331l9.7 2.2l2.8-9.4l-9-4.5M598.8 424.5l6 1.4l7.7-7l0.4-5l4.1-2.6l7.2 4.3l5.2-4.4l-1.2-5.8l7.8-3.1l2.2 7.4l-2.3 3.6l-6.5-2.1M599.2 766.2l2.6 0.7l3.3 5l9.2-1.7l0.3-0.8l7.3-2.4l1.8-6l-6.8-3.1l-0.4-4.7l7.9-6.1l-7.1-7.3l-9.6 8.4l8.8 5M599.3 720.3l5.8-2.7M599.6 394.1l9.8-3l0.3-6.6l-8.9-3.2M599.6 416.3l7.5-4.8l-3.1-7.8l-2.6-1.1M599.7 376.4l3.7-4.2M600 608.5l7.6 4.7l6-6.9l-4-8.6l-7.7 1.1M600.6 548.9l2.9 8.2M600.7 539.6l3.9-5.2l-2.2-6.3M600.9 364l5.4-5.8l2.5 0.3M600.9 513.8l2.5-3.8l9.7-1.3l2.3 2.6M601 351.6l5.3 6.6M601.3 686.9l7.5-4.4l-1.4-6.7M601.8 766.9l6.9-5.9l-4-7.5M601.9 697.8l1.9 4.7l11 0.6l2.7 7.7l-11.2 3.6M602.1 706.7l1.7-4.2M602.3 733.4l0.3 0.1M602.5 500.9l0.9 9.1M603 467l4.8 4.1l0 7.5M603 583.3l2.6-0.7l-0.1-12M603.2 544.9l5.6 0l4.2-4.8l-1.2-4.6l2.9-5.1l-3.5-8.2M603.3 660.3l0.8 4.5M603.4 694.2l11.8-1.6l-0.4-7.6l4.2-3.2l6.9 2.2l1.8 8.4l-4.2 3.4l-5.8 0.2l-2.5-3.4M603.4 734.2l3.3 14M603.6 439l5.1-7.7l-3.9-5.4M604 403.7l9.7-5.3l3.9 10.5l8.2-4.8l-1.7-9.1l-2.3-0.8l-7.5 2.8l-0.6 1.4M604.1 269.5l9.3 8.8M604.6 534.4l7.2 1.1M605.6 582.6l0.4 0.2l4.6 13.4l9.9-4l-5.7-10.4l-8.8 1M605.6 619.2l2.3-4.8l-0.3-1.2M606.3 570l10.1 1.5l2.7-3.1l-3.5-6.6l-7.4-1M606.4 558.1l6-6.9l-3.6-6.3M606.7 748.3l1-0.1M606.8 498.6l6.4 4l6.4-4.1M607.1 411.5l5.8 2.4M607.8 471.1l6.4-3.3l-1.6-8.6l7.7-2.4l5.1 4.3l-3.6 7.5l-2.7 1.4l-4.9-2.2M607.9 614.4l10.4 5l4-5.1l3.2-0.6l5.6 6.3l-5.1 5.8l-7.6-5l-0.1-1.4M608.2 478.9l9.8-2l3.3 3.8l-0.7 4.7l-7.4 3.7M608.5 333.2l1.8 3.7M608.5 491.8l3.8-2.8M608.7 431.3l2.5 0.6l8.1-5.9l3.5 0.5l2.5 7.1l-3.1 4.4l-6.2 1.1l-4.8-7.2M608.7 761l3.4 0.9l2.5 7.5M608.8 682.5l6 2.5M609.4 391.1l4.9 5.9M609.5 341.6l1.3 1.1l10.2 1.2l4.2-8l0.4-0.1l8.3 6.7l-3.7 5.7l-7.5-0.1l-1.7-4.2M609.5 446.2l2.5-0.9l8.6 5.7l-0.3 5.8M609.6 371.9l4.9 9l-4.8 3.6M609.6 597.7l1-1.5M609.6 628.3l3.2 1.3l0.8 1.6l-0.6 7.3M609.7 458l2.9 1.2M610.8 342.7l2.9 9.8M610.9 654.9l3.6 4.9l-3.5 7.1M611.2 724.4l3.2 0.2M611.3 323.8l4.9-1.6M612 445.3l4-6.2M612.1 761.9l4.8-4M612.3 295.6l1.2-3M612.4 551.2l2.8 0.3l8-7.6l0.2 0.1l2.3 12.7l-6.9 0.3l-3.6-5.5M612.5 309.2l0.7 0.5M612.5 418.9l6.8 7.1M612.7 670.9l6.5 1.8l3.6-2.5l-0.6-9.3l-7.7-1.1M612.8 629.6l5.6-8.8M613 540.1l9.4 2.9l-0.5-11.6l-7.2-1M613.1 508.7l0.1-6.1M613.6 606.3l2.7 0.2l6.8-4.8l1-6.4l3.8 0l9.1 6.9l-3.8 5.1l-4.2 1l-5.9-6.6M613.6 631.2l13 0.3l1.8 2.2l-4.6 7.7l7.3 7.4l6.2-6.9l-5.3-7.9l-3.6-0.3M614.5 380.9l5.1 0l0.3-0.3l10.5 2.7l4.6-4.5l-5.5-7.2l-6.7 1.4l-2.9 7.6M614.8 581.8l2-2.6l-0.4-7.7M614.8 703.1l2.9-7.1M615.4 301.4l9.1 0.1l-1.8 8.6M615.6 518.5l5.2 1.1l8.7-5.7l-7.1-5.5M615.6 561.8l3.2-4.8M616.3 606.5l6 7.8M616.8 579.2l7.6 0.1l3.1-5.1l-3.8-6.1l3.4-4l7.6 1.7l4.9-3.9l-1-3.4l-5.2-3.9l0.9-6.3l6.4-2.7l0.6-2.3l-3.6-5.5l2.1-6.1l5.5 0.1l3.8-6.9l6.7 1.2l-0.8 10.2l-3.7 2.5l-0.3-0.1l-5.7-6.9M617 411.3l0.6-2.4M617.1 736.8l0.2 3M617.4 322.5l5-1.8l2.3-8.1M617.5 710.8l0.3 0.2l-0.3 11.6M617.8 648.4l7.9 7.5l5.4-6.4l7.9 4.8l-2.1 6.5l-3 1.3l-8.3-4.8l0.1-1.4M617.8 711l3.4-0.1l9.3 7.5l0 2.2l-6.3 4.2M618 365.1l4.8 7.9M618 476.9l1.1-6.9M618.1 291.3l7.1 3.9l5.5-4.8M618.7 643.1l5.1-1.7M619 681.8l0.2-9.1M619.1 568.4l4.6-0.3M619.6 380.9l2.2 13.3M620 278.5l6.4-7.1l-5-17.6M620.5 333.4l4.7 2.5M620.5 592.2l0.9 0.3l2.7 2.8M620.6 352.4l2.1-4.3M620.6 451l5.6-4.4l5.8 1.1l2.5 7.3l-6 5.7l4.8 6.7l-3.5 7.3l0.4 1.7l8.5-0.5l2.8 6.6l-1.7 2.8l1.1 7.2l-2.2 2.9l5 10.2l-1 1.5l-9.7 2l-3.4-8.5l6.2-4.9l2.9-0.3M620.6 485.4l4.8 3.7l-2.8 9.8M620.8 519.6l5.6 8.8l-4.5 3M621.2 710.9l6.9-5.8l-4.6-9.3M621.3 480.7l8.5-3.3l2.2 6.1l7.8 1.8M621.4 592.5l5.7-8.6l-2.7-4.6M621.8 468.6l8 6.1M622.2 438l4 8.6M622.2 660.9l3.4-3.6M622.4 281.7l6.9 2.7M622.4 320.7l4.6 2.1l5.8-2.2l3.8 3.4l6.1-2.3l-1.3-7.4l-7.4 1.5l-1.2 4.8M622.4 543l0.8 0.9M622.8 426.5l3.4-4.4l-2-6.5M622.8 670.2l7 1.8l1.9 7.4l4.4 1.9l4.5-1.3l3.8-6.7l-1.1-1.9l-11-1.4l-2.5 2M623.4 544l4-0.8l6.9 5.1M623.8 500l5.8 0.6M624 359.4l1.4 0.1l6.4-6.3l8.5 3.1l0.1 0.2l5.8 4.4l-1.8 7.7l-3.6 1.3l-8-4.3l0-0.2l7.6-8.9M624.1 241.5l12.9 25.7l-5.5 5.5l-5.1-1.3M624.1 395l7.7-2.4l2.1 0.9l3.7 5l6.9 0l2.6-8.9l2.2-1.2l6.7 3.4l0.9 2.2l-3.7 4.7l-8.4 0l-0.3-0.2M624.5 301.5l0.5-0.5l8.2 2.8M625 301l0.2-5.8M625.3 433.6l8.1 1.1l3.2 6.9l7.2 0.5l2.9-10.1l-1.2-2.3l-9.1 0.8l-3 4.2M625.4 359.5l7.4 5.9M625.4 461.1l3.1-0.4M625.4 489.1l3.4-0.5l7 7.1M625.5 613.7l3.5-5.4M625.6 335.8l3.4-4.7l-2-8.3M625.7 556.7l0.7 0.4l0.7 7M625.8 404.1l2.4 1.3M625.9 684l5.8-4.6M626 625.8l0.6 5.7M626.2 422.1l7.7-0.3l3-3l-1-5.5M626.4 528.4l1 0l6.1-9.7l5.9 1.6l-1 9.6l1.4 1.8M626.4 557.1l7-2.5M627.1 583.9l8 0.3l1.2 3.6l-8.4 7.5M627.4 528.4l1.3 1.1l9.7 0.4M627.4 543.2l3.6-4.6l6.7-0.8M627.5 574.2l7.7 0.7l-0.5-9.1M627.7 692.4l4.6 0.6l3.6-2.4l0.2-9.3M628.1 705.1l3.9 0.3l3.8-3.2l-3.5-9.2M628.7 529.5l2.3 9.1M628.8 488.6l3.2-5.1M629 331.1l7.1-1.1l0.5-6M629.5 371.6l3.3-6M629.5 513.9l0.5 0l3-4.8M629.8 477.4l0.4-1M630 513.9l3.5 4.8M630.2 348.2l1.6 5M630.4 383.3l1.4 9.3M630.5 718.4l4.1-5.1l-2.6-7.9M630.5 720.6l9.8 8.2l4.2-14.8l10 2.2l0.7-12.8l-1.4-1l-9.4 2.6l-0.4 8.3l0.5 0.7M630.9 311.9l3.1 3.9M631.1 620l2.5 0l4-4.9l-4.4-7.8M631.1 648.8l0 0.7M631.5 272.7l2.9 7.1M632 447.7l4.6-6.1M632 634l7.2-5.9l3.5 0l1.2 0.7l6.9 0l3.3 2.5l-2.5 10.3l0.1 0.1l1.7 1.1l6.9-1.3l1.9-5.2l-3.6-5.3l-4.5 0.3M632.3 670l1.6-7.9M633.3 467.4l5.8 0.2l1.6 5l6.1 0.8l3.4-4.1l-7.1-7.5l-4 5.8M633.6 620l5.6 8.1M633.8 305l9.9 3l3.1-4.6l-3.8-6.6l-5.7-1.8M633.9 342.5l1.7-0.3l7.2 6.5l3-1.3l8.9 2.6l2.3-10.5l-1.3-2.3l0.3-3.7l9.4-3.1l3.3 8.3l3.8 0.5l2.1-1.9l0.3-10l-9 2.3l-2.5-7.1l5-5.1l1.1 0.5l5.4 9.4l3.1-0.7l4.9-6.9l-3-4.8l-10.4 3M633.9 393.5l6.9-6.7l6.3 2.8M633.9 421.8l2.5 8.7M634.5 455l8.8 2.4l-0.2 4.4M634.6 713.3l9.4 0M635 378.8l2.5 0l2.2 1.4l1.1 6.6M635.1 584.2l1.6-4.1l-1.3-4.9l7.8-3.7l6.1 4.8l-1.9 3.9l-10.7-0.1M635.2 574.9l0.2 0.3M635.6 342.2l5.3-7.7l6.7 5.3l8.1-2.6M635.8 702.2l5.9 0.1l2.2-9l-0.6-1.1l2.5-6.1l7.5-2l2.6 1.2l0.3 5.7l-3.3 4.4l-9-2.1M635.9 690.6l7.4 1.6M636 402.3l1.6-3.8M636.1 330l4.8 4l6.8-6.2l6.1 2.2l4.4-8.1l-3.6-5.9l-1.9 0.2l-6.2 7.9l1.2 3.7M636.3 587.8l3.8 2.8l2.4 7.6l-2.5 3l4.8 8.7l-2.2 5.1l-5 0.1M636.9 418.8l6 1.1l3.2 7.3l7.8-3.9l0.3-1.4l8.1-3.9l3.2 5.6l-5.4 7.5l-0.9 0l-5.3-7.8M636.9 660.8l6.6 4.1l-0.2 6.5M637 267.2l4.9 1.7l0.7 7.4l-3 3.6M637 602.2l3-1M637.3 641.9l1 0.1l6 7.1l7.4-7.4M637.5 378.8l3.3-8.9M638.2 409.7l6.7-0.2l1.9-2.5l-2-8.3M638.3 642l5.9-4l-0.3-9.2M638.6 558.5l6.1-7.4l-4-5.5M638.7 475.9l2-3.3M639 654.3l5.2-2.2l0.1-3M639.4 520.3l4.1-1.7l1.8 0.7l3.8 5.6M639.6 561.9l4.1 1.9l6.8-7l-3.1-5.1l6-5.8l-2.1-7.1M639.7 380.2l7.8-1.4l1-6.3l-4.1-3.9M640.1 590.6l8.5-5.7l-1.2-4.7M640.3 356.3l2.5-7.6M640.6 680l5.2 6.1M640.9 334l0 0.5M640.9 492.5l11-0.8l1.9 5l-0.5 1.9l-9.3 7l9 4.5l0.8 4.4l3.7 2.1l6.2-1.9l4.5 5.8l-5.2 6.1l-6.6-0.8l1.1-9.2M641.3 543.3l9.7-4.6M641.4 314.3l2.5-3.7l-0.2-2.6M641.5 482.5l7.2-1.9l1.2 0.6l3.4 7.7l5.8-1.8l2-8l-4.2-3l-7 5.1M641.7 702.3l2.7 2.7M641.9 268.9l8.6-5.6M642.1 285.2l4.7 1.8l5.6-5.4l6.2 6.4l-3.3 5.8l-7.3-3.2l-1.2-3.6M642.5 598.2l6.7-0.3l6.1 9.4l-1.3 1.2l-9.2 1.4M642.6 276.3l9.6 1.5l0.7-11.6l9.2 2.3l1.4 8.2l0.2 0.2l9.5 0.4l1.9-2.3l10.4 1.2l20.2-47.8M642.6 615l2.2 2.8l-2.1 10.3M642.7 321.7l3.8 2.4M642.7 507.1l0.8 11.5M642.9 419.9l4-3.7l3.7 0.3l5.4-6.3l-0.6-2.3l-8.6-0.9M643 296.8l5-6.2M643.2 571.5l0.7-7.4l-0.2-0.3M643.3 457.4l0.3-0.2l4-0.2l6.4-4.7l5.2 2.6l3.1-1.6l5.1 3.5l5.5-2.1l-1.7-7.7l1.4-2.2l-6-8.4l-0.2 0l-5.9 7.9l2.9 3.5l7.8-0.8M643.5 664.9l4.1-3.4l-0.5-7.2l-2.9-2.2M643.6 457.2l1.9-13.5l8.4 0.4l0.1 8.2M643.7 505.6l0.3 0M643.8 442.1l1.7 1.6M643.9 310.6l8.8 5.6M643.9 564.1l7.3 2.9l0.8 7.8l-2.7 1.5M644.2 638l7.4 3.6M644.4 673.3l4.9 0.7l5.6-3.5l-0.2-6.3l-7.1-2.7M644.7 551.1l2.7 0.6M644.8 617.8l7.2 0.3l2-9.6M644.9 409.5l2 6.7M645.3 519.3l8.5-4.8M645.5 429.7l0.6-2.5M645.8 347.4l1.8-7.6M646.2 360.9l4.5-0.8l5-8.5l1.4 0.3l8.2-3.8l-0.7-6.6l4.1-2.8M646.7 432l8.6 2.1l-0.4 9.4l5.6 0.8M646.8 303.4l2.8-0.6l5.9-8.2l5.3 3.7l-0.2 5.9l-4 2.9l-7-4.3M646.8 473.4l1.9 7.2M647.1 654.3l9.2-1.7l-2.9-9.8M647.5 378.8l3 2.9l-1.2 6.7M647.6 457l7.2 5l3.4-1.3l1-5.8M648.5 372.5l6.5-1.7l-0.1-6.8l6.4-1.5l4.4 4.7l0 1.2l-8.3 4.2l-2.4-1.8M648.6 584.9l1.1 0.8l1.9 9.5l-2.4 2.7M649.3 674l4 10.1M649.7 585.7l9.6-0.8l-0.4-7.3l-1.6-1.9l-5.3-0.9M650.2 469.3l2.9-0.2l1.7-7.1M650.5 381.7l8.4-1.6l1.7 1.1l0.5 1.3l-5.1 9.3M650.5 556.8l4 1.1l1.5 5.5l-4.8 3.6M650.6 416.5l3.6 5.4M650.7 360.1l4.2 3.9M650.8 628.8l2.7-8.9l7.5 0.3l0.9 7l-3.3 3.8M651.6 595.2l7.2-1.8l2.9 2.5l-1.6 8.9l-2.8 2.4l6.8 9.1l3-0.2l3.5-2.9l0.2-8.3l-10.7-0.1M651.9 491.7l1.4-2.8M652 618.1l1.5 1.8M652.2 277.8l0.3 0.3l-0.1 3.5M652.5 278.1l11-1.4M652.9 695.4l0.9 7M653 510.1l4.2-4.3l-3.9-7.2M653.1 469.1l3.3 2.4l7.6-3.8l1-2.6l-6.8-4.4M653.2 398.7l2.9 7.7l-0.7 1.5M653.4 545.9l4 2.1l7.8-4.5l0.2-1l-2.7-5.1l3-5l4.7-0.4l5.6 6.9l-0.8 1.1l-9.8 2.5M653.8 330l2.2 3.5M653.8 496.7l9.8 0.7l2.5 2.9l2 0.4l6.6-8l0.1-0.8l-5-4.8l-5.7 2.2l-0.5 8.1M653.9 444.1l1-0.6M654.5 557.9l4.2-4l-1.3-5.9M654.6 316l2.4-3.1l9.8 0.6l1.6 3.9M654.7 350l1 1.6M654.7 664.2l5.2-5.2l-1.5-5.2l7.5-6.3l-5.6-6M654.9 670.5l3.9 1.8l2.1 10.1l-5 2.9M655 536.3l7.7 1.1M655.2 703.4l9.1-0.3l25.5 47.7M655.3 293.8l0.2 0.8M655.3 434.1l3.9-3M655.3 607.3l2-0.1M655.8 526.1l0.6-0.3M656 410.2l6.6 5.3l-0.3 2.5M656 563.4l5.2 2.6l4.1-7.9l-0.9-2.7l4.1-4.8l-3.3-7.1M656.1 406.4l7.9-3.8l-3.9-7.5l6-3.4l6 3l-6.5 8.3l-1.6-0.4M656.2 691l10.6 5.5l0.1 0l0.1-11.7l10.4 0.8l1.3 4.4l-3.4 5.8l-8.4 0.7M656.3 652.6l2.1 1.2M656.4 471.5l0.5 4.6M656.6 307.1l0.4 5.8M656.9 394l3.2 1.1M657 339.5l7.6 2M657.1 351.9l5.3 5.8l8.2-1.8l-0.4-5.1l4.6-4.4l-2.3-7.2M657.2 505.8l3.1 0.3l3.7 7.5l-0.3 1.1M657.3 575.7l4.4-8.9l-0.5-0.8M657.4 372.6l1.5 7.5M658.2 321.9l5.2 0.6M658.6 288l3.9-1.3l4.4 2.4l-0.3 7.2l4.6 3.6l3.5-1.5l1.5-5.2l-4.7-5.7l-4.6 1.6M658.7 553.9l5.7 1.5M658.8 593.4l1-7.9l-0.5-0.6M658.8 672.3l6.1-2.2l0.5-8.6l5-1.5l4.8 6.3l-3.6 7.4l-1.1 0.2l-5.6-3.8M658.9 577.6l9.1-1.2l1.1 9.4l-9.3-0.3M659.1 487.1l5 2.2M659.9 659l5.5 2.5M660.1 431.1l6.3 5.3M660.3 506.1l5.8-5.8M660.6 304.2l8.2 3.2l-2 6.1M660.6 381.2l9.4-7.4l-4.3-5.4M660.8 298.3l5.8-2M660.9 682.4l4.1 0.3l2 2.1M661 620.2l3.1-3.9M661.1 382.5l3.7 2.6l1.3 6.6M661.1 479.1l7.3-1.5l-4.4-9.9M661.3 362.5l1.1-4.8M661.7 566.8l4.6 1.6l5.4-3.6l4.3 2l-0.6 7.7l-6.4 0.6l-2.7-6.7M661.7 595.9l7.4-0.8l1.8 9.6l-0.1 0.2M661.9 627.2l8.6 1.3l-1.3 7.9l-7-0.1M662.1 268.5l4.1-3.6M662.3 453.3l1.1-5.5M662.5 286.7l1.2-9.8M662.6 415.5l2.8-1.9l1.8-8.4l-1.6-2.2M663 526.6l2.7 5.8M664 513.6l7.1-5.6l5.8 8.2l-7 4.5l-1.7-0.2M664.3 703.1l2.5-6.6M664.8 385.1l10-1.9l-0.5 11.1l1.5 0.8l4.4-0.3l5.5-5.4l-6.6-7.3l-3.9 0.6l-0.4 0.5M665 465.1l0.3-0.1l2.1-8.2M665 682.7l5.5-8.8M665.3 348.1l4.9 2.7M665.3 465l9.2 0.9l3.6-3.5l9.5 6.2l4.7-6l10.1 4.2l0.7-10.8l9.3 2.1l1.4 5.8l-0.1 0.2l-11.2 2.9l-0.1-0.2M665.3 558.1l5.6 2.5l7-6.7l0.3-1.1l0.3-0.1l11.7 3.4l1.8-6.4l7.4-1.9l3.6 2.5l7.5-6.7l-3.3-6.9l-5.4-0.4l-3.1-4.5l2.6-9.2l-0.7-1l-0.2-5.2l1.5-2.2l7-1.1l4.8 4.6l-0.5 6.4l-1.5 1.9l-10.4-3.4M665.4 330.4l0.5-0.8M665.4 413.6l10.1 1.6l-0.1-8.5l-8.2-1.5M665.5 423.6l3.5 0.6l7.4-7.7l-0.9-1.3M665.7 367.2l8-7.8l-3.1-3.5M665.9 647.5l1.8-0.1l4.3 9.9l8.3-2.7l0.3-0.6l-0.7-4.1l-7.5-6.6l-4.7 4.1M666.6 436.4l7-4.8l0.1-1l7.7-6.4l4.3 6.1l-2.7 5.4l-4.2 0.8l-5.2-4.9M667.1 616.1l6 10.5l-2.6 1.9M668 576.4l1-1.3M668.1 500.7l3.5 4.5l-0.5 2.8M668.4 477.6l2.4 1l0.7-0.3l3.5-4.7l-0.5-7.7M668.5 550.6l8.4 1l-1.7-11.6M668.8 307.4l0.8-0.6l10.5 3.5l-0.2 4.6M669 424.2l4.7 6.4M669.1 585.8l1.3 1.1l0.2 6.3l9.8 2.4l-2 8.1l-7.5 1M669.1 595.1l1.5-1.9M669.2 636.4l3.6 5.1l6.5-3.8l1.5-3.4l-5.4-7.8l-2.3 0.1M669.6 306.8l1.6-6.9M669.8 487.1l1-8.5M669.9 520.7l3.7 6.4l4.5 0.6l4.3-4.9l5.9 1.4l0.2 0.2l1.1 7l-0.1 0.1l-8.9 2.6l-2.5-6.4M670 373.8l0.9 0.2l5.3-3.7l-0.7-10.4l-1.8-0.5M670.4 532l3.2-4.9M670.4 586.9l8.8-3.9l4.3 7.9l-0.6 3.2l-2.5 1.5M670.4 660l1.6-2.7M670.6 613.2l6.8 1.7l6.3-4.7l4.6 5.4l-1 7.3l-8.4 0.1l-1.5-8.1M670.9 374l4.3 8.7M670.9 560.6l0.8 4.2M671.5 287.5l2.6-4.6l7.7 2.9l-0.3 5.4l4.6 3.8l5.4-3.7l-4.1-9.3l-5.6 3.8M671.5 478.3l10.3 4.9l4.2-9.3l-11-0.3M671.6 505.2l5.5-0.9l7 6.2l3.3-0.8l2.9 4l10.1 2.7M671.6 673.7l7.9 5.1l5.6-6.8l1.9-0.2l4.4 2.9l0.3 8.6l-0.7 0.8l-11.4-4.1l-0.1-1.2M672.1 394.7l2.2-0.4M672.4 643.3l0.4-1.8M672.6 444.8l4.1-1.3l5.8 4.1l0.1 6.7l9.4 2.2l3.6-3.4l6.6 1.7l0.9 1.2M672.9 454.7l5.3 3l4.4-3.4M673.2 277.3l0.9 5.6M674.6 337.3l8.3 0.4l0.9 7.1l-3.4 2.6l-5.6-1M674.7 298.4l5.3 2.7l5.7-3l4.7 5.3l-2.1 4.4l-7.8 2l-0.5-8.7M674.7 492.7l5.3 6.4l-2.9 5.2M674.8 491.9l7.1-3.9l6.7 10.4l-8.6 0.7M675.2 666.3l4.7-0.3l5.2 6M675.3 695.8l18.1 29.3l-8-33.8l5.3-3.3l7.8 7.1l4-8.7l7.4-0.8l3.4 4.6l-0.2 1.1l-13.7 8.1M675.4 406.7l1.1-1.1l-0.7-10.5M675.4 574.5l3 2.4l6.8-6.2l-1.2-5.2l6-3.9l3.6 3.4l-0.2 6.8l-4.1 1.3l-4.1-2.4M675.4 626.5l3.5-3.5M675.5 359.9l3.7-0.9l2.4-2.9l-1.2-8.7M676 538.9l2.6-1.1l2-3.7M676 566.8l4.7-2.4l3.3 1.1M676.2 293.2l5.3-2M676.2 370.3l6.8 1.7l2.3 3.7l4.2 0.8l6.1-7.1l-0.9-4l-2.1-1.9l-7.6 1.7l-2 6.8M676.4 416.5l2.7 1.1l7.8-7.4l-0.2-4.8l1.4-2.1l3.7-1.8l5.1 0.8l3.4 7.3l-2.7 5.7l-3.9 1.2l-6.8-6.3M676.5 405.6l10.2-0.2M676.7 443.5l2.1-7M676.9 516.2l1.7 0.1l3.8 6.5M676.9 551.6l1.3 1.2M677.4 685.6l2.2-5.6M677.9 553.9l2.8 10.5M678 326.6l7.6 7.3l-2.7 3.8M678.1 462.4l0.1-4.7M678.4 576.9l1.4 4.5l8.6-1.4l3.7 2.9l-1.5 4.8l-7.1 3.2M678.4 603.7l5.3 5.1l5.1-4.2l0.4-6.2l-6.3-4.3M678.5 552.7l8.3-9.2l1 0l2.6-3.2l7.9 0.3l1.1 7.2M678.6 516.3l5.5-5.8M678.6 537.8l8.2 5.7M678.7 690l6.7 1.3M679.1 382.1l6.2-6.4M679.1 417.6l2.6 4.1l9.8-1.2l2.2-4M679.2 359l5.8 6.2M679.2 583l0.6-1.6M679.3 637.7l6.3 6.1l1.5 0l4.5-6.2l4.9-0.2l1.9 3.6l5.9 2.3l2.7-1.2l1.8-6.2l7.2-0.2l1.3 1.5l-2.9 8.6l-7.4-3.7M679.9 649.9l5.7-6.1M679.9 666l2.7-5.5l8 1.8l1.4-9.6l1.2-1.4l0.2 0l5-10.3M680.1 310.3l0.4-0.5M680.2 394.8l7.9 8.5M680.3 654.6l2.3 5.9M680.6 654l11.4-1.3M680.8 634.3l5.6-1.6l5.2 4.9M681.4 424.2l0.3-2.5M681.6 356.1l9.8-1l0.4-0.6l-2.3-8.3l-5.7-1.4M681.8 483.2l1 2.8l-0.9 2M682.5 447.6l7.6-5.4l0.2 0l4.6 4.2l8.8-4.5l-2.5-6.3l-6.8-0.9l-4.1 7.5M682.8 486l12-0.9l0.1 0l7.4 10.4l-12.3 4.7l-1.2-1.7l6-13.4M682.9 319.7l3.1 0.4l3.6 3.3l8.5-1l1.4-2.3l-4.3-6.5l-3.4-0.4l-5.8 6.9M683 435.7l7.1 6.5M683.7 608.8l0 1.4M685.5 276.2l2.3 4.7l7.9-0.9l16-33.5M685.6 333.9l3.3-0.8l5 2.2l5.7-5.1l9.5 2.3l0 3l-8.4 8l-5.1-2.8l-1.7-5.4M685.7 298.1l0.4-3.1M685.7 389.4l4.5-0.3l2.5-2.3l0.5-3.9l8.7-3.2l0.1-7.5l4.1-1.8l6.9 2.8l-4.1 8.7l-2.8 0.8l-4.2-3M685.7 430.3l6.8-0.5l1.9 4.9M686 473.9l1.9-1.3l-0.3-4M686.4 632.7l2.6-7.7l4.8 0.5l5.2 6.9l-2.5 5M687 671.8l4.3-8.4l6.7 1.3l2.9-5l6.8-0.9l1.6-5l-5.2-3.9l-7 2.8l3.8 7M687.1 643.8l6.1 7.5M687.3 622.9l1.7 2.1M687.4 282l0.4-1.1M687.4 509.7l3.1-5.9l9.8 3.2l1.6 7.2M687.8 543.5l4.2 6.2M687.9 472.6l6.8 4.5l7.3-4.3l0.5-5.8M688.3 307.8l3.5 5.4M688.3 524.2l2-10.5M688.3 615.6l7.9-1.8l-0.4-6.9l-7-2.3M688.4 580l0.9-6.9M688.5 524.4l12.1-2.8M688.6 498.4l0.2 0.1M688.9 333.1l0.7-9.7M689.2 598.4l6.9-3.2l3.8 8.4l3.9 0.5l6.4-8.3l0-0.2l-0.6-0.8l-11.8-1.2l-1.4 1l-0.3 0.6M689.5 346.2l6.1-5.5M689.5 376.5l3.7 6.4M689.5 531.5l0.9 8.8M689.6 531.4l9.1 0.4M690 500.2l0.5 3.6M690 561.6l0.6-4.8l-0.4-0.7M690.2 389.1l1.6 12.4M690.4 303.4l5.7-1.2l1.9 1.3l6.9-2.6l4.2 4.1l-3.2 6.2l-6.7-3.3l-1.2-4.4M690.6 556.8l10.6 0.1l2.5-1.9l-0.7-4.7M690.6 587.7l5.8 6.9M690.6 662.3l0.7 1.1M690.7 688l0.3-3.9M691.4 355.1l1.2 8.4M691.4 674.7l9.2-2.3l1.3 2.3l7.7 2.7l3.5-6.2l5.2-1l0.6 0.6l0.6 8.2l-8.6 0.7l-1.3-2.3M691.5 291.3l4.3 0.7l2.8-8.3l7.3 0.3l1.5 4.1l-2 5.1l-8.9-0.3l-0.7-0.9M691.5 420.5l2.2 6.9l7.2-1.3l1.7-5.6l4.9-0.6l3.9 4l-3.7 6.6l-3.2 0.2l-3.6-4.6M691.7 683.3l7.9-1.2l2.3-7.4M691.8 354.5l8.9-2l1.8-4.5l-1.8-4.5M692 456.5l0.3 6.1M692.1 582.9l2.7-0.7l5.5 3.8l2.9-0.9l2.6-5.8l-5.5-5l-1.5 0.4l-4 7.5M692.5 429.8l1.2-2.4M692.7 386.8l9.3 5.1l-0.8 6.3l8.9 3.1l0.5 1.6l7.5 4.3l0.4 2.2l-2.5 3.6l2.6 9l5.3-1.1l4.4-8l-9.8-3.5M693.4 571.8l5.4 2.9M693.4 651.3l3.7 1.4M693.6 565l5.9-0.7l3.9 4.4l4.6-1.3l1.4 0.5l3.6 7.5l6.3-1.7l1.9-5l-3.5-5l0.3-2.2l2.1-1.7l8.1 0.5l1.7 4.6l-0.5 2.6l-0.5 0.4l-7.7 0.8M693.8 625.5l4.1-4.3l-1.1-7l6.8-0.7l4.1 4.7l-2 4.6l-7.8-1.6M694.7 365.4l10-6.1l-4-6.8M694.7 477.1l0.3 7.7l11.6-0.5l0.7 8.2l6.4 0l3.1-7.8l-8-3.2l-2.2 2.8M694.9 446.4l0.7 6.7M694.9 485.1l0.1-0.3M695.2 313.6l4-5.7M695.6 369.4l6.4 2.8M695.7 280l2.9 3.7M695.8 606.9l4.1-3.3M696.1 302.2l0.4-9.3M696.2 613.8l0.6 0.4M696.9 402.3l4.3-4.1M697.6 415.3l5 5.2M697.8 593.6l2.5-7.6M698 664.7l2.9 6l-0.3 1.7M698.1 322.4l1.5 7.8M698.3 540.6l3.5-4.3M699 632.4l6-1.9l3.8 5.4M699.5 320.1l4.2-1.2l3.3-4.3l9.7 1.1l1.5-6.9l-5.2-4.5l1.8-7.1l1.3-0.9l4.9 1.2l2.4 8.2M699.5 564.3l1.7-7.4M699.6 682.1l2.9 4.3M700.3 409.6l5.5 0.1l4.8-6.8M700.3 507l5.1-5.7l5.3 2.5l1.2 2.4l-3 6.9M700.3 574.3l3.1-5.6M700.9 670.7l7.9-4.3l4.3 4.8M701.2 435.6l3.3-4.9M702 391.9l2-1.3l9.5 2.3l0.6 1.4l10 3.6l1.2-0.3l3.8 3.5l10.3-1l0.7-4.2l8.4-4l3.1 12.4l-2.7 1.4l-1.6 7.2l-4.9 2.3l-6.9-3.8l5.9-7.8l7.5 2.1M702 472.8l6.1 4l6.2-3.9l-0.6-8.8M702.2 454.8l7.6-10.5l-6.1-2.4M702.3 495.5l1.4 0.4l3.6-3.4M702.5 348l9.6 0l2.9-4.6l-5.9-7.9M703.2 585.1l5.8 5.3l4.7-7.4l5.4 2l1.6-0.8l7 3.7l2.2-2.8l6.5-0.4l2.8 3.8l-3.2 3.6l-7.9 1.3l-0.4-5.5M703.6 613.5l2-6.3l8.1 1.9l0.1-0.1l7.7 0.5l1.3 1.5l5.5 0.2l0.7-0.6l-0.5-8.2l-5.9 1.2l-1.1 5.9M703.7 318.9l7 8.6l6.8-9l5.3 6.7l-1.9 6.4l-10.3-0.9l0.1-3.2M703.7 495.9l1.7 5.4M703.7 555l3.7 1.9l4.3-0.6l3.4-5.7l-2.6-6.3l5.5-2.3l6.3 4l3.1-6.8l4.2 0.5l1.5-1.3l6.5 1.1l2.8-2.2l-5.7-5.8l1.8-5.9l3.7-0.9l3.2 1.2l-1.8 11.3l-1.2 0.1M703.8 604.1l1.8 3.1M704 390.6l2.1-7.9M704.1 649.9l0.2-6.6M704.7 359.3l2 1l3.9-0.9l3.4-5.1l6.3 0.4l3.1 7.5l-5.9 4l-6.9-6.8M704.9 300.9l1.4-5.8l8.5 2.1M705 630.5l1.8-3.5l9.9 0.2l-0.7 8.5M705.4 293.2l0.9 1.9M705.7 622.8l1.1 4.2M705.8 409.7l4.1 4.2l6.1-0.9M705.8 579.3l5.6-0.7l1.6-3.2M705.9 284l5-10.6l7.2 12.6l6-0.2l1.1 0.9l7.3-2.3l5.7 4l0 2.2l-8.2 4.3l-3.3-1.8l-1.5-6.4M705.9 311.2l1.1 3.4M706.1 370.4l0.6-10.1M707.2 536.7l4.9-6.4l-0.4-4.3M707.4 288.1l8.4 0.5l2.3-2.6M707.4 556.9l0.6 10.5M707.5 419.9l2.4-6M707.7 430.5l4 3.9l7.9-2.5l0.6 0.5l9-1.7l1 0.8l0.7 10.4l-9.8-1.9l-0.9-7.6M707.7 618.2l5-1.8l3.2 2.1l1 8.5l2.2 0l7-5.9l-5.2-4.1l-5 1.5M707.7 658.8l2.1 3.4l-1 4.2M708.1 476.8l0.7 4.7M708.9 381.9l6.7 4.3l-2.1 6.7M709 590.4l0.6 4.4M709.1 305l3.9-0.7M709.1 332.5l1.5-1.8M709.3 653.8l3.9-2l1.9-4.5l9.5 0.2l1.7 3.8l-7.8 5.7l-5.3-5.2M709.4 567.9l8.3-4.2M709.8 444.3l0.1-0.1l0.4 0.3l3.8 10.3l-1.7 3.3M709.8 662.2l8.3 0.2l0.2 7.8M709.9 444.2l1.8-9.8M709.9 685.6l1-5.9M710.1 401.3l4-7M710.2 595.6l8.4-4.1l0.5-6.5M710.2 595.8l4.7 5.1l-1.1 8.1M710.3 444.5l7.6-0.9l4.5 6.4l-1.3 3.4l-7 1.4M710.5 543.6l2 0.7M710.7 503.8l6.5-7.1l0-0.1l-3.5-4.1M711.4 423.9l6-0.2l1.2-1.7M711.4 578.6l2.3 4.4M711.7 556.3l6.3 5.2M711.9 506.2l6.3 1.8l1.9 2.7l4.3-1l2.9-4.9l-2.8-3.9l-3-0.1l-3.3 7.2M712.1 348l1.9 6.3M712.1 530.3l7.7 3.9l4.2-7.4l4.6 1.3l0.9 3.1l-4.3 4.9l-4.9-1.1l-0.5-0.8M712.7 616.4l1-7.3M713 373.2l3.6-0.9l1.4 1.2l7.4 0.6l3.5 5.7l-6.4 5.6l-3.3-1l-1.2-10.9M713.1 691.3l8.1 22.5M713.2 524.1l8.9-0.4l1.9 3.1M713.3 690.2l7.7-2.4l2.8-3.8l6.5 2.3l2.6 8.6l-6.1 5.6l-5.8-12.7M713.7 517.7l5.7-3.7l5.1 5.2l-2.4 4.5M713.8 463.9l8.3-0.2l2.5 3.3l5.7 1.1l2-0.8l3.7-6.3l-1-2.3l-2.8-2l-7.9 1.8l-2.2 5.2M714.3 472.9l5.8 2.7l0.5-0.2l4-8.4M714.4 645.8l0.7 1.5M714.9 600.9l4.8-0.2l2.9 2.9M715 343.4l5.7-0.7l3.4-6.9l5.4-0.5l2.3-9.3l7-0.4l-0.9-11.1l2-0.4l9 3.8l1.6 2.7l-1.5 4.4l-7.2 2.6l-3-2M715.1 550.6l6.6 1.2l3.9-2.3l-1.3-3.5M715.6 386.2l3.6-1.8M715.8 288.6l0.3 7.7M716.6 372.3l0.9-6.1M716.7 315.7l0.7 1.1l12.5-1l-0.5 7.9l2.4 2.3M716.7 627.2l0.2-0.2M716.8 484.7l1.3-0.5l3.6 1.8l7.4-3.6l3 6l5.9-0.5l0.8-6l-4.5-3.2l-4.4 0.7l-0.8 3M717.2 496.6l6.5-5.3l5.4 2.3l3-5.2M717.2 496.7l4.3 4.1M717.3 637.2l4.6 0.4l3 9.2l-0.3 0.7M717.4 316.8l0.1 1.7M717.4 423.7l2.2 8.2M717.9 443.6l3.2-3.6M718 542l2.3-7M718.1 407.2l6-9.3M718.1 484.2l2-8.6M718.1 662.4l0.8-0.9l-0.4-4.5M718.6 591.5l4.9 3l4.1-0.4l0.5-0.7M718.9 661.5l7.6 0.6l2.9-4.2l6.8 2.8l0.7 4.9l-5.8 6.3l-0.2 0l-2-1.6l-2.4-8.2M718.9 670.8l10-0.5M719.1 627l5.4 3.7l4.7-2.1l-1.4-7.4l1.7-1.3l5.9 0l1.3 5.6l7.2 4.1l0.7-0.8l-0.2-7.3l-3.3-3.2l-4.7 0.7l-1 0.9M719.3 573.7l4.2 4.7l4.2-0.5l1.3-1.1l7.2 0.8l0.6 0.7l-0.4 6.4M719.4 514l0.7-3.3M719.5 679l4 3.3l7.4-10.4M719.6 726.2l22.5-25.3l0.6 0l6.2-6l5.3 3l0.3 2.7l-5.6 7.4l-6.2-7.1M719.7 600.7l3.8-6.2M720.1 559.8l1.6-8M720.3 354.7l5.2-5.7l3.6 0.6l6.1-5.8l-0.1-5.1l5.3-3.4l6 3l1.1 7.6l-6.7 1.5l-0.7 8.3l6.6 3.2l2.6-2.5l0.5-9.1l-2.3-1.4M720.6 475.4l8.5 2.9l1.2-10.2M720.7 342.7l4.8 6.3M720.7 584.2l2.8-5.8M720.9 331.6l3.2 4.2M720.9 617l1.9-6M721 297.5l5.7-4.4M721.1 453.4l3.2 5.1M721.7 486l2 5.3M721.9 637.6l1.9-1.4l0.7-5.5M722.4 450l7.8-2.2l2 8.9M722.5 385.4l4.5 8l-1.7 4.2M722.8 325.2l6.6-1.5M723.4 362.2l2.3 0.3l7-5.3l1.1 0.4l6.3-1.9M723.5 682.3l0.3 1.7M723.8 636.2l7.9 1.4l1.2-4.2l9.2-1l-0.6 6.5l-7.7 2.3l-0.9-0.4l-1.2-3.2M723.9 420.9l5.1 4.3l5.3-3.9l-2.2-9.1l3.4-0.8M724.4 509.7l5.8 4.4l-3.2 4.5l5.1 5.4l2.9-0.3l3.5 1.9M724.5 500.9l4.9-6.4l4.2 3.1l6.1-3.8l0.7-3.7l-2.4-2.2M724.5 519.2l2.5-0.6M724.9 646.8l8-6M725.2 536.1l2.2 3.1M725.4 374.1l3.8-4.9l3.9 0.2l3.3-4.3l6.6 1.1l0.3 5.1l-4.2 4.2l-2.1-0.4l-3.9-5.7M725.6 549.5l1.3 0.5l2.4 7.5l8.1-1.1l-0.4-7.8l-3.5-0.8l-6.6 2.2M725.7 362.5l3.5 6.7M726.1 621.1l1.7 0.1M726.3 651.3l2.5 2l4.4-1.8l5.6 2l3.3-3.1l5.3 1.6l3.1-1.7l4.6 5.2l5.7-2.3l0.7-4.9l-3.2-2.6l-7 2.6l-0.8 2M727 393.4l7.4-3.7l5.7 6.2M727.3 504.8l5.7 0.4l2.3-1.4l-1.7-6.2M727.6 594.1l2.2 6.6l2.9 0.6l4.7-3l4.7 1.6l-2.9 8l-1.8 0.2l-4.7-6.8M727.7 577.9l2.2 7.2M728.2 560.3l1.1-2.8M728.3 412.9l2.9-1l0.9 0.3M728.3 611.2l1.2 8.7M728.5 602.4l1.3-1.7M728.6 528.1l3.5-4.1M728.8 653.3l0.6 4.6M728.9 379.8l1.5 0.3l6.6-5M728.9 567.9l0.1 8.9M729 425.2l0.2 5.5M729 610.6l6.1-0.4l2.3-2.1M729.1 349.6l3.6 7.6M729.1 401.1l2.1 10.8M729.1 478.3l0.8 1.1M729.1 493.6l0.3 0.9M729.2 628.6l2.3 1.3l5.2-4.4M729.4 567.5l7.3 3l-0.5 7.1M729.5 335.3l5.6 3.4M729.5 531.2l3.9 1.8l3.3-1.5M729.9 564.9l10.3-3.8l0.2 0.4l7.8 5.4l-1.7 5.4l4.4 3.4l5.7-3.4l4.3 5.4l-1.4 4.2l-8-1.8l-0.6-4.4M730 294.9l2.8 8.6M730.2 431.5l8.5-0.9l-0.2-7.5l-4.2-1.8M730.2 447.8l1.2-2.2l11.5 3.4l0.1 0.2l-8 9.5M730.2 514.1l0.9-0.3l4.2 1.6l2.6-0.9l4 1.9l0.3 8.3M730.3 686.3l5.5-3.7l0-6.6l-4.7-4.1M730.4 380.1l4.7 7.5l8-4.4l1.8 0.5l6.6-5.8l5.6 2.1l0.3 0.5l-1.5 9.3l-7 1.2l-4-7.3M730.9 441.9l0.1 0.1l0.4 3.6M731 442l9.7-4l-0.2-6l6-1.9l3.6 2l0.6 6.6l-7.9 1.3l-2.1-2M731.1 513.8l1.9-8.6M731.5 629.9l1.4 3.5M731.6 539.7l1.9 8.1M732.3 467.3l5.4 5.6l-3.4 5.8M732.6 312.5l5.3 2M732.9 694.9l3-0.1l6.2 6.1M733.1 538.4l0.3-5.4M733.2 651.5l2.4-6l5.5 1.9l1 3M733.8 357.6l2.6 7.5M733.8 641.2l1.8 4.3M734.4 389.7l0.7-2.1M735 523.7l0.3-8.3M735.1 610.2l1.3 8.8M735.2 343.8l5.6 3.6M735.3 503.8l0.5 0.1l8.1-4.6l-4.2-5.5M735.8 503.9l3.5 3.9l-1.4 6.7M735.8 676l9.3-1.5l0.3-0.4l-0.8-6.9l3.2-4.4l-1.8-3.2l1.4-7.6M735.8 682.6l5 3.3l5.4-4.5l6.2 3.6l-4.3 7.6l-6.8-3.1l-0.5-3.6M735.9 694.8l5.4-5.3M736 461l4.8 1.5l4.1 6.5l-3.7 3.7l-3.5 0.2M736 592.1l1.4 6.2M736.2 660.7l3-2.7l-0.4-4.5M736.7 570.5l2.1-1.2l7 3.2l0.7-0.2M736.8 578.3l5-0.6l3.5 4.6l-3 6.5l0.1 0.1l6.7 1.4l2.4-2.2l-0.5-7.3l-5.7 1.5M736.9 665.6l7.7 1.6M737 548.6l0.5-0.2l2.1-8.9M737.4 556.4l2.9 3.6l-0.1 1.1M737.5 548.4l3.3 0.1l5.7-4.2l-1.9-6.5l-1-0.6M738.2 288.4l18.9-19.7M738.5 423.1l3.4-2l0.5-5.9M738.7 430.6l1.8 1.4M738.8 481.9l4.8-2l-2.4-7.2M738.8 569.3l1.6-7.8M739.1 375.5l4 7.7M739.2 588.5l3.1 0.3M739.2 607.9l2.2 1.3l1.8 4.9l-2.1 4.2M739.2 658l6.8 1.6M739.3 507.8l7.1 0.4l0.7 5.4l3 2.1l-0.8 9.6l-3.9 0.6M739.4 400.1l2 3.5M739.9 314.1l4.9-7.9l6.2 1.1l0.3-0.1l2.8-10.2l7.8 2.4l3.9-3.4l14.7 4M740.3 560l3.7-2.3l7.5 1.2l-2.5 7.5l8.7 1.7l1.9-1.7l-0.2-1.1l-6.1-6.5l-1.2-0.2l-0.6 0.3M740.4 335.3l1.4-7.7M740.4 490.1l6.6-1.3l0.6-3l-3.3-5.7l-0.7-0.2M740.8 462.5l5.7-4.1l-0.2-8l-3.3-1.2M740.8 548.5l4.6 3.8l5.5-1.8l1.5-2.4l8 3.4l1 2.3l-8.1 5M741.1 647.4l3.3-5.6l3.6 0.3l3.3 6.2M741.4 609.2l6.6-2.2l1.3-3.8l5.2-0.6l2.5 2.5l-0.8 5.4l-5.5 0.9l-2.7-4.4M741.5 638.9l2.9 2.9M741.8 577.7l4-5.2M741.9 421.1l5.4 2.4l6.3-3.5l-6.3-7.1M741.9 516.4l5.2-2.8M742.1 599.9l1.4-0.6l-1.1-10.4M742.1 632.4l1.6-2.3l7.9 7.5l-3.6 4.5M742.8 440l0.1 9M743 366.2l3.8-4.4l-0.1-2.9M743.2 614.1l6 0.3l1.5 4.1l-6.3 3M743.3 371.3l7.2 2.7l3.7-6.3l4.6-1l0.9-1.2l-0.1-8.2l-10.3-0.9M743.5 599.3l2.9 0.6l4-5.8l-1.3-3.8M743.7 630.1l0.2-0.5M743.9 499.3l0.9 0.2l2.2 7.7l6.8-1.8l1.9-4.2l-0.2-2.4l-7.7-1.3l-3 2M744 557.7l1.4-5.4M744.3 480.1l7.1-4.8l-0.2-1.7l-4.1-4.3l-2.2-0.3M744.6 537.8l6.3-1.4l0.9-1.5l6.6-1.4l2.4 7l-6 1.9l-3.9-6M744.6 628.8l6.9-1.6l0.5-7.8l-1.3-0.9M745.1 674.5l1.1 6.9M745.4 674.1l10.4-0.4l-2.1-10.8l0.7-0.6l6.2 0.2l3.5-5.4l-3.3-3.9M746.3 450.4l1.9-0.5l5.6-8.5l3.4 0l4.3 8.6l-1.6 3.9l-2.7 0.5l-9-4.5M746.4 338.3l8.8-5.1l2 9.5l-2 3.1l-5.4 1.5M746.4 508.2l0.6-1M746.4 599.9l2.9 3.3M746.5 430.1l0.8-6.6M746.5 458.4l5.5 2.9l0.3 1.6l-5.2 6.4M746.5 544.3l5.7 3l0.2 0.8M746.8 361.8l7.4 5.9M747 488.8l0.1 0.1l0.7 8.6M747.1 488.9l7.8 2.4l1.7 5.8l-1.1 1.7M747.6 485.8l7.7-4.3l0.4-1.2l-4.3-5M747.8 662.8l5.9 0.1M748.1 692.6l0.8 2.3M748.2 566.9l0.8-0.5M748.5 391.9l0.4-0.9M748.9 317.9l2.1-10.6M749 325l6.3 8.1l-0.1 0.1M749.2 614.4l1.5-3M749.3 525.3l0.6 0.3l2.8-0.1l7.2 4.9l0.8-0.3l3.5-6l-0.7-3.8l7.9-3l3.9 5.6l-1.6 5.5l-1.1 0.5l-8.4-4.8M749.9 525.6l1.9 9.3M750.1 432.1l7.6-3.7l3.5 8.8l5.4 0.1l5.8-4.7l-1.4-5.1l-2.1-1.6l-10.8 1.4l-0.4 1.1M750.1 515.7l3.9-0.9l5.4 4.9l3.3 0l-0.2-9.1l-6.3-0.3l-2.2 4.5M750.4 594.1l5.9 2.2l2.8-1.6l-2.3-6.4l-5.3-0.2M750.5 320.6l8.4-2.5l7.3 2.9l0.2-0.2l0.5-13.1l-3.7-2l-5.4 3.8l1.1 8.6M750.5 374l1 3.9M750.7 438.7l3.1 2.7M750.9 550.5l1.2 8.1M751 580.8l0.5-0.7M751.2 473.6l6.6-4.2l5.2 4l1.5-0.4l2.4-5.9l-3.6-5.5l-5.7 4.4l0.2 3.4M751.3 307.2l6.5 2.3M751.5 627.2l3.4 1.7l-0.8 8l-2.5 0.7M751.6 404.3l0.8 0l9.7-6.2l0.3-1.3l11.5-2.1l1.1-1.4l0.1-5.5l-0.3-0.2l-8.7-0.4l-4.8 6.2l1.1 3.4M752 461.3l5.2-6.9M752 619.4l5.1-0.8l1.7 8l6.6-2.3l0.3-4.5l-6.7-3.1l-1.9 1.9M752.2 547.3l2.6-4.9M752.3 462.9l5.3 3.1M752.4 404.3l7.9 9.1l6.8-8.1l2.6 0.6l4.4 7.6l-7 4.3l-6.7-2.9l-0.1-1.5M752.4 685l1.1-0.3l4.9 2.1l5.2-2.9l-1.7-9.7l0.5-0.4l2.2-6.7l-4-4.6M752.7 525.5l6.7-5.8M753.5 684.7l2.7-10.6l5.7 0.1M753.6 420l1.7 0.2l5.1-5.3M753.8 505.4l2.4 4.9M754.1 636.9l4.5 2.4l-0.3 6.4M754.2 697.9l5.4-3.8l4.4 1.4l5.8-6.2l-0.8-3.6l2.2-2.3l13.4-0.3M754.4 662.3l0.7-6.8M754.5 602.6l1.8-6.3M754.5 700.6l11.2 9M754.9 491.3l2.1-3.4l-1.7-6.4M754.9 628.9l3.1-1.1l5.6 6.2l2.6-1.1l3.8 1.1l0.5 7.5l-2.4 1l-6.7-4.6l2.2-3.9M755.2 345.8l5.8 8.3l5.6-6.5l-1.5-4.6l-7.9-0.3M755.3 333.1l5.7-1.9l5.1-9.9l8.3 10.6l-4.3 5.6l-1.3 0.2l-7.8-6.5M755.3 420.2l2.8 7.1M755.7 480.3l3.9-1l3.4-5.9M755.7 501.2l10.7 5.5l-3.9 3.9M755.8 673.7l0.4 0.4M755.9 389.8l5.4 3.6M756.2 610.5l2.8 3.2l7.1-4.3l0.2-4l1.1-0.5l7.6 1.2l1.8-5.9l-5-3.6l-4.4 8.3M756.6 497.1l7.4-2l4 10.7l-0.4 0.6l-1.2 0.3M756.6 572.3l1.1-4.2M756.8 588.3l3.3-5l-0.6-1.4M757 487.9l6.7 0.5l2.3-3.5l2.6-0.6l5.2 5.5l-2.8 4.2l-6.9 1l-0.4-6.6M757 605.1l7-1.2l2.3 1.5M757.1 380l4.3-7.1l-2.6-6.2M757.2 441.4l4-4.2M757.4 380.5l7 1.8l1.7 4.9M758 627.8l0.8-1.2M758.4 533.5l1.5-3.1M758.4 686.8l1.2 7.3M758.6 639.3l2.8-1.4M759 613.7l0 3M759.1 594.7l2.9 0.4l3.7-2.2l5.4 1.3l4.1-4.3l-1.1-4.2l-6.6-1.9l1-5.4l5.7-1.6l1.6 5.3l-1.7 3.6M759.4 565.3l4.1-10l-2.1-1.5M759.6 357.3l1.4-1.7l0-1.5M759.6 479.3l6.4 5.6M759.6 566.4l5.3 1.5l1.2 2.5l-1.2 5.2l3.6 2.8M759.7 365.5l11.1 0.1l0.4 3.1l-3.9 5.9l-5.9-1.7M759.9 453.9l3.8 5l-0.4 2.7M760.1 583.3l4.6 2l2.8-1.5M760.4 551.5l3.5-7.7l5.6 1l2.1-7.3l-2-3.5l-1.6 0.2l-6.3 6.7l2.2 2.9M760.7 530.1l7.3 4.1M760.8 540.5l0.9 0.4M760.9 577.7l4-2.1M761 355.6l9.5 2.3l2.7-3.2l-0.2-4.7l5-5.1l1.1-0.1l1.2-1.1l1.9-12.1l-0.7-1.1l-7.1 1.4M761.5 450l7.8-2.8l0.3-0.5l-3-9.4M761.5 648.3l4.4-0.8l3.6 3.2l4.8-0.4l3.8 4.3l-3 5.4l-3 1.2l-5-4.3l2.4-6.2M761.9 299.4l1.3 6.3M762 595.1l2 8.8M762.1 398.1l5 7.2M762.4 673.8l8.8 1.8l3.9-2.8l-4.8-7.8l1.8-3.8M762.7 519.7l0.8 0.6M763.5 555.3l3.6 0.4l0.7 9.2l-2.9 3M763.6 683.9l5.4 1.8M763.7 254l2.1 42M763.7 458.9l9.7-1.5l0.8-1.1l-4.9-9.1M764 495.1l0.1-0.1M764 695.5l3.8 7.2l5.9-3.5l0.3-7M764.1 657.1l3-0.2M764.4 382.3l4-4.5l5.1 2l1.3 7.8M764.5 473l7.9 4.5l-3.8 6.8M764.6 667.1l5.7-2.1M764.7 585.3l1 7.6M765.1 343l3.7-5.3M765.4 624.3l1.1 1.3l-0.3 7.3M765.7 619.8l0.9-0.6l6.6 0.9l3-3.4l5.8 3.8l0.4 1.1l-2.4 4.5l-6.1-0.4l-0.7-5.6M765.9 647.5l2.2-5M766.1 321.3l0.1-0.3M766.1 570.4l6.6 1.8l1.8 4l-0.3 0.6M766.1 609.4l2.4 3.3l7.2 0.6l2-3.2l4.3-0.9l3.7 4.7l4.3 0.5l3.9-3.4l-5-5.4l-5.8 1.9l-1.1 1.7M766.4 320.8l8.7-2.5l6.7 11.2l3.7-3.5l0.4-8.4l4-2.7l-9.7-13.9M766.5 625.6l6.7 0.6l-0.7 6.6l-2.5 1.2M766.6 347.6l6.4 2.4M766.6 619.2l1.9-6.5M766.9 467.1l7.5-0.8l1.1 8.1l8-0.2l1.1-6l-1.6-3.1l-8.2 0.5l-0.4 0.7M767.1 417.8l1.8 8.1M767.1 555.7l0.5-0.2l7.2 4l0.9 3.3l-0.8 1.8l-7.1 0.3M767.3 374.6l1.1 3.2M767.6 506.4l4 10.2l-0.2 0.7M767.6 555.5l3.1-4.4l7.3 1l1.9-2.8l-2.7-4.9l-7.1 1l0.6 5.7M768 505.8l0.8-0.2l8.6 2.5l-0.5 5.5l-5.3 3M768.8 505.6l4.8-6.1l5.3-0.3l1.8 3.9l-1.4 3.9l-1.9 1.1M769.5 544.8l0.6 0.6M769.6 446.7l6.6-2.5l0.4-8.5l10.2 3.8l0.4-0.2l5.6 0l4-6.6l-4.7-4.7l-4.8 2.7l-0.1 8.6M769.6 534l3-5.1M769.7 405.9l4.4-3.5l6.6 1.6l1.5 5.8l-6.8 4l2.9 7.3l3.6 1.1l1 6.9l4.4 1.6M770.1 337.5l7.9 7.4M770.5 357.9l0.9 6.7l-0.6 1M770.5 641.5l5.2 1.6l-1.4 7.2M771 427.5l7.3-6.4M771 494l2.6 5.5M771.1 594.2l0.7 2.4M771.2 368.7l7.9 5.9l-5.6 5.2M771.2 675.6l0 7.8M771.4 364.6l9.8-1.1l-1.2-6.6l-6.8-2.2M771.6 537.5l6.5 1.2l0.7 2.3l-1.6 3.4M772.4 432.6l3.1 1.4l7.4-4.9M772.4 477.5l0.7-0.3l2.4-2.8M772.5 632.8l6.2 2.2l1.1 2.9l8.7-1.1l-0.8-6.5l-6.5-0.9l-2.5 5.6M772.7 572.2l2.9-5.4l6.6 3.6l0.2 3.3l1.1 1.2l-1.1 7l-6.6 0.2M773.1 477.2l8.1 8.4l-3 4l-4.4 0.2M773.2 626.2l0.7-0.5M773.4 457.4l1.4 8.2M773.7 528.4l6.2 3.3l4.6-4.1l5.6 3.4l0.8 3l-4.4 2.4l-6-2.3l-0.6-2.4M773.7 699.2l5 1.6M773.9 394.7l0.2 7.7M774.1 413.5l1.3 0.3M774.2 456.3l5.3-1.7l5.1 3.1l6.8-6.9l-6.3-5.6l-4.2 2.1l-1.4 7.3M774.5 576.2l7.9-2.5M774.8 559.5l3.8-4.8l6.8 4.1l-1.2 2.8l1 4.7l5.3 1.4l4.5-4.7l0-0.3l-3.6-4.8l-4.3-0.2l-1.7 1.1M774.9 564.6l0.7 2.2M775 393.3l9.2 4.3l0.1 0.7l-3.6 5.7M775 606.1l2.7 4M775.1 318.3l2-2.4l8.8 1.7M775.1 387.8l8.6-2.2l3.1 7.7l-2.6 4.3M775.1 660l6.1 5.7l-4.2 7.2l6.1 5.6l5.6-9.2l-2-4.6l-5.5 1M775.1 672.8l1.9 0.1M775.2 589.9l4.1 0.8l4.9-6.4l-1.8-2.4M775.3 522.9l6.3-1.9l3 3.3l-0.1 3.3M775.5 434l1.1 1.7M775.7 562.8l8.5-1.2M775.7 613.3l0.5 3.4M775.7 643.1l3.1-1.7l3.2 3l0.5 7.8l6.5-2.1l1.7-3.3l-1.3-2.5l-7.4 0.1M776.2 444.2l4.7 3.1M776.8 600.2l4.2-0.8l0.5-6.4l8.1-0.5l0.9 6.7l-9 0.6l-0.5-0.4M776.9 513.6l5.7 3.1l-1 4.3M777.1 315.9l0.2-10.8M778 552.1l0.6 2.6M778.1 538.7l2.4-4.6M778.1 654.6l3-0.6l1.4-1.8M778.2 489.6l2.6 5.8l-1.9 3.8M778.8 541l6.5 1.4l-1.3 6.4l2 1.4l7.2-2.7l2.6 4.5l5.3 0.8l0.4 6.8l4.2 2.8l-0.2 5.4l0.9 1.3l6.6-1.4l2.3-4.9l-6.3-2.7l-3.3 2.3M778.8 641.4l1-3.5M779.1 344.8l5.1 8l-4.2 4.1M779.1 374.6l1-0.1l3.4-9.2l-2.3-1.8M779.3 507l5.4 3.6l0.6 4l-2.7 2.1M779.3 590.7l2.2 2.3M779.9 549.3l4.1-0.5M780 626.1l1.2 3.3M780.1 374.5l3.2 2.5l7.7-2l4.7 7.9l-0.2 0.7l-11.3 1.2l-0.9-7.8M780.3 343.7l8.7-0.9l2.6-6.1l-9.4-5.1M780.7 503.1l8.4-0.2l0-5.3l7.5-3.1l2.1 9.1l-6.1 1.9l-2.4-1.1l-1.1-1.5M780.8 495.4l6.3 0.1l2 2.1M781.1 654l6.1 6l4.4-4.2l-2.6-5.7M781.2 485.6l2.1-0.7l0.8-10l-0.6-0.7M781.5 330.5l0.3-1M781.5 599.8l1.6 7.7M781.9 422.2l4.9-2.6l5.7 4.1l-0.4 4.3M782 620.5l3.7-6.6M782.2 409.8l5.2 2l-0.6 7.8M782.2 570.4l3-4.1M782.4 621.6l4.8 1l2.7 5.3l4.7-0.2l1.6-6l-5.5-2.4l-3.5 3.3M783 465.1l2.2-5.7l-0.6-1.7M783.3 484.9l0.3 0.1l8.4-3.5l2.7 6.8l-6.5 1.4l-4.6-4.7M783.5 365.3l1.1-0.2l6.3-6.7l4.9 2.4l-1.1 9l-2 1l-8.1-5.7M783.5 574.9l5.3 0.6l2.3 3.9l-5 5.3l4.7 5.7l5-1.9l-2.3-8.3l-2.4-0.8M783.7 385.6l0.5-0.8M784.1 474.9l5.5 0.8l3.4-3.4l5.4 3l3.7-4.5l-0.3-1.6l-7.9-2.7l-0.9 1.2l0 4.6M784.2 352.8l5.2 0.7l3.1-4.2l7-1l2.3 4.5l8.3 3.4l1.6-1.1l1.1-7.1l-4-4l-7.1 0.3l-2.2 4M784.2 584.3l1.9 0.4M784.3 398.3l8.4 5.3l-4.9 8l-0.4 0.2M784.6 468.2l8.4-0.5M784.6 524.3l6.2-2.3l3.4 2.7l-4.1 6.3M784.7 510.6l5.5-6.2M785.1 445.2l1.7-5.7M785.2 459.4l8.7 2.9l3.3-3.4l-2.7-8.1l4.3-4.7l-6-6.8M785.3 514.6l5.2 1.2l0.3 6.2M785.3 542.4l0.5-0.3l7.8 2l-0.4 3.4M785.5 326l10.5-0.2l0.1-0.2l0.3-4.3l-4.5-6.4l3-3.8l-2.4-25.7M785.8 542.1l0.7-5.7M786 550.2l1.1 7.5M786.7 664.7l0.6-1.2l12.1-0.8l0.1-0.2l-4.5-6.6l2.8-4.8l-3-3.8l-4.1-0.5M786.8 393.3l6-0.7l3.2 5.8l-2.8 5.1l7 4.5l5.4-5.2l4.9 0.1l0.3 9.3l-4.4 3.3l-5.8-2.8l-0.4-4.7M787.1 495.5l1.1-5.8M787.2 660l0.1 3.5M787.7 630.3l2.2-2.4M787.8 411.6l9.5 3.1l-1.5 7.1l-3.3 1.9M788.5 636.8l1.9 1.4l4.7-1.1l3.4 5.5l-3.7 4.7M788.7 669.3l6 2.4l6-3.8l1.8 1.1l1.8 4.6l-8.3 17.2M788.8 575.5l3-3.8l5 0.7l2 4.6l-5.3 3.2M788.9 605.6l1.7-6.2l4.9 0.8l2.9 3.1l6.6-2.6l-0.6-3.9l-5-2.9l-3.9 6.3M789 342.8l3.5 6.5M789.4 353.5l1.5 4.9M789.4 644.3l1-6.1M789.6 475.7l2.6 5.3l6.7-2.3l-0.5-3.4M789.6 592.5l1.2-2.1M789.9 314.9l2 0M790 614.4l0.7 4.9M790.5 515.8l3.1-2l5.1 1.4l0 6.4l5.1 1.8l4.1-4.5l2.5 0.1l1.5 9l2.6 0.7l2.1 7.5l3.8 0l4.6-6.8l-8.5-1.9l-2 1.2M790.5 567.7l1.3 4M790.5 599.2l0.1 0.2M790.9 534l0.6 0.4l2.4 9.3l-0.3 0.4M791 375l1.7-4.2M791.4 450.8l3.1 0M791.4 557.9l4.4-5.9M791.5 534.4l6.4-0.7l3.3 7.6l0.9 0.2l1.7 9.5l-2.7 1.8M791.6 336.7l3.7-1.4l0.7-9.5M791.6 655.8l3.4 0.1M792 481.5l0.2-0.5M792.6 505.5l1 8.3M792.7 403.6l0.5-0.1M792.8 392.6l3.7-6.1l7.5 3.9l-3 7.1l4.6 5.3M793.2 284.1l12.2 24.7l10.3-1.7l1.7 6l-6.8 7.8l9.3 6.7l1.7-0.6l1.3-2.2l-2-9.8l-3.5-1.9M793.9 462.3l0 4.2M793.9 543.7l7.3-2.4M793.9 611l0.1 0l4.1-4.3l6.9 3.6l-5 7.1l0.2 1.7l5.1 2.9l3.1-1.8l0.8-9.8l-1.7-0.7l-2.5 0.6M794 611l6 6.4M794.2 524.7l1.1 0l3.4-3.1M794.6 627.7l4 4.5l-3.5 4.9M794.7 369.8l8.5 2.1l1.4-1.2l1.5-5.7l-8.4-4.8l4.1-7.4M794.7 488.3l0.9 0.5l1 5.7l9.4-0.2l-3.7 9.2l6.8 2.2l1.4-1.1l-0.7-8.2l-3.7-2.2l-0.1 0.1M794.9 311.1l9 0.1l0.8 5.7l-8.3 4.4M795 562.7l6.5-3.1M795 563l4.1 5.3l-2.3 4.1M795.3 335.3l4 2.3l8.6-5.3l-1.2-4.8l-10.6-1.9M795.3 524.7l4.5 6.1l5.5-1.2l1.1 0.5l1.4 9l4.6 1.7l4.2-4.6M795.5 383.6l1 2.9M795.6 488.8l5.7-3.3l5 6.7l6.8-6.8l3.5 3.3l5.3 0.6l1.7-1.3l6.7 2.1l3.8-6.6l-6.5-2.8l-3.2 2.1l-0.8 5.2M795.7 382.9l6.7-5.3l7 5.9l0.6 4.1l9.7 1.5l2.6-7.8l2.1-1l2.3-5.6l6-1.3l2.3 5.6l-3.9 3.9l-6.7-2.6M795.8 360.8l1.9-0.6M795.8 421.8l8.1 2.7l0.2 1.5l-4.5 6.6l-2.8 0.1M795.8 588.5l2.1 0.5l1.5 4.9M796 398.4l5-0.9M796.2 621.7l4-2.6M797.2 458.9l6.9 1l2.8-7.4l3.8-1l5.6 6l4.5-2.6l0.8-7.2l2.9-2.6l8.2 9l-0.2 3.6l-5.1 1l-6.6-3.8M797.3 414.7l3.3-2M797.8 651.1l3.2 0l3.2 7.1l-4.7 4.3M797.9 533.7l1.9-2.9M797.9 589l4.9-2.8l0.2-7.8l3.9-2.5l3.9 1.5l2.4 6.9l-8.8 2.6l-1.6-0.7M798.1 606.7l0.3-3.4M798.5 642.6l4.6 0.5l1.2 5l-3.3 3M798.6 632.2l0.1 0l7.8 6.6l1-0.2l3.6-5.8l-0.5-1.9l-5.3-4l-6.6 5.3M798.7 503.6l1.5 0.5l1.1 9.7l1.6 0.2l6.1-4.9l5.1 5.8l0.1 1.6l-3.8 2.5M798.7 515.2l2.6-1.4M798.8 446.1l1.1-0.2l5.7-6.6l-6-6.7M798.8 577l4.2 1.4M798.9 478.7l3.7 3l3.2-1.1l7.2 4.8l0.1 0M799.1 568.3l6.4-0.5M799.3 337.6l2.4 6.7M799.4 662.7l1.3 5.2M799.9 445.9l7 6.6M800.2 504.1l2.1-0.6M801.3 485.5l1.3-3.8M801.8 469.2l4-6.8l2.8 0.9l7-2.9l0.7-2.9M802.1 470.8l6.1 3.8l3.9-2.1l4.6 6.9l2.7-0.3l5 3.7M802.1 541.5l5.7-2.4M802.4 377.6l0.8-5.7M802.5 669l10.6-3.7l1.7 1l1.4 11.9l-11.9-4.6M802.9 514l5 4.9M803.1 643.1l3.4-4.3M803.8 523.4l1.5 6.2M803.8 551l5 0.7l1.3 1.4l5 0.7l4.8-7l-6.9-4.3l-4.2 9.2M803.9 311.2l1.5-2.4M803.9 424.5l2.9-4.2l10.1 3.2l2.3-2.2l3.8 0.7l5.1 6.5l3.6-0.2l3.6-9.8l-5-1.7l-7.3 5.2M804 390.4l4-0.9l3.5 12.6l5.5-0.9l2.8-11.9l-0.1-0.2M804.1 426l6.2 4.7l5.5-2.4l6.2 8.1l-11.2 3.9l-2.7-1.4l2.2-8.2M804.1 459.9l1.7 2.5M804.2 658.2l4.4-0.5l0.5-8.1l1.7-0.9l3.8 1l1.5 5.4l-5.7 3.8l-1.8-1.2M804.3 648.1l4.8 1.5M804.4 586.9l3.7 5.8l-3.7 4.1M804.6 370.7l10.3 4.3l4.2-7.2l2.4-1.2l5.2 8.1M804.7 316.9l5.4 4.1l-3.4 6.5M805 600.7l0.5 0.3l8.8-1l-2.7-6.9l-3.5-0.4M805.3 622l0 4.9M805.5 601l2 8.7M805.6 439.3l2.5-0.4M805.8 480.6l2.4-6M806.1 365l2.2-1.9l1.8-6.9M806.1 494.2l0.2-2M806.4 415.5l0.4 4.8M806.4 530.1l5.5-2.1M806.4 569.1l0.5 6.8M807.5 638.6l4 3.2l7.8-0.9l-2.4-6.1l-5.8-2M807.9 332.3l4.5 2.7l-3.6 9M808 389.5l2-1.9M808.3 363.1l10.8 4.7M808.4 620.2l3.3 0.4l5.9-4.6l0.4-1.7l-5.2-4.7l-3.6 0.8M808.6 463.3l3.7 8.9l9-4.2l-0.1-1l6.2-8.3M809 509.1l0.1-3.4M809 560.1l1.1-7M809.4 383.5l5.6-8.3l7.3 6.1M809.8 496.4l4.5-0.8l4.3 3.8l4.3-1l-1-9.1M810.1 321l0.5-0.1M810.4 658.9l2.7 6.4M810.5 402.9l1-0.8M810.5 504.6l5.1-0.3l3-4.9M810.6 630.9l5-5.1l-3.9-5.2M810.7 451.5l2.6-4.2l8.3 0.4M810.8 412.2l7.3 2.3l1.1 6.8M810.8 440.3l2.5 7M810.8 577.4l7.4-3.7l-5.2-6M810.8 648.7l0.7-6.9M811.6 593.1l3.4-4.1l-0.8-3.9l-1-0.8M811.7 355.1l10.5 3.1l0.2 6.9l-0.9 1.5M812.1 472.5l0.2-0.3M812.4 335l3.1-0.3l4.1 4.5l9.1 0.1l1.9 2.9l-0.8 3.1l-6.1 4.7l-6-4l1.9-6.8M812.4 540.8l0.6 1.7M812.8 348l4.9-2M812.8 609.6l3.4-7.7l5.7 1.5l6-5.4l-7.2-4.8l-5 7.8l0.5 0.9M813 485.4l3.7-6M814.1 514.9l4.2-6.7l-2.7-3.9M814.2 516.5l0.1 0l8.9-1.2l1.5 6.3l-6.5 0.7l-3.9-5.8M814.2 585.1l5.6-2.8l0.3-6.5l-1.6-2.1l-0.3 0M814.3 495.6l2.3-6.9M814.3 600l1.4 1M814.6 649.7l3.8-2.3l6.1 6.2l2-0.4l1.2-1l-3.3-11.4l-4.5 0.5l-1.5 6.1M814.8 666.3l5.5-2.6l5.7 2.3l1.1 15.6l10-9.7l-3.1-8.4l-3.8-0.2l-4.2 2.7M814.9 375l0.1 0.2M815 589l5.4 2.4l3.9-3.6l5.9 2.9l2.9-4.8l-3.2-6.5l-5.9 5.5l0.3 2.9M815.1 553.8l2.9 3.3l-0.6 4.8l-2.1 0.9M815.5 334.7l4.4-7.1M815.6 460.4l5.6 6.6M815.6 625.8l2.2 0.1l2.6-4l-2.8-5.9M815.8 428.3l1.1-4.8M816.1 655.1l4.9 1.5l-0.7 7.1M816.5 527.5l1.7-5.2M816.9 634.8l4.1-5l-3.2-3.9M817 401.2l2.5 1.6l8-1.2l0.3-9.1l5.2-2.3l1.3 0.3l2.8 8.9l-7 4.2l-2.6-2M817.4 561.9l4.7 3.1l0.4 2.7l-4 6M818 557.1l8.7-3.3l0.1-2.9l-6.6-4.1l3.6-7.3l4.3 0l2.2 2.3l-2.8 8.5l-0.7 0.6M818 614.3l1.5-0.5l6.2 2.1l1.5 3.6l7.2-2.3l0.9 0.9l0.4 3.9l-4.1 3.6l2.4 5.7l-6.1 4l-4-5.2l3.6-6.1l4.1 1.6M818.1 414.5l2.5-2.9l7 0.1l3-5.8l-0.5-2.3M818.3 508.2l5.3 0.7l2.6-7.2l8.6 2.3l1-4.6l-3.6-6.3l-0.5-0.2l-6.7 6.7l1.2 2.1M819.3 640.9l0.6 0.4M819.4 479.1l3.5-6.1l-1-4.4l8.2-0.1l1.8 5.6l-3.8 2.5l-5.2-3.6M819.5 402.8l1.1 8.8M819.5 613.8l4.2-6.8l6.2 2.5l0 0.1l-4.2 6.3M819.8 389.3l8 3.2M819.8 582.3l4.2 2.6M819.9 546.8l0.3 0M820.1 575.8l9 1.6l0.9 1.6l6.5-1.2l2.3-5.2l-0.6-1.7l-7.1-1.2l-1.1 0.9l-0.9 6.8M820.4 536.2l3.4 3.3M820.4 591.4l0.3 1.8M820.4 621.9l6.1-0.2l1 2.3M820.9 315l10.7-1.9l-1.8 9.3l6.6 5.9l-7 5.6l-0.7 5.4M821 629.8l2.9 0.3M821 656.6l3.5-3M821.3 468l0.6 0.6M821.6 327l7.8 6.9M821.9 603.4l1.8 3.6M822 436.4l3.4 5.1l-0.9 3.6M822 436.4l6.1-7.9M822.1 565l4.9-4.3l4.8 4l5.1-2.9l-1.3-4.3l-7.9-1.9l-0.7 5.1M822.2 358.2l0.8-0.9l12.3-0.9l0.4-1.3l5.8-4.6l-0.2-5.5l45.6-16.9M822.4 365.1l12.6 1.2l0.6 1.7l-2.9 5.4M822.5 567.7l7.5 2.9M822.9 324.8l6.9-2.4M822.9 498.4l2.1 1.2M823 357.3l0.7-7.3M823.2 515.3l2-3.5l3.5 0.5l6.7-7.2l1.3 0.7l7.8-3.8l0-5.7l3.6-2.4l3.6 2l0.1 6.9l-4.3 1.8l-3-2.6M823.6 508.9l1.6 2.9M824.4 640.8l2.9-2.1l0.6-3.4M824.7 521.6l1.6 1.3l-0.3 6l3.8 2.5l5.2-0.6l1-1l0.8-4.8l-6.2-4.2l-4.3 2.1M825 529.4l1-0.5M825.4 441.5l8.1-1.3l5.1 7.2l-5.9 6.7M826.5 621.7l0.7-2.2M826.5 653.2l3.7 10.1M826.7 553.8l1 1.8M827.3 638.7l5.7 3.3l5.4-2.1l-2.2-8.2l-2.2-0.4M827.5 550.3l11.3-0.9l0.4 0.2l0.1 3l5.6 4.7l4-1.2l-0.5-6.8l-9.1 0.3l3.4-7.3l6.2 1.1l0.5 4.6l-1 1.3M827.6 411.7l2.7 5.1M827.6 480.7l0.5-4.1M827.7 652.2l2.3-0.5l3.5-4.4l5.5 1l2.9-3.6l4.7 0.9l3.3-7.3l-1.2-1.9l-3.6-0.3l-5.7 4.2l2.5 4.4M827.9 598l1.7-0.4l2.6 5.3l6.1 0.9l4.3-5.8l-2.5-3.2l-8.8 0.4l-1.7 2.4M828.1 539.5l1.7-8.1M828.7 512.3l3.4 4l7.3-1.5l1.4-1.7l-4.1-7.3M829.8 345.3l5.9 9.8M829.9 579.4l0.1-0.4M829.9 609.5l2.3-6.6M829.9 609.6l3.9 2.2l0.6 5.4M830 651.7l5.2 3.4l5.1-1.8l2.6 1.3l-1.6 6.9l-6.2 0.9l0.1-7.3M830.1 468.5l4.5-5.3l-0.8-3.9l-1.3-1.6M830.2 590.7l1.1 4.5M830.3 490.1l1.4 2.8M830.3 541.8l3.4-0.3l5.1 7.9M830.6 342.2l7-0.5l3.7 3.3M830.6 405.9l10 5.3l0.2-0.1l4 0.6l3.4-2l2.5-8.2l-6.3-2.8l0.3-6.1l-6-3.6l3.6-8.6l-7.3-1.4M830.6 520.8l1.5-4.5M831.1 382.9l1.9 7.3M831.1 569.7l0.7-5M831.7 428.3l6.1 5.2l3.4-0.6l2.4-8.1l-8-6.4l5-7.2M831.9 474.1l3.8 1l0.7 7.7l-2.3 0.7M832.2 493.1l6.3-2l3.3 4.6l2.7 0.6M833 642l0.5 5.3M833.1 585.9l3.7 0.2l3.8 6.3l5.6-5.7l-0.1-1.2l-4.2-3.7l-1.3 0l-3.8 4.3M833.5 440.2l4.3-6.7M833.7 541.5l3.4-3l4 0.7l1.6 3.1M833.8 459.3l10.1-1.9l1-2.3l9.9-2.9l1.2-3.1l-0.3-1l-11.9-2.4l-2.5 1.8l3.6 7.6M833.8 611.8l5.6-2.5l0.1-0.1l7.3-1.6l1.5 4.9l-4 4.9l-1.3-0.6l-3.6-7.5M834 663.5l1.1-1.1M834.3 390.5l4.4-1.5M834.6 463.2l3.8 3.6l-0.5 6.6l8.1 2.4l1.8-2.8l-4.1-6.6l-5.3 0.4M834.8 504l0.6 1.1M835 366.3l1.8-6.2l-1.5-3.7M835 530.8l2.1 7.7M835.3 418.5l0.3-0.1M835.3 618.1l7.7-1.3M835.6 368l5.5 2.6l1.4 9.7l7.7 0.8l2.5-3.4l-4.2-10l-7.4 2.9M835.6 557.5l3.7-4.9M835.7 475.1l2.2-1.7M835.7 622l6.4 4.1l-2.1 3.7l-3.8 1.9M835.8 499.4l6-3.7M836 529.8l7.5 1.8l1.2 3.4l-3.6 4.2M836.4 482.8l3.8 1.6l0.2 0.5l7.7 4.8l1.9-1.8l0.3-6.7l-4.2-3.2l-5.9 6.4M836.5 577.8l4.1 4M836.8 360.1l12.1 0.9l0.8 3.8l11 2.4l-4.1 9.5l-3.9 1M836.8 525l2.7-2.2l-0.1-8M836.9 561.8l0.7 0.4l5.9-1.6l1.4-3.3M837.1 399.4l3.7 1.2l3.6-1.9M837.1 671.9l5.9 0l4 8.8l10.1-4.3l0.5 0.1l3.6 42M837.6 341.7l7.1-14.1M837.6 562.2l2 5.8l7.4-1.3l1.6-0.6l6.6 2.6l2.6-3.2l-3.7-7.3l-1.2 0.1l-4.3 7.8M838.2 570.9l1.4-2.9M838.3 603.8l1.2 5.4M838.4 639.9l1 0.4M838.5 491.1l1.9-6.2M838.6 447.4l2.7 0.1M838.8 572.6l6.8 2.5l1.5-0.6l-0.1-7.8l-3.5-6.1M839 648.3l1.3 5M839.2 549.6l0.1 0M839.5 522.8l5.1 1.2l1.7 3.8l7.1 0.9l0.5-0.8l-1.6-7.7l-1.6-1.4l-1.7-0.1l-4.4 5.3M840 629.8l5.1 6.3M840.1 594.8l0.5-2.4M840.8 400.6l0 10.5M840.8 513.1l1.9-0.1l4.6-3.9l0.2-4.5M841.2 432.9l4.4 2.9l-1.8 9.9M841.3 661.5l2.7 2.3l5.6-3.4l4.3 4l-2 4.3l-7 0.8l-0.9-5.7M841.5 350.5l10.3 4.2M841.9 581.8l3.7-6.7M842.1 626.1l0.8-0.4l2.3-5.8l7.6 0.9l2.1 3.5l-1.4 3.9l-2.8 1.5l-7.8-4M842.3 380.4l0.2-0.1M842.6 598l2.8 0.8l6-7.5l-0.1-0.7l4.6-3.7l4.5 1l1.7 2.4l-5.9 5.7l-4.8-4.7M842.7 513l6.3 5.7M842.9 654.6l1.3-0.4l4-5.9l5.8 1.4l2.4-7.5l7.9 1.9l0.6 1.2l-2 5.7l-7.8 0.2l-1.1-1.5M843 671.9l1.9-2.4M843.5 531.6l2.8-3.8M843.6 424.8l5.7-3l-4.5-10.1M843.7 466.4l2.9-4.2l-2.7-4.8M844.2 654.2l5.3 3.8l5-3.9l0.6-2.9M844.3 617.4l0.9 2.5M844.7 392.6l7.5-4.5l-2-7M844.7 535l3.9 1.2l1.8 5.1l-1.5 2.1M845.4 598.8l0 0.1l9.3 1.3l-0.3 5.7l1.4 1.7l4.6-0.5l3.3-6l-7.4-2.4l-1.6 1.5M845.4 598.9l1.8 7.9l7.2-0.9M845.6 435.8l7.4-0.2l3.7 7l-1 5.5M846 475.8l0.1 2.2M846.1 585.5l6.8-6.2l3 7.6M846.2 586.7l5.1 3.9M846.6 462.2l6.6 0.7l2.9-2.3l-1.3-8.4M846.6 645.6l1.6 2.7M846.8 607.6l0.4-0.8M847.1 574.5l6 2.8l2.5-3.9l8.6-0.5l-1.2 7.7l-0.5 0.3l-9.3-3l-0.1-0.6M847.3 509.1l7 2.1l0.5-0.2l2.2-5.5l-5.2-2.7M847.8 473l4.4-1.7l1-8.4M848.1 489.7l0 4.2M848.2 409.7l7.6 2.6l0.3 7.1l-4.3 2.9l-2.5-0.5M848.3 612.5l6.3 1.4l0.2 0.4l6.4 1.2l2.2-4.5l3.3-0.7l3.3 3.7l-1.7 3.4l-5.8 0.6l-1.3-2.5M848.5 367.7l1.2-2.9M848.6 536.2l5-4.8l4.4 4.8l-3.2 4.7l-4.4 0.4M848.7 636.4l2-6.7M848.9 556.1l4 2.2M849.4 548l6.6 1.1l1.7 6.3l2.1 0.2l4.2-2.6l1-4.6l-4-3l-2.8 0.5l-2.2 3.2M849.5 658l0.1 2.4M849.9 638.3l5.3 1.3l1.2 2.6M850 487.9l5.8-0.3l3 7.2l-0.1 0.2l1.7 2.4l4 0.6l3.2 4.7l5.8-0.5l1.8-2.1l3.9 0.4l4.6 5.5l2.8-0.4l2.7-3.9l-1.2-4.7l-4.7-2.3l-4.2 5.8M850.3 481.2l6.8-1.2l-1.7-7.1l7.9-3.4l1.5 7.9l-6.1 3.8l-1.6-1.2M850.7 401.5l4.1-1.4l0.7-9.5l-3.3-2.5M850.7 518.8l3.6-7.6M851.7 495.9l7-0.9M851.8 422.3l3.1 10l-1.9 3.3M851.9 668.7l5.2 7.7M852.2 471.3l3.2 1.6M852.3 520.2l7.5-1.4l1.5 7.1l2.5 1.2l3.6-1.1l2.1-3.2l8.1 2.5l1 2.7l-1.1 3l-4.3 2.1l-5.8-7.1M852.8 620.8l2-6.5M852.9 579.3l0.3-1.4M853.4 528.7l0.2 2.7M853.5 628.2l6.5 5.6l4.4-8.1l5.2 0.8l-0.5 8.7l-3.6 1.4l-5.4-2.6l-0.1-0.2M853.9 527.9l7.4-2M853.9 664.4l4.2-1.6l4.3 5.6l6.3-0.7l-0.8-6.1l-5.5-2.4l-3.6 2l-0.7 1.6M854.1 558.2l3.6-2.8M854.5 654.1l4.3 7.1M854.6 613.9l1.2-6.3M854.8 511l6.7 4.9l2.1-0.7l5.9 4.5l0 3.1M854.8 540.9l3.4 5M854.9 432.3l9.2-2.5l0.2-8.6l3.6-2.8l9.3 6.1l-8.5 9.3l-4.6-4M854.9 624.3l6.6-1.4l1-4.9M855.2 568.7l0.4 4.7M855.2 639.6l4.9-5.6M855.5 390.6l2.6-0.5l7.9-9.3l-9.4-4.1M855.8 487.6l3.2-4.7l5.7 4.8l0 0.3l-5.9 6.8M856 449.1l12.3 2.6l0.9 2l-1.7 6.8l9.8 4.7l1.6-1.1l0.3-9.5l-10-0.9M856.1 419.4l8.2 1.8M856.1 460.6l7.5 3.1l3.9-3.2M856.2 596l0.1 2.7M856.7 442.6l10.1-3.3l3.6 6.4l-2.1 6M857 505.5l1.1-0.6l2.3-7.5M857.6 676.5l0.1-0.1l7.2 1.9l6.2-5.5l-0.1-3.5l-2.3-1.6M857.7 676.4l4.7-8M857.8 565.5l2.6 0l3.3-4.2l-3.9-5.7M858 536.2l4.9 0l1.4 1.3l-3.3 7.9M858.1 390.1l13.1 6.7M858.1 504.9l6.8 3l2.7-5.2M858.7 481.2l0.3 1.7M859.8 518.8l1.7-2.9M860.4 565.5l4.7 5.1l-0.2 1.7l-0.7 0.6M860.4 587.9l2.1-7M860.4 607.1l3 3.9M861.5 622.9l2.9 2.8M862.1 590.3l2.5 0.9l4.2-5.4l4.4 0.3l0.6 5.9l-2.9 1.6l-6-2l-0.3-0.4M862.4 659.2l1.5-6.6l-1-1.6M862.9 536.2l0.9-9.1M863 580.6l4 1l5.6-4.5l2.8 7l-2.2 2M863.3 469.5l0.7-1.3l-0.4-4.5M863.6 515.2l2.1-5.4l7.9 0.5l-0.2-8.1M863.7 561.3l5.2 0.3l0.2-5.8l-5.1-2.8M863.7 601.1l0.1-0.1l1.1-9.4M863.8 601l5.5 2l2.2-1.9l-0.6-7.5M863.9 652.6l7.5 2.1l0.5 2.3l7.1 4.5l3.3-6.7l-4-3.7l-5.9 1.9l-1 1.7M864 468.2l8.4 3.2l4-2.4l0.9-3.8M864.3 537.5l0.5 0.1l4.4 6.2l-1 3.3l-3.2 1.3M864.3 644.1l1.2-7.5M864.4 498l6.2-4.7l1.5 0.1l3.1 6.7M864.7 487.7l4.5-4.7l7 3.7l1-1l0.7-6.5l-6.4-2.4l-3 2.2l0.7 4M864.7 488l5.9 5.3M864.8 477.4l3.7 1.6M864.8 537.6l7.7-3l0.7-1.5M864.9 507.9l0.8 1.9M864.9 572.3l7.8 4.2l0 0.1l-0.1 0.5M864.9 645.3l6.1 0.2l4.2-3.2l-1.1-4.7l-5-2.4M864.9 678.3l8.6 17.8M865.1 570.6l4.7-4.7l4.7 4.3l-1.8 6.3M866.7 610.3l2.8-5.8l5 4.7l-1.4 4.2l-3.1 0.6M866.8 439.3l1.9-5.5l9.3 3.3l1.2 5.9l9-0.1l2.1 3.1l-5.1 7.6l-4.6-0.1l-1.4 1.1M867 581.6l1.8 4.2M867.9 418.4l0.9-5.2l12-1.8l0.6 8.9l7.5 0.3l3-4.5l-6.9-6.9l-1.2-0.3l-1.7 0.7l-1.3 1.8M867.9 661.6l4-4.6M868.2 547.1l4.5 3.6l3.9-2.8l-1.9-5.8l-5.5 1.7M868.3 617.4l3.2 5.3l7-4l0-0.3l-5.4-5M868.9 561.6l1.2 1.3l-0.3 3M869.1 555.8l3.5-2.6l0.1-2.5M869.3 603l0.2 1.5M869.3 707.8l28.8-5.6l0.8-7.2l-3.7-2.4l-1.7-8.2l-1.7-1.5l-17.8 12.4M869.5 519.7l4.1-3.2l5.8 3.5l-1.8 5.3M869.6 626.5l0.4-0.3l1.5-3.5M870 626.2l7.1 2.9l4.7-2.9l-0.9-5l-2.4-2.5M870.1 562.9l5.3-1.4l4.8 5.7l0.9-0.4l3.1-6.6l-6.5-2.6l-2.3 3.9M870.4 445.7l8.3-2l1.9 9.8M870.9 397.8l11.2 11.8M871 645.5l1.4 7.5M871 669.3l6.6-3.4l5.9 7.7l-0.4 1.9l-5.8 3.9M871.5 476.8l0.9-5.4M871.5 601.1l4.9-0.3l3.9-6.7l2.5 0.5l4.4-4.4l-1.4-6.5l-4.1-0.2l-1.7 1.2l0.1 9.1l0.2 0.3M872.1 493.4l3.6-4.2l7.5 5.2l0.1 0.3M872.5 534.6l2.8 6.3l5.9-0.8l1.7-4l-5.4-5.1M872.6 553.2l5 3.8l4.5-6.4l-0.6-1.6l2.3-4.1l-2.6-4.8M872.7 576.6l7.5-0.2l1.5 7.1M873.6 510.3l0.9 0.9l6.4-0.9l2.2 5l-1.5 3.7l-2.2 1M873.6 516.5l0.9-5.3M873.8 592l6.3 1.8M874.1 637.6l2.8-2.7l0.2-5.8M874.5 570.2l4.8-1.7l1.9 6.7l5.8-0.5l-0.2-6l2.9-2.1l6.2 0.9l0 7.6l-8.1 0.3l-0.8-0.7M874.5 609.2l6.3-1.9l1.4 5l-3.7 6.1M874.7 542.1l0.6-1.2M875.2 642.3l3.6 1.9l-0.5 6.9M875.4 584.1l4.6 0.6M875.7 489.2l0.5-2.5M876.4 469l3.7 5l6.4-2.1l0.6-6.1l-0.6-0.8l-7.6-0.9M876.4 600.8l4.7 5.7l-0.3 0.8M876.6 547.9l4.9 1.1M876.9 634.9l6.2 0.2l2.2-2.2l5.8 2.6l-2.7 5.8l-4.6 0.2l-0.7-6.4M877.2 424.5l1.4 0l2.8-4.2M877.2 485.7l7.6 0.1l1.3-5.7l-6.5-2.4l0.5-3.7M877.6 557l0.1 0.6M877.6 665.9l1.6-3.7l-0.2-0.7M877.9 479.2l1.7-1.5M878 437.1l5.2-6l6.2 6.3l6.5-3.1l4.4 5.7l7.8-2.3l2.6 11.1l-2.3 0.7l-9.8-3.6l-2.5 1.7l0.9 9l1.8 1.9l4.5-1.1l5.1-7.9M878.6 424.5l4.6 6.3l8.3-4.6l5.9 1.9l-1.5 6.2M878.6 528l8.3-1.3l-0.1-3.4l-5.2-4.3M878.7 443.7l0.5-0.7M878.8 644.2l2.6-0.5l6.5 7.5l-0.6 1.8l-5 1.8M879.2 662.2l8.2 1.7l2.8 4.8l0.4 0.1l7.4-3.6l-1.8-6.8l-5.8-0.9l-3 6.4M879.3 568.5l0.9-1.3M880.2 576.4l1-1.2M880.9 510.3l2.8-4.3M880.9 621.2l8.6-2.3l0.7-4.8l-8-1.8M881.1 566.8l5.7 1.9M881.1 606.5l2.6-1.6l5.8 1.2l2.9-3.9l-2.5-4.1l-4.5-0.5l-1.7 7.3M881.4 643.7l2.4-2.2M881.8 626.2l2.9 2.1l0.6 4.6M882.1 550.6l5.3 3.6l5.4-4l0.5-0.1l2.6-3.8l-0.7-5.8l8.6-1.1l-0.8 7.3l5.5 1.1l4-6.3l-6.6-4.3l-2.1 2.2M882.8 594.6l2.6 3M882.9 536.1l3-0.8l2.6-6.8l-1.6-1.8M883.1 515.3l5.9 0l1.4-6l4.5 0l3.9 5l-4.3 4.6l-3-0.4l-2.5-3.2M883.1 675.5l8.7 7.3l0 0.1M883.2 430.8l0 0.3M883.2 494.4l3.5-6.4l3.4 0.4l1.4 5.6l-3.5 3M883.5 673.6l6.7-4.9M883.8 408.9l1.7-13.8l7.6 4.3l6-3.8l0.2-5.5l8.9 0.7l2.5-3.6l7.2-1l2.8 3.3l6.8-0.6l2.4-2.1l-2.5-9.4l10.6-2.8l-1.3-4.7l-5.8-3.8l-7.4 5.5l-0.2 3.8l4.1 2M883.8 544.9l3.5-0.5l3.7-5.3l-5.1-3.8M884.2 560.2l2.9-1.2l2.6 7.6M884.7 628.3l4.5-1.9l1.2-6l-0.9-1.5M884.8 485.8l1.9 2.2M885 409.2l9.4-4l3.5 2.1l0.7 2.8l7.9 3l0.5 5.9l-6.6 3.5l-1.6 4.8l9.2 4.3l1.3 4.2l-1.2 1.9M885.2 453.6l3.4 4l-2.1 7.4M885.8 583.7l1-0.7l7.5 0.8l-2.4 7.2l-4.7-0.8M886.1 480.1l1.8-1.2l1.1-3.6l7.1-1.4l0.7 0.3l5-7.2l-3.3-5l-6 4.4l3.6 7.5M886.5 471.9l2.5 3.4M886.5 505.6l3.9 3.7M886.8 523.3l4.7-4.8M886.8 583l1-7.6M887.1 465.8l5.4 0.6M887.1 559l0.2-0.3l8.6 1l-0.1-6.9l-2.5-2.7M887.3 544.4l5.5 5.8M887.3 558.7l0.1-4.5M887.3 653l3.1 4.5M887.9 478.9l6.3 4.7l3.3-8.4l-0.7-1M887.9 651.2l0.6-0.5l2.2-6.8l4.8-0.5l1.9 3.6l5.7 0l-0.1-8l8.2 2.4l-4.6 7l7.8 4.5l2-5.1l-4.2-6.7l-1 0.3M888.2 442.9l1.2-5.5M888.4 641.3l2.3 2.6M888.5 528.5l1.2 0.1l6.9-4.4l2.7 1.5l-1.2 6.5l-2.9 1.4l-5.5-5M888.5 650.7l7.4-0.7l2.6 5.6l4.2-0.8l2.2-6.1l1.7-0.3M888.6 457.6l8.4-1M888.6 720.4l11.9-9.5l9.4 4.1l-4.2 6l-17.1-0.6M888.9 420.6l2.6 5.6M889.2 501.7l5.4-0.6l2.4-5.3l-5.5-1.8M889.2 626.4l5.9 3.2l-1.1 5l3.8 3.7l4.4-0.1l1.8-3.5l-2.3-6.6l-3.9-0.6l-2.7 2.1M889.5 606.1l2.5 6.3l-1.8 1.7M889.9 598.1l3.6-4.7l6.4 1.2l0.3-0.3l7.9-0.4l1.1 3l-2.1 7.1l1.1 1.1l6.8-0.3l2.3-3.3l0-0.7l-8.1-3.9M890.1 488.4l4.6-2.9l4.2 1.8l4.6-2l1.6-3l7.4 1.4l4.1-5.7l-1.7-2.3l-8.4 0.7l0.2-8.1l2.1-1.4l0.8-5.6l8-4.9l1.1 0.5l2.4 4.3l-2.5 6.3l-3.1 2l-6.7-2.6M890.3 446l5.8 1.6M890.4 620.4l6.4 1.7l2.9-4.1l2.1-0.4l2.5-3.5l4.7-0.9l3.7 1.7l3.9-2.1l-1.6-8M890.6 668.8l4.3 7.8l8.7-2.6l1.8 1.2l8.1-7.7l3.3 0.2l2.6-8.3l15.2 6.9l-14 5.5l-3.8-4.1M891 539.1l2.5-0.2l1.7-5.3M891.1 635.5l2.9-0.9M891.8 682.8l3.1-6.2M891.9 416.1l3.6-0.5l3.1-5.5M891.9 591l1.6 2.4M892 612.4l1-0.1l6.5-5l4.8 6.8M892.4 602.2l6.4 0.2l1.1-7.8M893 612.3l6.7 5.7M893.1 399.4l1.3 5.8M893.5 538.9l1.7 1.6M893.5 684.4l11.9 0l-2 8.6l8 5.2l2.8-1.6l-1.8-9.9l-5.8-3.4l-1.2 1.1M894.2 483.6l0.5 1.9M894.3 583.8l1.6-0.9l0.5-7.2l9-0.2l0.7 7.9l-0.1 0.2l-6.5 1.6l-3.6-2.3M894.5 518.9l2.1 5.3M894.6 501.1l2.6 3.7l-2.3 4.5M895.5 415.6l4.9 6.9M895.5 643.4l2.3-5.1M895.8 552.8l6.3 0l0.8-6.1l0.1 0M895.9 546.3l7 0.4M895.9 559.7l1.5 1.8l8-4.8l0.3 0l4.5-2.4l4.8 3.9l-2.6 7.6l-4.5-1.7l-2.2-7.4M895.9 567.5l1.5-1.8l6.2 1.3l4.3-2.9M895.9 575.1l0.5 0.6M895.9 650l1.5-3M896.2 658.4l2.3-2.8M896.8 622.1l1 5.4M897 495.8l1.5-0.8l0.4-7.7M897.2 504.8l4.6-0.5l2.7 4.2l-5.2 5.8l-0.5 0M897.4 428.1l1.4-0.8M897.4 561.5l0 4.2M897.5 475.2l7.2 3.1l1.8-1.9M897.9 407.3l6.9-6.1l4.2 0l2.1 7l6.4 2.7l4.6-2.3l1.3-6.5l-4.6-4.8l-8.3 2l-1.5 1.9M898 665.2l3 1.3l2.6 7.5M898.1 532.2l7.7 4.2l0.1 0.8M898.1 702.2l2.5 2.3l-0.1 6.4M898.5 462l0.3-3.5M898.5 495l1.4 0.7l3 6l-1.1 2.6M898.6 445.9l1.7-5.9M898.8 602.4l1.4 2.1l6.9-0.5M898.9 695l4.5-2M899.1 395.6l5.7 5.6M899.3 514.3l4.9 3.7l-2.8 7.2l7.5 3.5l1.1-7.2l4.8-2.2l4.7 2.9l0.2 0l4.3 2.4l-0.5 8l-0.3 0.4l-5.6 0.3l-4.3-3.8l6.2-7.3M899.3 525.7l2.1-0.5M899.5 585.2l0.7 9.1M899.5 607.3l0.7-2.8M899.9 495.7l6.7-1.4l1.1-3.4l7.8-1.1l0.3 0.2l-0.5 5.1l-6.1 3.4l-2.6-4.2M900.6 704.5l9.3-2.1l3 7.6l-2.5 4.8l6.4 5.8l5.8-2.2l2.5-5.9l-0.9-2.8l-1.7-1.3l-9.6 1.6M901 666.5l6.6-5l5.9 6M901.7 628.1l5.1-3.4l-5-7.1M901.8 467l4.9 1.3M902.1 552.8l3.3 3.9M902.2 638.2l0.8 0.8M902.7 654.8l5.2 4.7l6.7-5l4.2 2.7l0.6 2.2M902.9 501.7l6-1.9l2.1 3.4l-3 5.7l2.4 3l3.5 0.8l0.9 6.6M903.1 647l1.8 1.7M903.3 457.4l6.3 3.9M903.5 485.3l4.2 5.6M903.6 567l2.4 7.9l6.6-1.4l1.3-5.7l5.8-1.1l3.3 4.3l3.7 0l3.3 5.6l-1.4 1.3l-8.1 0.1l-0.7-0.6l3.2-6.4M904 634.7l5-1.5l5.4 4.3l0.7-0.4l2.2-3.2l20.2-0.3M904.2 518l1.9-0.1l3.9 3.6M904.5 508.5l3.5 0.4M904.7 478.3l0.4 4M905.4 575.5l0.6-0.6M905.4 675.2l1.6 3.4l12.8-2.1l0.8-4.7M905.7 721l1.3 5.7l2.7 1.4l1.1 7.1l9.1 0.7l0.6-5.9l8.3-4.5l0.1 0.1l3.2 7.3l-2.4 5.1l-9.6-1.8l-0.2-0.3M905.8 536.4l3.3-7.2l4.2 0.3M906 583.6l2.5 9.6l-0.4 0.7M906.1 517.9l4.3-6M906.1 583.4l7-0.5l2.2 4l-1.4 3.9l-5.4 2.4M906.5 413.1l4.6-4.9M906.6 683.3l0.4-4.7M906.8 624.7l2.2 0.2l3.6-4.9l0.1-5.1M907 419l3.1 1.6l7-4l4.7 5l-4.8 5l-5-1l-1.9-5M907.2 312l44 32.9l2-0.4l5.4-9.4l0.9-0.1l7-11.9l1.7 0.1l8.1 11l-0.1 5.7l-11.9-0.9l-4.8-4M907.6 661.5l0.3-2M908 431.6l4-6M908.2 390.8l2.3 8.5M908.2 605.1l0.8 8.1M908.5 547.8l2.2 5.1l5.8-3.4l3.8 3.2l-1 5.1l-4.3 0.4M908.9 499.8l0.3-1.3M908.9 528.7l0.2 0.5M909 624.9l0.9 1.4l6.8 3l0.6 4.6M909 633.2l0.9-6.9M909.3 435.8l8.5 0.6l0.7 7.5l-5 5.8l4.1 6.7M909.7 728.1l6.7-2.6l0.4-4.9M909.9 702.4l1.5-4.2M909.9 715l0.5-0.2M910.2 554.3l0.5-1.4M910.7 448.8l2.8 0.9M911 503.2l7.2 0.6l0.5 6.2l4.3 2.4l-3.3 9.8M911.9 375.1l6.9 3.3l4.5-3M912.2 641.1l2.2-3.6M912.4 565.8l1.5 2M912.4 686.7l8.4-2.8l1.8 4.2l-5.2 8.6l4.6 3.3l6-2.5l1.6-6.4l-7-3M912.5 483.7l3 6.1M912.5 541.5l1.6 0l2.9 2.2l-0.5 5.8M912.6 573.5l2.9 3.5l4.3 0.4M912.6 620l6.2 2.9l5.3-5.6l0.1 0.1l6.7 11.1l-11.5-2.2l-0.6-3.4M913.1 582.9l2.4-5.9M913.9 512.7l4.8-2.7M913.9 590.8l6.3 4.8l-2.9 5.2M914.1 541.5l3.5-8.2M914.2 696.6l3.2 0.1M914.4 652.9l0.2 1.6M914.9 475.7l0.6-6.2M915.1 637.1l10.9 7.3l-9.6 3.4M915.3 495.1l4.6 6.2l2.6-0.9l2.8-4.6l5.8 0.6l2.1 6.7l-2.9 3.2l-7.8-5.9M915.3 586.9l6.9-1.1l0.8 0.5l-0.3 8.4l4.9 1.8l3.5-7.7l7.1 3.1l0.1 0.7l3.2 3.3l-1.2 5.1l-7.5 0.7l-1.6-2.5l7.1-6.6M915.8 490l0.6-0.2l5.3-6.1l4 0.3l2.2 2.9l-3.4 6.3l-8.1-3.4M916.4 725.5l4.1 4.5M916.6 478l1.1 0.3l6.9-4.1l2.6 6.2l-1.5 3.6M916.6 612.8l4.8 0.3l2.8-4.5l-1-3.4l5.4-7.2l-1-1.5M916.7 629.3l2.7-3M917 426.6l3.3 7.7l4.5-0.5l4.3 4.3l0.2 3.2l-4.2 3.9l-6.6-1.3M917 543.7l6.9-0.9l0.9-1.6l-1.6-8.2M917.1 416.6l0.4-5.7M917.3 601.5l5.9 3.7M917.7 478.3l4 5.4M917.8 436.4l2.5-2.1M917.9 386.2l0.9-7.8M918.2 503.8l1.7-2.5M918.4 744l1.7-7.8M918.4 744l9.3 4.8l0.5 1.3l11 0.5l1.9 3.9l4.9 1.8l2.1 4.2l-4.4 7.6M918.6 467.5l6.2 6l-0.2 0.7M918.7 456.9l7.1-5.5l-0.7-6.2M918.8 397.3l1.9-7.8M918.8 657.2l20.4-12M919.3 557.8l2.2 2l0.4 3.5l-2.2 3.4M919.5 366.3l4 5.3M919.8 676.5l1.9 4.1l9.6-0.3l3 5.3l44.8-10.9M920.2 595.6l2.5-0.9M920.3 552.7l5.1-2.2l2.6 6.5l3.1 1.3l2.9-1.1l1.6-2.5l-2.6-6.1l-6.5-0.3l-1.1 2.2M920.5 578l1.7 7.8M920.7 767.4l7.5-17.3M920.8 683.9l0.9-3.3M921.1 461.2l5.7 1.4l3.7 7.6l1.1 0.3l5.2-1.4l2-9.1l-3.9-3l-8.1 5.6M921.4 613.1l2.7 4.2M921.5 559.8l6.5-2.8M921.8 421.6l3.2 0.1l2.8 5.5l8-0.1l0.1-8l-8-1.3l-2.9 3.9M921.9 563.3l7.4 1.8l0.5 1.1l-3.1 4.8M922 700l0.5 8.4M922.1 408.6l5.1 3.8l8.2-4l2.6 8.7l8 0.6l1.3-2.7l11.3-1l1.8-2l-8.9-7.7l-5.1 3.3l0.9 7.4M922.6 718.4l6.2 7.1M923 512.4l2-0.1l5.1-4.4l0.2-1.6M923 586.3l4.7-0.9l2.7 1.6l0.7 1.8M923.4 402.1l6.2-1.7l1.4-2.9l10.1-3.3l0 10.9l-5.3 2.3l-6.2-7M923.5 532.6l6.8 0l3.1-4.4l-4.3-5.5l-5.1 1.9M923.9 542.8l2.6 5.5M924.2 608.6l7.3-0.3M924.2 617.4l7.2-2.5M924.2 709.7l10.2-5.4l1.3 1.1l7.8-1l3.8 5l-0.4 3.7l2.3 4.2l-0.1 1.3l3.1 6.5l0.4 0.3l1.7 6.8l5 4.2l-1.6 6.3l-5.9 2.7l-0.2 6l6.9 3.5l5.3-5.7l-6.1-6.5M924.5 493.2l0.8 2.6M924.8 433.8l3-6.6M924.8 473.5l5.7-3.3M924.8 541.2l9-2l0-0.2l-3.5-6.4M925 512.3l5.3 8l3.7-1.8l0.1-7.2l-4-3.4M925.1 712.5l9.3 4.2l2.7-3.8l9.8 0.2M925.8 451.4l8.3 1.9l2.8-5.9l-7.6-6.1M926.9 346.4l4 19.7M927.2 412.4l0.7 5.4M927.2 480.4l5.7-2.1l-1.3-7.8M927.5 388.9l3.5 8.6M927.7 585.4l0.9-7.5M927.7 748.8l2.8-9.2l6.9 1.9l2.3 7.3l-0.5 1.8M927.9 486.9l3.8 0.6l1.7 6.5l5.9 0.7l2.1-7.7l-6.2-1.5l-3.5 2M928 697.5l6 4.9l0.4 1.9M928.6 598l2.6 1.2M928.9 725.6l6-4.6l-0.5-4.3M929.1 438.1l6.9-3.3l6.7 5.4l-3.7 6.2l-2.1 1M929.1 522.7l1.2-2.4M929.3 565.1l1.8-6.8M929.6 691.1l3.4-1.8l1.3-3.7M929.7 738l0.8 1.6M929.8 566.2l6.6 2.4l0.3 1.1l-3.3 6.7l-3.4 0.2M929.9 386.8l4.3-0.3l7.1 7.5l-0.2 0.2M930.4 587l7.3-5.7l3.8 4.8l2.8 0l4.5-5.4l10.3 6.6l-11.7 1.8l-3.1-3M931.1 496.4l2.3-2.4M931.3 680.3l5.3-14.2M932.1 732.9l8.6-1l0.4-1.5l11.1-5.3M932.8 601.7l0 5.5M932.9 478.3l1.5 1l5.2-1.9l1.1-5.5l4.5-0.6l2.9 7.4l-5.2 2.7l-1.3 5.4l7.9 2.4l1.4-0.9l0.8-3.6l-3.4-5.9l-0.2-0.1M933 548.6l3.2-5.1l-2.4-4.3M933 689.3l6 5.9l7.5-0.3l-3 9.5M933.2 503.1l4.2-0.6l2.3-7.2l7.3 2.4l-1.1 6.3l-3.8 1.9l-4.7-3.4M933.4 528.2l1.4 0.2l4.8 5.1l-5.8 5.5M933.4 576.4l4.3 4.9l7.9-7.1l2.7 1.1l0.5 5.4M934 518.5l2.7 0.6l3.2 4.6l3.7 0.8l3.1-4.7l-2.6-5.1l-1.2-0.7l-6.2 5.1M934 557.2l4.7 7.1l-2.3 4.3M934 702.4l5-7.2M934.1 453.3l0.8 3.7M934.1 511.3l6.9-0.8l1.1-4.6M934.2 386.5l5.6-8.3l-0.7-2.6l9.8-4.3l4.5 5.7l4.8-1.3l3.4-8.1l-11.3-1.6l-1.4 5.3M934.3 763.2l6.8-8.7M934.4 479.3l0.8 6.2M934.8 528.4l5.1-4.7M934.9 721l3 1.6l11.2-4M935.4 408.4l0.4-1M935.6 554.7l5.7-0.8l0.9 0.5l6.5-1.2l0.6-4.5l-6.7-4.7l2.3-3.6l4.6-1.2l4.5 3.4l4.8-6.2l-1.4-3.1l-6.4-0.7l-1.5 6.6M935.7 705.4l1.4 7.5M935.8 427.1l1.1 1l5.4-0.4l4.1 3.5l4.6-2l5.3 3l0 5.1l-9.7 2.1l-1-0.4l0.8-7.8M935.9 419.1l2.1-2M936 434.8l0.9-6.7M936.2 543.5l5.7 0.9l0.7-0.4M936.7 369.9l6.1-8.5l6.7 3l5.1-8.2l-6.4-4.4l3-6.9M936.7 569.7l8.3 3.6l0.6 0.9M936.8 469.1l3.9 2.8M937.4 741.5l5.2-5.3l3.4 1.5l8.3-5.5M937.9 722.6l3.2 7.8M938 374.6l1.1 1M938.2 591.9l3.3-5.8M938.7 564.3l5.1-1.7l2.3 0.9l-1.1 9.8M938.8 460l5.2-0.3l4.7-6.5l-9.7-6.8M939.3 494.7l0.4 0.6M939.6 477.4l3.3 4M939.6 533.5l1.4 0l3.9 6.9M939.7 748.8l8.4-5.3l3.7 1.9M939.8 378.2l5.4 4.6l0.5 9.3l5.7 1.7l5.3-6.4l-4.4-7.4l-7.1 2.8M940.7 731.9l1.9 4.3M941 510.5l1.9 3.5M941 533.5l4.5-4.3l3.9 1.2l1.6 2.2M941.1 405.1l5.3 2.5M941.3 394l4.4-1.9M941.3 553.9l0.6-9.5M941.4 487l0.2-0.2M941.5 595.9l5.7-0.5l0.2-6.3M942.2 554.4l1.6 8.2M942.3 427.7l3.9-9.2l-0.2-0.8M942.7 440.2l2.9-1.2M943.6 524.5l1.9 4.7M944 459.7l5.3 7.2l-0.2 0.7l6.3 7.6l0.4 0.1l1.1-0.5l3.2-7.1l-5.4-3.5l-5.4 2.7M944.1 514.7l6.3-3.6l3.9 5.3l1.6-0.2l2.7-6.3l-2.2-3.9l-0.9-0.3l-4.3 1.5l-0.8 3.9M945.2 471.3l3.9-3.7M945.9 504l5.3 3.2M946 737.7l2.1 5.8M946 756.3l5.6-4.9M946.1 563.5l4.6-1l2.9 4.1l-2 7.2l-3.3 1.5M946.2 418.5l5.8 4.7l5.6-1.3l5.2 5l5.2 0.4l3.8-8.7l9 0l6-8.1l4.3-0.7l4.6 13l-10.3 3.9l-4.6-8.1M946.6 439.4l6.4 10.2l-1.4 2.6l-2.9 1M946.7 519.8l4 0.1l3.6-3.5M947 497.7l1.7-1.3l6 2.1l0.8 7.2M948.1 760.5l6.3 2.2l5.7 61.5M948.3 478.8l7.1-3.6M948.7 496.4l0.8-7.2M948.7 553.2l4.3 4l6-6.5l-2-4.5l-2.4-1.5l-5.3 4M949.4 530.4l4.1-5.3l5.3 0.2l0.3-0.4l-0.9-7.1l5.5-1.3l3 3.3l-0.4 2.7l-7.2 2.4M949.5 364.4l0.8 1.6M950.7 519.9l2.8 5.2M950.7 562.5l2.3-5.1l8.1 3.3l5.2-3.4l0.7 0.5l1.2 10l0.4 0.1l7.8-4l-4.7-5.9l6.2-6l11.5 15.5M950.9 488.3l8.2 2.4l0.8 4.2l4.2 2.7l3.5-0.6l2.4-4.7l-4.1-5.1l-4.1-0.2l-2.7 3.7M951 429.2l1-6M951.4 393.8l2.3 4.1l-2.2 6.4M951.6 452.2l4.8 6.2l-1.7 5.8M951.6 573.8l6.3 2.4l4.9-6.5l1.5 0.1l13.2 29.9M951.7 484.7l4.8-3.2l4.3 2.2l1 3.3M952.3 380l1.1-3M953 449.6l2.4-1.3l3.5-8.4l-2.6-2.6M953 557.2l0 0.2M953.2 344.5l6.9 5.3l-4.5 6.2l10.1 9.3l0.8-0.1l0.9 0.9l16.1 1.6l-4.8-16.6l-1.4-1l-6.6 3.8l-4.2 11.3M953.6 566.6l6.5 0.1l2.7 3M953.7 397.9l8.7 1.5l3.6-13.7l1.6-1.2l1.5-0.3l7.7 13.7l-1.2 3.4l-0.5 0.4l-12.4-2l-0.3-0.3M954 542.6l0.6 2.1M954.4 762.7l4.2-3.1l-0.1-4.7M954.6 356.2l1-0.2M954.7 498.5l5.2-3.6M955.4 448.3l10 2.6l3.5-2.2l4 2.9l0.4 8.8l-7.3 1.8l-3.2-4.3l2.6-7M955.8 475.3l0.7 6.2M955.9 516.2l2.3 1.6M956.3 432.2l6.5-5.3M956.4 458.4l6.4-0.5M956.4 506l6.2-2.9l4.6 5.2l5.8-4.2l3.6 8.5l-3.3 3.3l-6.4-6.3l0.3-1.3M956.7 387.4l9.3-1.7M956.9 474.8l6.8 1.9l3.7-5.5l2.3 0.4l4.6 6.2l6.6-6.9l-4.6-4.7l-6.6 5.4M957 546.2l7.4-4.6l-1.4-3.6l4.2-5.1l5.7 4.8l-0.8 3.1l-6.4 1.6l-1.3-0.8M957.4 533.3l2.4-4l-1-4M957.6 421.9l1-7.9M958.2 375.7l9.4 8.8M958.6 509.9l5.8 1.6l-0.7 5M958.8 536.4l4.2 1.6M958.9 439.9l7.5 0l2.9-10.1l-1.3-2.5M959 550.7l5.9 1.9l1.4 4.7M959.8 529.3l7.3 1.9l2.5-3.8l-3.3-4.9M960.1 349.8l1-0.2l9.6 4.3M960.1 467.7l4.4-0.6l2.9 4.1M960.1 566.7l1-6M960.4 412l0.6-0.2l8.2 2.2l2.6 4.6M960.8 483.7l3.3-5.3l6.4 3.6l1.3-0.3l2.6-3.3l7.2 2.9l2.7-3.9l-2.2-6.3l-1.2-0.2M961 411.8l1.7-12.1M961.1 349.6l3.2-10.6M961.6 367.6l4.1-2.3M962.6 503.1l1.5-5.5M963.7 476.7l0.4 1.7M964.3 569.8l3.9-2M964.4 511.5l2.5-1.9M964.5 467.1l1.5-4.9M964.9 552.6l1.8-2.5l9.3-2.3l1.9 3.5l0 0.7M965.7 542.4l1 7.7M965.9 487.2l4.6-5.2M966.4 439.9l2.4 3.7l10.8-3.4l0.3-7.1l4.6-3l0.9-3.4M966.7 519.8l6.5-3.3l0.1-0.6M967 557.8l4.7 0.2M967.1 531.2l0.1 1.7M967.4 366.1l3.7 15.8l10.5-2.7l3.6-8.7l10.5 2.7l3.2 9l-2.1 2.9l2.5 9.9l10.3 2.9l4.1-10.9l-6.6-5.6l-8.2 0.8M967.6 497l6.1 5.6l3.4-1.3l5.7 2.3l0.2 8.3l1.7 1.7l7.7-3.9l5.5 6.2l0.1 0l30.7-16.1l-35.6 5.8l-0.7 4.1M968.2 323.2l9.2-7.5l9 6.7l8.9-7.8l0.1-22.3l20.2 17.2l11.6-6.8l-1.3-18.6l17.2-2.1l1.8 1.6l19.1 2.2l3.5-22.5l-21.2-0.1l-3.2 18.8M968.8 443.6l0.1 5.1M969.1 384.2l2-2.3M969.2 414l5.9-12.3M969.3 429.8l10.6 3.3M969.6 527.4l1.8-0.1l5-5.8l-3.2-5M970 492.3l5.6-2l2.7 3.7l7-0.6l-1.2-7.8l-1.5-0.9l-6.8 4.7l-0.2 0.9M971.4 527.3l5.3 3.9l3.9-3.8l-2.7-5.6l-1.5-0.3M971.8 481.7l4 7.7M972.1 540.8l4 6.2l5.5-4.7l7.6 3.8l1.1-0.7l25.5 11.3M972.9 451.6l9.9-1.6l3.2 6.3l11.3-3.7l4 3.8l-5.3 7.5l0.7 3l-2.1 3.6l2.7 5.1l-5.2 5l0.4 3.6l0.4 0.5l63.9 4.7M972.9 537.7l4.3-2.7l-0.5-3.8M973 504.1l0.7-1.5M973.3 460.4l2.8 2.1l0.2 3.7M974.3 477.8l0.1 0.6M975.6 401.3l11.2 9.2M976 547.8l0.1-0.8M976.1 462.5l9.5-4.2l1.8 3.2l-1.3 7.3l-4 2.3M976.2 339.9l1 1.4l16.1-3.5l2.3-4.2l-9-9.4l-10.3 10M976.6 512.6l6.4-0.7M976.8 397.9l7.9-4.1l8.6 5.5l6-4.3M977.1 501.3l1.2-7.3M977.2 341.3l0.1 8.8M977.2 535l4.4 1.8l4.7-2.3l-2.8-6.7l2.8-3.1l-2.7-5.7l1.5-3.5l7.1 3.5l-0.9 6.2l-5-0.5M977.9 521.8l5.7-2.8M977.9 551.3l10.3-2.8l3.3 20.4M978.7 351.1l17.1 1.6l-0.2 4l7.1 10.2l7.1 0.7l3.1-5.5l-1.7-9.7l-3.3-2.7l-11.4 2.1l-0.7 0.9M979.6 440.2l4.4 5.5l3.4-1.4l9.4 3.6l3.4-5.3l-8.1-6.4l-0.4 0l-4.3 8.1M980.6 527.4l2.9 0.4M981.6 379.2l5 6.5l10.2-0.6M981.6 481.3l1 3.4M981.6 536.8l0 5.5M982.8 450l1.2-4.3M982.8 503.6l4.4-2.3l3.1 0.9l6.1-6.7M983.5 367.7l1.1 1l0.6 1.8M984.1 485.6l8.4-1.4M984.3 477.4l5.2 0.3l1.1-6.2l-4.5-2.7M984.5 430.1l7.2 6.1M984.6 368.7l11-12M984.7 393.8l1.9-8.1M984.7 513.6l0.4 1.9M985.3 493.4l1.1 0.8l5.7-2.6l0.8-6.9M985.6 458.3l0.4-2M986.3 534.5l1.3 0.2l5.2-4l5.7 5l4.5-3.5M986.4 322.4l0.2 1.8M986.4 494.2l0.8 7.1M987.4 461.5l8.6 2.4M987.6 534.7l3.7 6.9l7-3.1l0.2-2.8M988.2 548.5l1-2.4M989.5 477.7l2.6 2.9M990.3 502.2l2.8 3.4M990.3 545.4l1-3.8M990.6 471.5l4-1M991.1 409.8l1.1-1l12.2 1l-0.1 11.2l20.5 5.1l-15.6-19.8l-4.8 3.5M991.3 525.2l2.1 2.4l-0.6 3.1M992.1 436.2l7.6-7l-0.6-4.9l-3.4-1.5M992.2 408.8l1.1-9.5M992.2 519l5.7-3.1M993.3 337.8l3.2 14M993.4 527.6l6.2-2.2M995.3 314.6l11.6 9.5l8.4-3.3l11 8l-3.7 7.3l-13.3 5.2l-7.2-9.7l4.8-7.5M995.6 333.6l6.5-2M995.7 373.2l7-6.3M996.8 447.9l0.5 4.7M998 515.9l2.1 8.7M999.1 424.3l5.2-3.3M999.7 429.2l4.7 4.7l25.6-4.6M1000.2 442.6l2.2-0.9l34 18.2M1002.4 441.7l2-7.8M1007.1 381.4l2.9-13.3l11 7.3l-2.8 9.9l8.7 4.2l-3.7 12.6l36.4 37.1M1007.9 349.7l1.4-8.4M1009.2 406.3l1.8-5.3l12.2 1.1M1009.6 397.9l1.4 3.1M1009.8 367.6l0.2 0.5M1011.2 352.4l12.7-3.7l-1.3-12.6M1012.9 362.1l16.6-0.3l0.2 0.5l13.8 3.6l5.5-2.7l6.7 6.6l-0.7 17.1l-13.6-10.7l-7.5 2.5l-1.5 9.5l31.5 22.2M1013.7 387l4.5-1.7M1015.3 320.8l0.3-11.3M1021 375.4l6.6-3.3l6.3 6.6M1023.9 348.7l6.2 5l8-5.2l1.7 0.1l9.7 12M1026.3 328.8l1.8-0.2l11.4-19.7l5.9-1.1l-0.5-24.2M1026.9 389.5l5.5-1.3M1027.2 302.7l12.3 6.2M1027.6 372.1l2.1-9.8M1028.1 328.6l4.7 2.4l16.1-0.2l4.9-15.9l-2.1-4.1l14.8-14.1l-0.3-8.5l-2.2-2.4M1029.5 361.8l0.6-8.1M1032.8 331l5.3 17.5M1039.8 348.6l14.4-9.4l-5.3-8.4M1041.4 376.2l2.1-10.3M1042.5 258l3.8 5.2M1045.4 307.8l6.3 3" fill="none" stroke="#33330f" stroke-opacity="0.33" stroke-width="0.6"/></g>
<g clip-path="url(#us)"><path d="M343.3 234L331 288.6L330.7 298.2M227.9 265.5L236.3 269.1L241.5 272.9L242.9 279.1L242.5 283.5L248.5 287.5L261.3 287.2L266.7 290.9L276 291.6L290.5 290.4L299.8 290.9L330.7 298.2M330.7 298.2L334.6 310.3L329.7 318.2L326 324.1L318.8 331.5L320.9 336.5L319.7 345.2L317.5 349.2L309.8 383.7M196.1 353.5L216.7 359.6L237.3 365.5L258 371.1L278.8 376.4L299.6 381.3L320.5 386L341.5 390.5L362.5 394.6L383.6 398.4L404.8 401.9M263.1 372.4L246.5 436.6L317.6 543.6L317.8 548.2L320.2 556.5L323.2 560.5L316.8 566L313.4 574.3L309.1 578L311.1 586.7L306.2 592.7M357 393.5L332.7 519.6L320.3 519.4L320.8 533L317.6 543.6M336.1 502.2L359.8 506.5L383.5 510.6L407.3 514.2L431.1 517.6L455 520.5L478.9 523.2L502.9 525.5L526.9 527.4L550.9 529L575 530.2L599 531.1L623.1 531.6L647.1 531.8L671.2 531.6M433.8 428.6L404.5 640.4M357.4 237.1L352.8 258.3L355.4 271.1L366.9 290.2L371.8 292.3L365.7 315.6L373.9 313.8L378.4 331.4L385.2 346.1L406.7 345.3L413.4 347.9L401.3 423.7M401.3 423.7L419.5 426.5L437.8 429.1L456.1 431.5L474.5 433.7L492.8 435.6L511.2 437.3L529.6 438.8L548 440.1M415.2 336.7L433.1 339.4L450.9 341.9L468.9 344.2L486.8 346.3L504.8 348.2L522.8 349.8M530.2 262.8L515.3 437.7M524.5 329.3L543.5 330.8L562.5 332L581.6 333L600.6 333.7L619.7 334.2L638.7 334.4M519.1 393.7L536.7 395.1L554.4 396.2L572 397.2L589.7 398L607.4 398.6M607.4 398.6L616.9 402.1L628.1 402.3L636.1 407.9L640.1 410.1M548 440.1L542.4 528.5M546.6 462.2L565.3 463.3L584 464.1L602.8 464.8L621.5 465.2L640.2 465.4L658.9 465.3M526 527.3L525.2 538.4M524.3 538.3L542 539.5L559.7 540.6L577.5 541.4M577.5 541.4L575.7 584.3L589.7 592.8L600.5 594.2L609.4 595.5L625.6 603.6L636.4 601.4L650.9 601.5L661.7 599.2L674.8 605.9L682.8 607.7L683.6 641.9L688.2 652.8L693.1 661.5L690.6 672.6L690.9 683.6L688.2 692.4M524.3 538.3L516.9 637.5M516.9 637.5L500.5 636.2L484 634.7L467.6 633.1L451.1 631.3M451.1 631.3L452.3 636.3M670.5 485.1L671.4 542.7L675.1 567L674.8 605.9M670.5 485.1L665.7 478.6L662.3 467.5L658.9 465.3L651.4 452.1L649.7 438.8L645.7 427.8L641.6 416.7L640.1 410.1L637.7 396.9L640.2 388.1L640.3 348.5L634.2 341.9L638.7 334.4L638.2 326.6L635.2 313.4L634.6 298.2L630.3 285.1L629.4 267.7M651.1 452.1L667.7 452L684.4 451.7L701.1 451.2L717.7 450.5M717.7 450.5L723.1 455.1M640.2 388.1L656.7 388L673.3 387.8L689.8 387.5L706.4 386.9L722.9 386.2M671.4 542.7L690.9 542.3L710.4 541.7L729.9 540.8L749.4 539.7M749.4 539.7L746.2 551L757.9 550.3M683.1 619.4L700.6 619.1L718 618.7L735.5 618M706.1 315.5L703.6 329.9L695.6 341.1L697.6 355.3L697 359.7L705 366L711.4 369.1L722.1 378.5L722.9 386.2L725.4 397.1L724.9 403.7L733.3 407.7L741.1 418.3L739.8 425L727.4 436.8L729.4 443.3L723.1 455.1L722.2 463.6L724 467.9L736.6 482.8L745.4 488.9L745.8 495.6L743.6 502.4L751.7 508.5L759.5 521.3L766 527.5L765.8 536.4L760.7 539L757.9 550.3L755.1 561.5L752.2 570.6L748.7 573L744 584.4L737.5 595.8L735.5 611.4L735.5 618L737.4 629L741.3 633.2L732.8 649L729.7 662.4M729.7 662.4L747.2 661.5L764.7 660.4M764.7 660.4L764 669.3L768.3 677.8M766 527.5L777.1 524.5L783.2 515.1L783.5 508.4L791 505.5L799.8 506.9L806.4 504.1L812.7 499L819.8 500.5L822.5 493.5L826.6 484.2L834.7 481L835.3 474.2L840.6 473.6L846.5 479.6L855.3 481.8L866.9 479.1L874.4 483.7L880.7 479.4L882.7 470.1L886.2 465.1L891.4 459.9L899.4 451.9L900.1 440.6L900.4 431.6L901.5 430.5M783.5 508.4L784.3 497.2L791.1 487.7L787.8 479.1L789.4 473.4L784.6 420.3M733.3 407.7L748.5 406.8L763.7 405.7L778.8 404.4M790 419.9L809.3 417.9L828.7 415.8M828.9 417.1L850.5 413.7M828.5 417.1L835.3 474.2M760.7 539L785.9 537.1L785.6 533.1M785.6 533.1L804.6 531.8L823.6 530.4L842.6 528.7L861.5 526.8M861.5 526.8L878.8 524.5L896.1 522.1M896.1 522.1L896.1 522.3L896.1 522.4L896.2 522.6L896.2 522.8L896.2 523L916.1 519.8L936 516.4L955.9 512.8L975.7 508.9L995.4 504.8M861.5 526.8L873.9 517.3L883.1 508.1L888 502L881.9 499.4L875.3 489.8L874.4 483.7M888 502L902.1 506.4L916.5 498.4L923.4 472.6L931.3 473.4L936 465.8L941.8 451.2L951.6 455.5L952.6 451L943.1 444.2L933.6 448.3L923.9 459L922 447.6M895.5 393.8L904.8 450.6M904.8 450.6L924.3 447.2L943.7 443.7L963.1 439.9L982.5 435.8M907.8 392.9L908.8 398.8M908.8 398.8L926.3 395.6L943.9 392.3L961.3 388.8L978.8 385M978.8 385L985.5 392.6L992.2 396.5L988 407.9L987.9 414.7L997.1 421.7L992.9 429.4L988.5 432.7L987 437.5M992.2 396.5L1006.7 401.3M982.5 435.8L988.4 463.3L1000.7 460.6M988.7 473.4L999.5 471.1M952.6 451L957.1 455.1L964.6 458.1L966.3 462.2L963.5 469.6L968.9 470.8L982.2 475.9M748.7 573L767 571.8L785.3 570.4L803.5 568.8L821.8 567L840 565.1L858.2 562.9L876.3 560.5M876.3 560.5L888 554.4L911.9 551.9L912.3 554.1L917.5 558.4L937.4 555.5L960.9 572.2M854.8 563.3L858.7 556.1L867.6 548.9L876.1 539.3L881.9 536.3L890.4 533.9L896.1 522.1M786 570.4L788 572.4L786.7 639L790.8 674M832.1 565.9L844.9 611.9L849.6 624L850.5 639.4L852.9 652.4M808.5 670.2L804.5 657.4M804.5 657.4L820.6 655.9L836.8 654.2L852.9 652.4M852.9 652.4L856.3 658.6L906.3 654.9L909.8 659.1L909.5 650.5L919.9 650M876.3 560.5L872.8 567.7L881.5 572.1L889.3 582.1L901.6 591.5L911.2 600.1L914.4 608.5L921.6 618.6L925.5 619.5M994.7 313.5L996.5 324.3L1001.2 343.6L1003.8 344.1L1007.5 361.3L1007.7 377.2L1010.8 393.5L1008.9 398.5L1010.7 400.3M1007.6 361.8L1023 357.9L1038.3 354L1041 351.5L1043.6 349.1M1007.7 377.4L1021.1 374.3L1034.5 371.2L1037.8 370.3L1041.1 369.4L1041.4 370.7L1041.8 372L1044.9 375.7L1048.1 379.4M1034.5 371.2L1038 384.4L1037.5 386.4M1020.3 358.6L1018.2 346.2L1018.5 334.7L1018.1 323.5L1023.8 317.5L1022.4 306.2M1045.1 343.7L1039.4 338.4L1027.1 298.4M731.9 318.6L752.2 326.5L767.8 329.9L773.4 342L777 347.1" fill="none" stroke="#2a2a1a" stroke-opacity="0.6" stroke-width="0.9" stroke-linejoin="round"/></g>
<polygon points="232.1,218.8 237.5,223.9 246.1,228.7 253.7,231.6 257.6,233.5 261.4,223 262.4,214.4 289.2,222.6 317,229.7 342.8,235.4 371.5,241.2 396.4,246 420,248.8 420,249.4 448.7,254.6 483.2,259.4 529.2,264.2 573.2,266.7 611.5,267.8 657.5,268.2 657.5,260.3 660,260.3 662.9,261.3 664.8,272.8 668.6,274.7 677.2,276.6 683,275.7 694.5,276.6 700.2,282.4 706,282.4 707.9,286.2 719.4,283.3 732.8,285.2 739.5,287.2 732.8,291.9 721.3,300.6 711.7,311.1 705,316.8 707.9,315.9 721.3,311.1 724.2,314.9 726.1,318.8 729,318.8 744.3,311.1 755.8,303.4 761.5,297.7 768.2,296.3 766.3,299.6 761.5,307.3 764.4,309.2 773,312.1 778.8,315.9 786.4,314.9 794.1,311.1 805.6,308.2 811.3,307.3 811.3,313 822.8,311.1 824.7,316.8 832.4,319.9 834.3,321.9 832.4,326.7 820.9,327.7 832.4,331.5 840,337.2 842,344.9 841,354.5 836.2,364.1 838.1,371.7 843.9,366 849.6,362.1 853.5,364.1 856.3,373.6 860.2,385.1 860.2,392.8 856.3,390.9 852.5,400.4 848.7,411.9 851.5,413.9 863,417.7 870.7,413.9 882.2,406.2 889.8,400.4 900,395.7 900,396.6 907.7,390.9 917.2,385.1 914.4,377.5 913.4,369.8 923,366 940.2,365 949.8,360.2 954.6,351.6 950.8,346.8 951.7,341.1 957.5,333.4 967,320 967,319.9 991.9,314 1019.7,307.3 1020.7,299.6 1027.4,297.7 1030.2,290 1031.2,276.6 1032.2,265.1 1038.9,246 1043.7,248.8 1052.3,244.1 1059,246 1062.8,251.7 1069.5,274.7 1075.3,277.6 1078.1,284.3 1084.8,287.2 1087.7,291.9 1083.9,297.7 1080,304.4 1072.4,308.2 1068.6,313 1064.7,314.9 1060.9,319.9 1062.8,320 1053.2,325.7 1042.7,341.1 1041.7,348.7 1046.5,354.5 1042.7,361.2 1053.2,366.9 1059,365 1062.8,369.8 1053.2,375.5 1045.6,379.4 1037.9,383.2 1034.1,389 1030.2,393.7 1022.6,396.6 1007.3,402.4 1007.3,404.3 1022.6,398.5 1034.1,393.7 1032.2,396.6 1018.8,405.2 1004.4,410 1003.4,415.8 1006.3,421.5 1005.3,433 1003.4,439.9 1003.4,440 999.6,447.7 995.8,455.3 997.7,464.9 994.8,472.6 992.9,480.2 991,489.8 988.1,491.7 990,497.5 992.9,504.2 997.7,512.8 999.6,520.4 995.8,526.2 1001.5,532.9 995.8,539.6 990,547.3 980.4,553 972.8,559.9 971.8,560 968,569.6 959.4,571.5 951.7,579.2 947.9,590.6 942.1,598.3 930.6,606.9 928.7,612.7 921.1,623.2 918.2,636.6 917.2,646.2 919.2,657.7 924.9,669.2 930.6,679.9 930.6,680 938.3,689.6 944.1,701.1 949.8,712.6 955.5,724.1 958.4,735.5 959.4,749 958.4,758.5 955.5,764.3 946,767.2 941.2,766.2 938.3,758.5 932.6,752.8 925.9,747 923.9,743.2 919.2,740.3 917.2,733.6 913.4,735.5 909.6,729.8 903.8,724.1 904.8,718.3 900,714.5 900,713.5 898.5,706.8 899.4,693.4 898.5,689.6 889.8,683.8 884.1,680 885.1,679.9 880.3,672.1 872.6,670.1 866.9,674 864,679.9 859.2,682.6 851.5,681.6 848.7,677.8 842,673 832.4,669.2 822.8,667.3 813.2,669.2 805.6,673 797.9,671.1 796,665.3 794.1,669.2 782.6,671.1 771.1,674.9 767.3,679.9 774.9,680 771.1,683.8 767.3,691.5 774.9,695.3 778.8,699.2 773,702 763.4,696.3 755.8,701.1 750,698.2 744.3,703 734.7,699.2 730.9,693.4 725.1,688.6 721.3,690.5 717.5,694.4 707.9,691.5 698.3,689.6 686.8,690.5 679.2,693.4 671.5,696.3 665.7,701.1 660,706.8 651,713 635.6,720.9 625,728.5 621.5,733.6 617.7,743.8 619,756.6 622.8,772 617.7,775.8 610,772 600,768 589.6,764 584.5,756.6 579,746 577,736 566.6,723 559,708 554,699 543.6,690 536,685 523,686 515.6,698 509,703 500,698 490,690 482,680 481.3,675.4 477.5,662.6 469.8,656.2 459.6,644.7 455.1,639.6 450.7,631.3 449.4,635.1 420.7,632.6 419.4,641.5 403.4,639 365.1,634.5 360,630 329.4,610.8 303.5,595.4 310.2,591.6 262.4,586.8 260.4,583 261.4,575.3 258.5,564.8 251.8,560 251.8,559.9 247,554.9 243.2,547.3 235.5,543.4 227.9,537.7 218.3,531.9 211.6,526.2 212.6,518.5 210.6,510.9 206.8,501.3 203,491.7 200.1,482.1 203,474.5 199.2,470.6 197.2,463 198.2,451.5 194.4,447.7 191.5,440 193.4,439.9 191.5,434.9 186.7,425.3 187.7,415.8 189.6,402.4 184.8,390.9 185.7,383.2 195.3,366 197.2,354.5 197.2,341.1 201.1,329.6 208.7,320 208.7,319.9 216.4,303.4 221.2,291.9 225,280.4 227.9,269.9 226.9,265.1 230.2,257.5 231.3,247.9 230.8,238.3 229.4,228.7 230.2,221.1" fill="none" stroke="#777" stroke-width="0.8" stroke-linejoin="round"/>
<polygon points="797,327.7 803.7,324.8 811.3,325.7 818,328.6 813.2,332.5 810.4,338.2 807.5,343.9 808.4,350.6 802.7,348.7 798.9,352.6 795,364.1 794.1,373.6 797,383.2 801.7,396.6 800.8,406.2 797,415.8 790.2,421.5 784.5,422.5 779.7,415.8 776.8,406.2 774.9,392.8 776.8,377.5 777.8,364.1 779.7,354.5 774.9,356.4 770.1,359.3 773,352.6 779.7,341.1 786.4,337.2 790.2,331.5" fill="#fff" stroke="#888" stroke-width="0.8"/>
<polygon points="977.5,440 980.5,440 977.8,453 981,467 986.5,481 990.5,493 993,497.5 989,497.5 985.5,490 982,482 977,468 974.2,454 975.5,446" fill="#fff" stroke="#999" stroke-width="0.5"/>
<polygon points="253.2,647.7 263.4,652.8 286.4,654 295.4,656.6 308.1,725.6 299.2,728.1 289,729.4 283.9,725.6 278.8,731.9 268.6,738.3 267.3,729.4 263.4,731.9 259.6,744.7 250.7,752.4 240.5,760 227.7,765.1 212.4,771.5 211.1,772.8 222.6,765.1 235.4,757.5 243,749.8 246.8,742.2 239.2,744.7 230.2,740.9 227.7,734.5 220,726.8 216.2,719.2 220,711.5 227.7,707.7 236.6,703.8 237.9,697.5 227.7,698.7 220,694.9 216.2,687.2 225.1,682.1 232.8,683.4 235.4,678.3 227.7,670.6 225.1,664.3 237.9,657.9 245.6,650.2" fill="#ffff99" stroke="#8a8a7a" stroke-width="0.6" stroke-linejoin="round"/>
<polygon points="263.4,706.4 268.6,701.3 281.3,700 282.6,705.1 273.7,710.2 266,712.8" fill="#00c896" stroke="none" stroke-width="0.6" stroke-linejoin="round"/>
<polygon points="327.3,726.8 340.1,735.8 341.3,747.3 336.2,749.8 329.8,739.6 326,731.9" fill="#ffff99" stroke="#8a8a7a" stroke-width="0.6" stroke-linejoin="round"/>
<polygon points="297.9,728.1 313.2,725.6 324.7,733.2 340.1,739.6 338.8,742.2 324.7,737 312,730.7 299.2,730.7" fill="#00c896" stroke="#4a9" stroke-width="0.4" stroke-linejoin="round"/>
<polygon points="341.3,738.3 359.2,746 360.5,753.6 352.8,758.8 345.2,752.4 341.3,744.7" fill="#fc8d59" stroke="#b5643f" stroke-width="0.5" stroke-linejoin="round"/>
<polygon points="190.7,780 204.7,774.1 205.2,775.9 191.9,781.2" fill="#00c896" stroke="#4a9" stroke-width="0.4" stroke-linejoin="round"/>
<polygon points="255.8,752.4 266,746 267.3,749.8 259.6,758.8" fill="#ffff99" stroke="#8a8a7a" stroke-width="0.6" stroke-linejoin="round"/>
<polygon points="199.6,697.5 208.5,702.6 207.3,705.1 199.1,700" fill="#ffff99" stroke="#8a8a7a" stroke-width="0.6" stroke-linejoin="round"/>
<polygon points="208.5,727.3 216.2,728.1 215.4,731.4 209.3,730.7" fill="#ffff99" stroke="#8a8a7a" stroke-width="0.6" stroke-linejoin="round"/>
<rect x="111.5" y="751.6" width="2.2" height="1.4" fill="#1aa682"/>
<rect x="128.6" y="766.9" width="2.2" height="1.4" fill="#1aa682"/>
<rect x="133.7" y="772.8" width="2.2" height="1.4" fill="#1aa682"/>
<rect x="148" y="776.9" width="2.2" height="1.4" fill="#1aa682"/>
<rect x="154.1" y="778.4" width="2.2" height="1.4" fill="#1aa682"/>
<rect x="164.4" y="779.4" width="2.2" height="1.4" fill="#1aa682"/>
<rect x="173.3" y="780.5" width="2.2" height="1.4" fill="#1aa682"/>
<rect x="184.3" y="780" width="2.2" height="1.4" fill="#1aa682"/>
<path d="M228 672 L295 668 M255 690 L296 690 M262 716 L302 712 M262 700 L262 730 M283 690 L283 728" stroke="#b5b58a" stroke-width="0.5" fill="none"/>
<circle cx="389.2" cy="712.4" r="4.6" fill="#ffff99" stroke="#8a8a7a" stroke-width="0.6"/>
<rect x="374.5" y="714.5" width="2.5" height="3.5" fill="#ffff99" stroke="#8a8a7a" stroke-width="0.5" transform="rotate(25 376 716)"/>
<polygon points="414.7,723.4 421.1,719.6 427.5,728.5 419.8,729.8" fill="#ffff99" stroke="#8a8a7a" stroke-width="0.6" stroke-linejoin="round"/>
<polygon points="435.1,731.8 446.6,730.8 446.6,733.1 435.9,733.9" fill="#ffff99" stroke="#8a8a7a" stroke-width="0.6" stroke-linejoin="round"/>
<polygon points="440.2,737.5 444.1,738.2 444.1,741.3 440.2,740.8" fill="#ffff99" stroke="#8a8a7a" stroke-width="0.6" stroke-linejoin="round"/>
<polygon points="447.9,736.2 451.7,734.9 460.7,740 460.7,743.8 451.7,743.8" fill="#ffff99" stroke="#8a8a7a" stroke-width="0.6" stroke-linejoin="round"/>
<polygon points="464.5,751.5 479.8,759.2 486.2,768.1 477.3,773.2 468.3,780.9 461.9,777 463.2,766.8 459.4,763" fill="#00c896" stroke="#2b8a6e" stroke-width="0.6" stroke-linejoin="round"/>
<polygon points="745.3,288.5 754.5,282.3 756,282.6 755,284.5 747,290 745.5,290" fill="#00c896" stroke="#2b8a6e" stroke-width="0.5" stroke-linejoin="round"/>
<polygon points="931.5,781 936,776.5 940.5,775 940.8,776.5 937,779.5 932.5,782" fill="#ffff99" stroke="#8a8a7a" stroke-width="0.5" stroke-linejoin="round"/>
<polygon points="943,776 946,774.5 946.3,775.3 943.4,776.8" fill="#ffff99" stroke="#8a8a7a" stroke-width="0.4" stroke-linejoin="round"/>
<polygon points="1047.5,764 1054,762.6 1072,763 1080,764.5 1081.5,768 1077,773.5 1070,776 1049,776 1047.8,770" fill="#10b98a" stroke="#1f7a60" stroke-width="0.6" stroke-linejoin="round"/>
<path d="M1083 770.5l4.5-1.2l.3 1.3l-4.5 1.3zM1087.5 766l1.2-.3l.4 2l-1.2.2z" fill="#10b98a"/>
<path d="M1093.8 765.2l3.6.4l-.8 2.2l-2-.6zM1096.2 779.5l2.2-1.2l2.6 1.4l-.6 1.3l-4 .2z" fill="#d9d9d9" stroke="#999" stroke-width="0.5"/>
<path d="M240.5 560.5l2.5 1l1.5 3.2l-2.4-.3zM238 570.5l1.6.6l2 4.6l-1.8-.8z" fill="#e8794a" stroke="#b5643f" stroke-width="0.4"/>
<path d="M214.5 542.5l3-.6l2.2 2.2l-3 .4zM220.5 543l2.6-.4l2 2.2l-2.6.2z" fill="#ffff99" stroke="#9a9a7a" stroke-width="0.5"/>
<path d="M116.6 591l2.6-3.6l2.2.6l-2.2 5.6l-2.2.4zM112.7 621.5l5-4l2.6 1l-5.4 5zM137.4 556l2.6-5.4l1 .6l-2.4 6.2zM127.2 574l3-1.2l-.6 2.6z" fill="#f2f2f2" stroke="#777" stroke-width="0.6"/>
<path d="M1065.2 321.5L1006.5 331.3M1065.2 341.5L1025.1 335.2M1065.2 360.3L1030 366.5M1069.5 382.2L1037.2 377.3M1059.7 402.7L1019.2 383.7M1047.6 421.7L999.7 421.7M1026 450.6L988 450.2M1021.8 465.9L966.4 454M997.9 480.4L963.1 457.5M1075.2 745.9L1063.5 769.4M1108.8 764.4L1097 775.2M119.4 590.4L132 584M118.4 619.3L128.6 620" stroke="#1a1a1a" stroke-width="1.1" fill="none"/>
<g font-family="Liberation Sans, sans-serif" font-size="15.4" fill="#3a3a3a"><text x="1070" y="326.4">VT</text><text x="1070" y="345">NH</text><text x="1070" y="365">MA</text><text x="1075" y="386">RI</text><text x="1065.2" y="406.2">CT</text><text x="1053.5" y="426.2">NJ</text><text x="1031.5" y="454.5">DE</text><text x="1026.7" y="469.8">MD</text><text x="1003.6" y="484.9">DC</text><text x="1080.3" y="750">PR</text><text x="1113.8" y="767.7">VI</text><text x="137" y="588">GU</text><text x="133.5" y="624">AS</text></g>
<g transform="translate(1120,745) scale(0.0878)" fill="none" stroke="#1e5bb0" stroke-width="25" stroke-linecap="round" stroke-linejoin="round"><path d="M432 100C400 150 330 190 265 255C235 300 235 340 228 372L215 386L140 386L125 402"/><path d="M98 433C130 420 200 445 270 480C300 495 300 510 285 530C265 550 250 570 262 588L285 592"/><path d="M470 150C440 200 370 240 318 290C290 330 285 370 290 400C300 420 290 440 292 455C330 475 352 490 345 510C330 525 312 540 322 555L362 550"/><path d="M455 230C430 270 380 300 345 340C332 370 338 390 350 405C345 420 350 430 375 430C410 432 440 445 488 430C450 420 420 415 395 422"/></g>
<rect x="1173.1" y="761.1" width="47.4" height="28.9" fill="#1560ad"/>
<g clip-path="url(#cdcb)"><path d="M1165 830L1179.6 710.9M1165 830L1185.8 711.8M1165 830L1192 713.1M1165 830L1198.1 714.6M1165 830L1204.1 716.5M1165 830L1210 718.7M1165 830L1217.6 722.1M1165 830L1225 726.1M1165 830L1232.1 730.5M1165 830L1238.9 735.4M1165 830L1245.3 740.8M1165 830L1251.3 746.6M1165 830L1256.9 752.9M1165 830L1262.1 759.5M1165 830L1266.8 766.4" stroke="#fff" stroke-width="0.6" opacity="0.8" fill="none"/></g>
<text x="1174.6" y="781.3" font-family="Liberation Serif, serif" font-weight="bold" font-size="24.5" fill="#fff" textLength="44" lengthAdjust="spacingAndGlyphs">CDC</text>
<!--/MAP-->
</svg>
<div id="legend">
<div class="t">Legend</div>
<div class="li" style="left:20px;top:78px"><i style="background:#fc8d59;border-color:#b5643f"></i><span>High</span></div>
<div class="li" style="left:20px;top:126px"><i style="background:#00c896;border-color:#128a6b"></i><span>Low</span></div>
<div class="li" style="left:628px;top:78px"><i style="background:#ffff99;border-color:#b5b56a"></i><span>Medium</span></div>
<div class="li" style="left:628px;top:126px"><i style="background:#ededed;border-color:#999"></i><span>N/A</span></div>
</div>
</body></html>
